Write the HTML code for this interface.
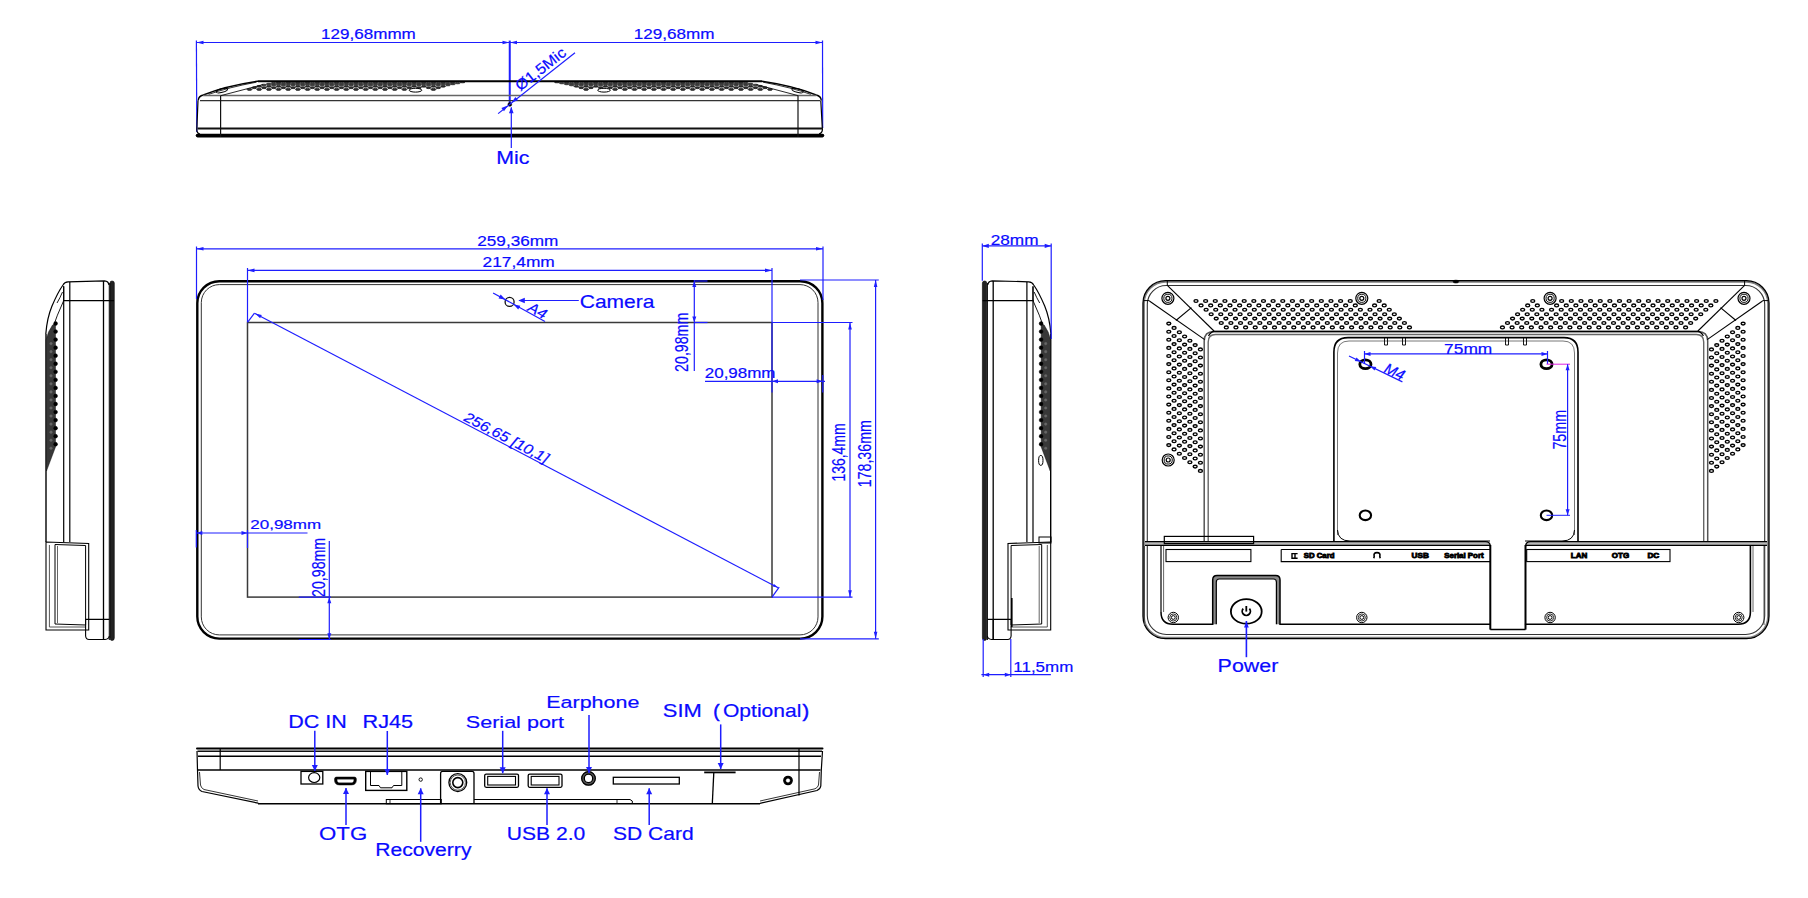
<!DOCTYPE html>
<html><head><meta charset="utf-8"><style>
html,body{margin:0;padding:0;background:#fff;}
body{width:1808px;height:898px;overflow:hidden;}
svg{display:block;font-family:"Liberation Sans",sans-serif;}
</style></head><body>
<svg width="1808" height="898" viewBox="0 0 1808 898">
<rect width="1808" height="898" fill="#fff"/>
<line x1="196.00" y1="42.50" x2="823.00" y2="42.50" stroke="#1e1eff" stroke-width="1.2" />
<line x1="196.40" y1="40.50" x2="196.80" y2="132.00" stroke="#1e1eff" stroke-width="1.2" />
<line x1="822.50" y1="40.50" x2="822.70" y2="128.00" stroke="#1e1eff" stroke-width="1.2" />
<line x1="509.75" y1="40.60" x2="509.75" y2="104.40" stroke="#1e1eff" stroke-width="2" />
<path d="M196.50,42.50 L203.50,40.70 L203.50,44.30 Z" fill="#1e1eff"/>
<path d="M822.50,42.50 L815.50,44.30 L815.50,40.70 Z" fill="#1e1eff"/>
<path d="M509.50,42.50 L502.50,44.30 L502.50,40.70 Z" fill="#1e1eff"/>
<path d="M510.00,42.50 L517.00,40.70 L517.00,44.30 Z" fill="#1e1eff"/>
<text x="321.10" y="38.87" font-size="14.565" fill="#0a0aff" textLength="94.72" lengthAdjust="spacingAndGlyphs" stroke="#0a0aff" stroke-width="0.2">129,68mmm</text>
<text x="633.80" y="38.87" font-size="14.565" fill="#0a0aff" textLength="80.73" lengthAdjust="spacingAndGlyphs" stroke="#0a0aff" stroke-width="0.2">129,68mm</text>
<ellipse cx="249.50" cy="89.40" rx="2.50" ry="1.00" stroke="#111" stroke-width="0.7" fill="#333" transform="rotate(0 249.50 89.40)"/>
<ellipse cx="770.00" cy="89.40" rx="2.50" ry="1.00" stroke="#111" stroke-width="0.7" fill="#333" transform="rotate(0 770.00 89.40)"/>
<ellipse cx="259.18" cy="89.40" rx="2.50" ry="1.00" stroke="#111" stroke-width="0.7" fill="#333" transform="rotate(0 259.18 89.40)"/>
<ellipse cx="760.32" cy="89.40" rx="2.50" ry="1.00" stroke="#111" stroke-width="0.7" fill="#333" transform="rotate(0 760.32 89.40)"/>
<ellipse cx="268.86" cy="89.40" rx="2.50" ry="1.00" stroke="#111" stroke-width="0.7" fill="#333" transform="rotate(0 268.86 89.40)"/>
<ellipse cx="750.64" cy="89.40" rx="2.50" ry="1.00" stroke="#111" stroke-width="0.7" fill="#333" transform="rotate(0 750.64 89.40)"/>
<ellipse cx="278.54" cy="89.40" rx="2.50" ry="1.00" stroke="#111" stroke-width="0.7" fill="#333" transform="rotate(0 278.54 89.40)"/>
<ellipse cx="740.96" cy="89.40" rx="2.50" ry="1.00" stroke="#111" stroke-width="0.7" fill="#333" transform="rotate(0 740.96 89.40)"/>
<ellipse cx="288.22" cy="89.40" rx="2.50" ry="1.00" stroke="#111" stroke-width="0.7" fill="#333" transform="rotate(0 288.22 89.40)"/>
<ellipse cx="731.28" cy="89.40" rx="2.50" ry="1.00" stroke="#111" stroke-width="0.7" fill="#333" transform="rotate(0 731.28 89.40)"/>
<ellipse cx="297.90" cy="89.40" rx="2.50" ry="1.00" stroke="#111" stroke-width="0.7" fill="#333" transform="rotate(0 297.90 89.40)"/>
<ellipse cx="721.60" cy="89.40" rx="2.50" ry="1.00" stroke="#111" stroke-width="0.7" fill="#333" transform="rotate(0 721.60 89.40)"/>
<ellipse cx="307.58" cy="89.40" rx="2.50" ry="1.00" stroke="#111" stroke-width="0.7" fill="#333" transform="rotate(0 307.58 89.40)"/>
<ellipse cx="711.92" cy="89.40" rx="2.50" ry="1.00" stroke="#111" stroke-width="0.7" fill="#333" transform="rotate(0 711.92 89.40)"/>
<ellipse cx="317.26" cy="89.40" rx="2.50" ry="1.00" stroke="#111" stroke-width="0.7" fill="#333" transform="rotate(0 317.26 89.40)"/>
<ellipse cx="702.24" cy="89.40" rx="2.50" ry="1.00" stroke="#111" stroke-width="0.7" fill="#333" transform="rotate(0 702.24 89.40)"/>
<ellipse cx="326.94" cy="89.40" rx="2.50" ry="1.00" stroke="#111" stroke-width="0.7" fill="#333" transform="rotate(0 326.94 89.40)"/>
<ellipse cx="692.56" cy="89.40" rx="2.50" ry="1.00" stroke="#111" stroke-width="0.7" fill="#333" transform="rotate(0 692.56 89.40)"/>
<ellipse cx="336.62" cy="89.40" rx="2.50" ry="1.00" stroke="#111" stroke-width="0.7" fill="#333" transform="rotate(0 336.62 89.40)"/>
<ellipse cx="682.88" cy="89.40" rx="2.50" ry="1.00" stroke="#111" stroke-width="0.7" fill="#333" transform="rotate(0 682.88 89.40)"/>
<ellipse cx="346.30" cy="89.40" rx="2.50" ry="1.00" stroke="#111" stroke-width="0.7" fill="#333" transform="rotate(0 346.30 89.40)"/>
<ellipse cx="673.20" cy="89.40" rx="2.50" ry="1.00" stroke="#111" stroke-width="0.7" fill="#333" transform="rotate(0 673.20 89.40)"/>
<ellipse cx="355.98" cy="89.40" rx="2.50" ry="1.00" stroke="#111" stroke-width="0.7" fill="#333" transform="rotate(0 355.98 89.40)"/>
<ellipse cx="663.52" cy="89.40" rx="2.50" ry="1.00" stroke="#111" stroke-width="0.7" fill="#333" transform="rotate(0 663.52 89.40)"/>
<ellipse cx="365.66" cy="89.40" rx="2.50" ry="1.00" stroke="#111" stroke-width="0.7" fill="#333" transform="rotate(0 365.66 89.40)"/>
<ellipse cx="653.84" cy="89.40" rx="2.50" ry="1.00" stroke="#111" stroke-width="0.7" fill="#333" transform="rotate(0 653.84 89.40)"/>
<ellipse cx="375.34" cy="89.40" rx="2.50" ry="1.00" stroke="#111" stroke-width="0.7" fill="#333" transform="rotate(0 375.34 89.40)"/>
<ellipse cx="644.16" cy="89.40" rx="2.50" ry="1.00" stroke="#111" stroke-width="0.7" fill="#333" transform="rotate(0 644.16 89.40)"/>
<ellipse cx="385.02" cy="89.40" rx="2.50" ry="1.00" stroke="#111" stroke-width="0.7" fill="#333" transform="rotate(0 385.02 89.40)"/>
<ellipse cx="634.48" cy="89.40" rx="2.50" ry="1.00" stroke="#111" stroke-width="0.7" fill="#333" transform="rotate(0 634.48 89.40)"/>
<ellipse cx="394.70" cy="89.40" rx="2.50" ry="1.00" stroke="#111" stroke-width="0.7" fill="#333" transform="rotate(0 394.70 89.40)"/>
<ellipse cx="624.80" cy="89.40" rx="2.50" ry="1.00" stroke="#111" stroke-width="0.7" fill="#333" transform="rotate(0 624.80 89.40)"/>
<ellipse cx="404.38" cy="89.40" rx="2.50" ry="1.00" stroke="#111" stroke-width="0.7" fill="#333" transform="rotate(0 404.38 89.40)"/>
<ellipse cx="615.12" cy="89.40" rx="2.50" ry="1.00" stroke="#111" stroke-width="0.7" fill="#333" transform="rotate(0 615.12 89.40)"/>
<ellipse cx="433.42" cy="89.40" rx="2.50" ry="1.00" stroke="#111" stroke-width="0.7" fill="#333" transform="rotate(0 433.42 89.40)"/>
<ellipse cx="586.08" cy="89.40" rx="2.50" ry="1.00" stroke="#111" stroke-width="0.7" fill="#333" transform="rotate(0 586.08 89.40)"/>
<ellipse cx="254.34" cy="87.70" rx="2.50" ry="0.94" stroke="#111" stroke-width="0.7" fill="#333" transform="rotate(0 254.34 87.70)"/>
<ellipse cx="765.16" cy="87.70" rx="2.50" ry="0.94" stroke="#111" stroke-width="0.7" fill="#333" transform="rotate(0 765.16 87.70)"/>
<ellipse cx="264.02" cy="87.70" rx="2.50" ry="0.94" stroke="#111" stroke-width="0.7" fill="#333" transform="rotate(0 264.02 87.70)"/>
<ellipse cx="755.48" cy="87.70" rx="2.50" ry="0.94" stroke="#111" stroke-width="0.7" fill="#333" transform="rotate(0 755.48 87.70)"/>
<ellipse cx="273.70" cy="87.70" rx="2.50" ry="0.94" stroke="#111" stroke-width="0.7" fill="#333" transform="rotate(0 273.70 87.70)"/>
<ellipse cx="745.80" cy="87.70" rx="2.50" ry="0.94" stroke="#111" stroke-width="0.7" fill="#333" transform="rotate(0 745.80 87.70)"/>
<ellipse cx="283.38" cy="87.70" rx="2.50" ry="0.94" stroke="#111" stroke-width="0.7" fill="#333" transform="rotate(0 283.38 87.70)"/>
<ellipse cx="736.12" cy="87.70" rx="2.50" ry="0.94" stroke="#111" stroke-width="0.7" fill="#333" transform="rotate(0 736.12 87.70)"/>
<ellipse cx="293.06" cy="87.70" rx="2.50" ry="0.94" stroke="#111" stroke-width="0.7" fill="#333" transform="rotate(0 293.06 87.70)"/>
<ellipse cx="726.44" cy="87.70" rx="2.50" ry="0.94" stroke="#111" stroke-width="0.7" fill="#333" transform="rotate(0 726.44 87.70)"/>
<ellipse cx="302.74" cy="87.70" rx="2.50" ry="0.94" stroke="#111" stroke-width="0.7" fill="#333" transform="rotate(0 302.74 87.70)"/>
<ellipse cx="716.76" cy="87.70" rx="2.50" ry="0.94" stroke="#111" stroke-width="0.7" fill="#333" transform="rotate(0 716.76 87.70)"/>
<ellipse cx="312.42" cy="87.70" rx="2.50" ry="0.94" stroke="#111" stroke-width="0.7" fill="#333" transform="rotate(0 312.42 87.70)"/>
<ellipse cx="707.08" cy="87.70" rx="2.50" ry="0.94" stroke="#111" stroke-width="0.7" fill="#333" transform="rotate(0 707.08 87.70)"/>
<ellipse cx="322.10" cy="87.70" rx="2.50" ry="0.94" stroke="#111" stroke-width="0.7" fill="#333" transform="rotate(0 322.10 87.70)"/>
<ellipse cx="697.40" cy="87.70" rx="2.50" ry="0.94" stroke="#111" stroke-width="0.7" fill="#333" transform="rotate(0 697.40 87.70)"/>
<ellipse cx="331.78" cy="87.70" rx="2.50" ry="0.94" stroke="#111" stroke-width="0.7" fill="#333" transform="rotate(0 331.78 87.70)"/>
<ellipse cx="687.72" cy="87.70" rx="2.50" ry="0.94" stroke="#111" stroke-width="0.7" fill="#333" transform="rotate(0 687.72 87.70)"/>
<ellipse cx="341.46" cy="87.70" rx="2.50" ry="0.94" stroke="#111" stroke-width="0.7" fill="#333" transform="rotate(0 341.46 87.70)"/>
<ellipse cx="678.04" cy="87.70" rx="2.50" ry="0.94" stroke="#111" stroke-width="0.7" fill="#333" transform="rotate(0 678.04 87.70)"/>
<ellipse cx="351.14" cy="87.70" rx="2.50" ry="0.94" stroke="#111" stroke-width="0.7" fill="#333" transform="rotate(0 351.14 87.70)"/>
<ellipse cx="668.36" cy="87.70" rx="2.50" ry="0.94" stroke="#111" stroke-width="0.7" fill="#333" transform="rotate(0 668.36 87.70)"/>
<ellipse cx="360.82" cy="87.70" rx="2.50" ry="0.94" stroke="#111" stroke-width="0.7" fill="#333" transform="rotate(0 360.82 87.70)"/>
<ellipse cx="658.68" cy="87.70" rx="2.50" ry="0.94" stroke="#111" stroke-width="0.7" fill="#333" transform="rotate(0 658.68 87.70)"/>
<ellipse cx="370.50" cy="87.70" rx="2.50" ry="0.94" stroke="#111" stroke-width="0.7" fill="#333" transform="rotate(0 370.50 87.70)"/>
<ellipse cx="649.00" cy="87.70" rx="2.50" ry="0.94" stroke="#111" stroke-width="0.7" fill="#333" transform="rotate(0 649.00 87.70)"/>
<ellipse cx="380.18" cy="87.70" rx="2.50" ry="0.94" stroke="#111" stroke-width="0.7" fill="#333" transform="rotate(0 380.18 87.70)"/>
<ellipse cx="639.32" cy="87.70" rx="2.50" ry="0.94" stroke="#111" stroke-width="0.7" fill="#333" transform="rotate(0 639.32 87.70)"/>
<ellipse cx="389.86" cy="87.70" rx="2.50" ry="0.94" stroke="#111" stroke-width="0.7" fill="#333" transform="rotate(0 389.86 87.70)"/>
<ellipse cx="629.64" cy="87.70" rx="2.50" ry="0.94" stroke="#111" stroke-width="0.7" fill="#333" transform="rotate(0 629.64 87.70)"/>
<ellipse cx="399.54" cy="87.70" rx="2.50" ry="0.94" stroke="#111" stroke-width="0.7" fill="#333" transform="rotate(0 399.54 87.70)"/>
<ellipse cx="619.96" cy="87.70" rx="2.50" ry="0.94" stroke="#111" stroke-width="0.7" fill="#333" transform="rotate(0 619.96 87.70)"/>
<ellipse cx="409.22" cy="87.70" rx="2.50" ry="0.94" stroke="#111" stroke-width="0.7" fill="#333" transform="rotate(0 409.22 87.70)"/>
<ellipse cx="610.28" cy="87.70" rx="2.50" ry="0.94" stroke="#111" stroke-width="0.7" fill="#333" transform="rotate(0 610.28 87.70)"/>
<ellipse cx="418.90" cy="87.70" rx="2.50" ry="0.94" stroke="#111" stroke-width="0.7" fill="#333" transform="rotate(0 418.90 87.70)"/>
<ellipse cx="600.60" cy="87.70" rx="2.50" ry="0.94" stroke="#111" stroke-width="0.7" fill="#333" transform="rotate(0 600.60 87.70)"/>
<ellipse cx="428.58" cy="87.70" rx="2.50" ry="0.94" stroke="#111" stroke-width="0.7" fill="#333" transform="rotate(0 428.58 87.70)"/>
<ellipse cx="590.92" cy="87.70" rx="2.50" ry="0.94" stroke="#111" stroke-width="0.7" fill="#333" transform="rotate(0 590.92 87.70)"/>
<ellipse cx="438.26" cy="87.70" rx="2.50" ry="0.94" stroke="#111" stroke-width="0.7" fill="#333" transform="rotate(0 438.26 87.70)"/>
<ellipse cx="581.24" cy="87.70" rx="2.50" ry="0.94" stroke="#111" stroke-width="0.7" fill="#333" transform="rotate(0 581.24 87.70)"/>
<ellipse cx="259.18" cy="86.30" rx="2.50" ry="0.88" stroke="#111" stroke-width="0.7" fill="#333" transform="rotate(0 259.18 86.30)"/>
<ellipse cx="760.32" cy="86.30" rx="2.50" ry="0.88" stroke="#111" stroke-width="0.7" fill="#333" transform="rotate(0 760.32 86.30)"/>
<ellipse cx="268.86" cy="86.30" rx="2.50" ry="0.88" stroke="#111" stroke-width="0.7" fill="#333" transform="rotate(0 268.86 86.30)"/>
<ellipse cx="750.64" cy="86.30" rx="2.50" ry="0.88" stroke="#111" stroke-width="0.7" fill="#333" transform="rotate(0 750.64 86.30)"/>
<ellipse cx="278.54" cy="86.30" rx="2.50" ry="0.88" stroke="#111" stroke-width="0.7" fill="#333" transform="rotate(0 278.54 86.30)"/>
<ellipse cx="740.96" cy="86.30" rx="2.50" ry="0.88" stroke="#111" stroke-width="0.7" fill="#333" transform="rotate(0 740.96 86.30)"/>
<ellipse cx="288.22" cy="86.30" rx="2.50" ry="0.88" stroke="#111" stroke-width="0.7" fill="#333" transform="rotate(0 288.22 86.30)"/>
<ellipse cx="731.28" cy="86.30" rx="2.50" ry="0.88" stroke="#111" stroke-width="0.7" fill="#333" transform="rotate(0 731.28 86.30)"/>
<ellipse cx="297.90" cy="86.30" rx="2.50" ry="0.88" stroke="#111" stroke-width="0.7" fill="#333" transform="rotate(0 297.90 86.30)"/>
<ellipse cx="721.60" cy="86.30" rx="2.50" ry="0.88" stroke="#111" stroke-width="0.7" fill="#333" transform="rotate(0 721.60 86.30)"/>
<ellipse cx="307.58" cy="86.30" rx="2.50" ry="0.88" stroke="#111" stroke-width="0.7" fill="#333" transform="rotate(0 307.58 86.30)"/>
<ellipse cx="711.92" cy="86.30" rx="2.50" ry="0.88" stroke="#111" stroke-width="0.7" fill="#333" transform="rotate(0 711.92 86.30)"/>
<ellipse cx="317.26" cy="86.30" rx="2.50" ry="0.88" stroke="#111" stroke-width="0.7" fill="#333" transform="rotate(0 317.26 86.30)"/>
<ellipse cx="702.24" cy="86.30" rx="2.50" ry="0.88" stroke="#111" stroke-width="0.7" fill="#333" transform="rotate(0 702.24 86.30)"/>
<ellipse cx="326.94" cy="86.30" rx="2.50" ry="0.88" stroke="#111" stroke-width="0.7" fill="#333" transform="rotate(0 326.94 86.30)"/>
<ellipse cx="692.56" cy="86.30" rx="2.50" ry="0.88" stroke="#111" stroke-width="0.7" fill="#333" transform="rotate(0 692.56 86.30)"/>
<ellipse cx="336.62" cy="86.30" rx="2.50" ry="0.88" stroke="#111" stroke-width="0.7" fill="#333" transform="rotate(0 336.62 86.30)"/>
<ellipse cx="682.88" cy="86.30" rx="2.50" ry="0.88" stroke="#111" stroke-width="0.7" fill="#333" transform="rotate(0 682.88 86.30)"/>
<ellipse cx="346.30" cy="86.30" rx="2.50" ry="0.88" stroke="#111" stroke-width="0.7" fill="#333" transform="rotate(0 346.30 86.30)"/>
<ellipse cx="673.20" cy="86.30" rx="2.50" ry="0.88" stroke="#111" stroke-width="0.7" fill="#333" transform="rotate(0 673.20 86.30)"/>
<ellipse cx="355.98" cy="86.30" rx="2.50" ry="0.88" stroke="#111" stroke-width="0.7" fill="#333" transform="rotate(0 355.98 86.30)"/>
<ellipse cx="663.52" cy="86.30" rx="2.50" ry="0.88" stroke="#111" stroke-width="0.7" fill="#333" transform="rotate(0 663.52 86.30)"/>
<ellipse cx="365.66" cy="86.30" rx="2.50" ry="0.88" stroke="#111" stroke-width="0.7" fill="#333" transform="rotate(0 365.66 86.30)"/>
<ellipse cx="653.84" cy="86.30" rx="2.50" ry="0.88" stroke="#111" stroke-width="0.7" fill="#333" transform="rotate(0 653.84 86.30)"/>
<ellipse cx="375.34" cy="86.30" rx="2.50" ry="0.88" stroke="#111" stroke-width="0.7" fill="#333" transform="rotate(0 375.34 86.30)"/>
<ellipse cx="644.16" cy="86.30" rx="2.50" ry="0.88" stroke="#111" stroke-width="0.7" fill="#333" transform="rotate(0 644.16 86.30)"/>
<ellipse cx="385.02" cy="86.30" rx="2.50" ry="0.88" stroke="#111" stroke-width="0.7" fill="#333" transform="rotate(0 385.02 86.30)"/>
<ellipse cx="634.48" cy="86.30" rx="2.50" ry="0.88" stroke="#111" stroke-width="0.7" fill="#333" transform="rotate(0 634.48 86.30)"/>
<ellipse cx="394.70" cy="86.30" rx="2.50" ry="0.88" stroke="#111" stroke-width="0.7" fill="#333" transform="rotate(0 394.70 86.30)"/>
<ellipse cx="624.80" cy="86.30" rx="2.50" ry="0.88" stroke="#111" stroke-width="0.7" fill="#333" transform="rotate(0 624.80 86.30)"/>
<ellipse cx="404.38" cy="86.30" rx="2.50" ry="0.88" stroke="#111" stroke-width="0.7" fill="#333" transform="rotate(0 404.38 86.30)"/>
<ellipse cx="615.12" cy="86.30" rx="2.50" ry="0.88" stroke="#111" stroke-width="0.7" fill="#333" transform="rotate(0 615.12 86.30)"/>
<ellipse cx="414.06" cy="86.30" rx="2.50" ry="0.88" stroke="#111" stroke-width="0.7" fill="#333" transform="rotate(0 414.06 86.30)"/>
<ellipse cx="605.44" cy="86.30" rx="2.50" ry="0.88" stroke="#111" stroke-width="0.7" fill="#333" transform="rotate(0 605.44 86.30)"/>
<ellipse cx="423.74" cy="86.30" rx="2.50" ry="0.88" stroke="#111" stroke-width="0.7" fill="#333" transform="rotate(0 423.74 86.30)"/>
<ellipse cx="595.76" cy="86.30" rx="2.50" ry="0.88" stroke="#111" stroke-width="0.7" fill="#333" transform="rotate(0 595.76 86.30)"/>
<ellipse cx="433.42" cy="86.30" rx="2.50" ry="0.88" stroke="#111" stroke-width="0.7" fill="#333" transform="rotate(0 433.42 86.30)"/>
<ellipse cx="586.08" cy="86.30" rx="2.50" ry="0.88" stroke="#111" stroke-width="0.7" fill="#333" transform="rotate(0 586.08 86.30)"/>
<ellipse cx="443.10" cy="86.30" rx="2.50" ry="0.88" stroke="#111" stroke-width="0.7" fill="#333" transform="rotate(0 443.10 86.30)"/>
<ellipse cx="576.40" cy="86.30" rx="2.50" ry="0.88" stroke="#111" stroke-width="0.7" fill="#333" transform="rotate(0 576.40 86.30)"/>
<ellipse cx="264.02" cy="85.00" rx="2.50" ry="0.82" stroke="#111" stroke-width="0.7" fill="#333" transform="rotate(0 264.02 85.00)"/>
<ellipse cx="755.48" cy="85.00" rx="2.50" ry="0.82" stroke="#111" stroke-width="0.7" fill="#333" transform="rotate(0 755.48 85.00)"/>
<ellipse cx="273.70" cy="85.00" rx="2.50" ry="0.82" stroke="#111" stroke-width="0.7" fill="#333" transform="rotate(0 273.70 85.00)"/>
<ellipse cx="745.80" cy="85.00" rx="2.50" ry="0.82" stroke="#111" stroke-width="0.7" fill="#333" transform="rotate(0 745.80 85.00)"/>
<ellipse cx="283.38" cy="85.00" rx="2.50" ry="0.82" stroke="#111" stroke-width="0.7" fill="#333" transform="rotate(0 283.38 85.00)"/>
<ellipse cx="736.12" cy="85.00" rx="2.50" ry="0.82" stroke="#111" stroke-width="0.7" fill="#333" transform="rotate(0 736.12 85.00)"/>
<ellipse cx="293.06" cy="85.00" rx="2.50" ry="0.82" stroke="#111" stroke-width="0.7" fill="#333" transform="rotate(0 293.06 85.00)"/>
<ellipse cx="726.44" cy="85.00" rx="2.50" ry="0.82" stroke="#111" stroke-width="0.7" fill="#333" transform="rotate(0 726.44 85.00)"/>
<ellipse cx="302.74" cy="85.00" rx="2.50" ry="0.82" stroke="#111" stroke-width="0.7" fill="#333" transform="rotate(0 302.74 85.00)"/>
<ellipse cx="716.76" cy="85.00" rx="2.50" ry="0.82" stroke="#111" stroke-width="0.7" fill="#333" transform="rotate(0 716.76 85.00)"/>
<ellipse cx="312.42" cy="85.00" rx="2.50" ry="0.82" stroke="#111" stroke-width="0.7" fill="#333" transform="rotate(0 312.42 85.00)"/>
<ellipse cx="707.08" cy="85.00" rx="2.50" ry="0.82" stroke="#111" stroke-width="0.7" fill="#333" transform="rotate(0 707.08 85.00)"/>
<ellipse cx="322.10" cy="85.00" rx="2.50" ry="0.82" stroke="#111" stroke-width="0.7" fill="#333" transform="rotate(0 322.10 85.00)"/>
<ellipse cx="697.40" cy="85.00" rx="2.50" ry="0.82" stroke="#111" stroke-width="0.7" fill="#333" transform="rotate(0 697.40 85.00)"/>
<ellipse cx="331.78" cy="85.00" rx="2.50" ry="0.82" stroke="#111" stroke-width="0.7" fill="#333" transform="rotate(0 331.78 85.00)"/>
<ellipse cx="687.72" cy="85.00" rx="2.50" ry="0.82" stroke="#111" stroke-width="0.7" fill="#333" transform="rotate(0 687.72 85.00)"/>
<ellipse cx="341.46" cy="85.00" rx="2.50" ry="0.82" stroke="#111" stroke-width="0.7" fill="#333" transform="rotate(0 341.46 85.00)"/>
<ellipse cx="678.04" cy="85.00" rx="2.50" ry="0.82" stroke="#111" stroke-width="0.7" fill="#333" transform="rotate(0 678.04 85.00)"/>
<ellipse cx="351.14" cy="85.00" rx="2.50" ry="0.82" stroke="#111" stroke-width="0.7" fill="#333" transform="rotate(0 351.14 85.00)"/>
<ellipse cx="668.36" cy="85.00" rx="2.50" ry="0.82" stroke="#111" stroke-width="0.7" fill="#333" transform="rotate(0 668.36 85.00)"/>
<ellipse cx="360.82" cy="85.00" rx="2.50" ry="0.82" stroke="#111" stroke-width="0.7" fill="#333" transform="rotate(0 360.82 85.00)"/>
<ellipse cx="658.68" cy="85.00" rx="2.50" ry="0.82" stroke="#111" stroke-width="0.7" fill="#333" transform="rotate(0 658.68 85.00)"/>
<ellipse cx="370.50" cy="85.00" rx="2.50" ry="0.82" stroke="#111" stroke-width="0.7" fill="#333" transform="rotate(0 370.50 85.00)"/>
<ellipse cx="649.00" cy="85.00" rx="2.50" ry="0.82" stroke="#111" stroke-width="0.7" fill="#333" transform="rotate(0 649.00 85.00)"/>
<ellipse cx="380.18" cy="85.00" rx="2.50" ry="0.82" stroke="#111" stroke-width="0.7" fill="#333" transform="rotate(0 380.18 85.00)"/>
<ellipse cx="639.32" cy="85.00" rx="2.50" ry="0.82" stroke="#111" stroke-width="0.7" fill="#333" transform="rotate(0 639.32 85.00)"/>
<ellipse cx="389.86" cy="85.00" rx="2.50" ry="0.82" stroke="#111" stroke-width="0.7" fill="#333" transform="rotate(0 389.86 85.00)"/>
<ellipse cx="629.64" cy="85.00" rx="2.50" ry="0.82" stroke="#111" stroke-width="0.7" fill="#333" transform="rotate(0 629.64 85.00)"/>
<ellipse cx="399.54" cy="85.00" rx="2.50" ry="0.82" stroke="#111" stroke-width="0.7" fill="#333" transform="rotate(0 399.54 85.00)"/>
<ellipse cx="619.96" cy="85.00" rx="2.50" ry="0.82" stroke="#111" stroke-width="0.7" fill="#333" transform="rotate(0 619.96 85.00)"/>
<ellipse cx="409.22" cy="85.00" rx="2.50" ry="0.82" stroke="#111" stroke-width="0.7" fill="#333" transform="rotate(0 409.22 85.00)"/>
<ellipse cx="610.28" cy="85.00" rx="2.50" ry="0.82" stroke="#111" stroke-width="0.7" fill="#333" transform="rotate(0 610.28 85.00)"/>
<ellipse cx="418.90" cy="85.00" rx="2.50" ry="0.82" stroke="#111" stroke-width="0.7" fill="#333" transform="rotate(0 418.90 85.00)"/>
<ellipse cx="600.60" cy="85.00" rx="2.50" ry="0.82" stroke="#111" stroke-width="0.7" fill="#333" transform="rotate(0 600.60 85.00)"/>
<ellipse cx="428.58" cy="85.00" rx="2.50" ry="0.82" stroke="#111" stroke-width="0.7" fill="#333" transform="rotate(0 428.58 85.00)"/>
<ellipse cx="590.92" cy="85.00" rx="2.50" ry="0.82" stroke="#111" stroke-width="0.7" fill="#333" transform="rotate(0 590.92 85.00)"/>
<ellipse cx="438.26" cy="85.00" rx="2.50" ry="0.82" stroke="#111" stroke-width="0.7" fill="#333" transform="rotate(0 438.26 85.00)"/>
<ellipse cx="581.24" cy="85.00" rx="2.50" ry="0.82" stroke="#111" stroke-width="0.7" fill="#333" transform="rotate(0 581.24 85.00)"/>
<ellipse cx="447.94" cy="85.00" rx="2.50" ry="0.82" stroke="#111" stroke-width="0.7" fill="#333" transform="rotate(0 447.94 85.00)"/>
<ellipse cx="571.56" cy="85.00" rx="2.50" ry="0.82" stroke="#111" stroke-width="0.7" fill="#333" transform="rotate(0 571.56 85.00)"/>
<ellipse cx="268.86" cy="84.00" rx="2.50" ry="0.76" stroke="#111" stroke-width="0.7" fill="#333" transform="rotate(0 268.86 84.00)"/>
<ellipse cx="750.64" cy="84.00" rx="2.50" ry="0.76" stroke="#111" stroke-width="0.7" fill="#333" transform="rotate(0 750.64 84.00)"/>
<ellipse cx="278.54" cy="84.00" rx="2.50" ry="0.76" stroke="#111" stroke-width="0.7" fill="#333" transform="rotate(0 278.54 84.00)"/>
<ellipse cx="740.96" cy="84.00" rx="2.50" ry="0.76" stroke="#111" stroke-width="0.7" fill="#333" transform="rotate(0 740.96 84.00)"/>
<ellipse cx="288.22" cy="84.00" rx="2.50" ry="0.76" stroke="#111" stroke-width="0.7" fill="#333" transform="rotate(0 288.22 84.00)"/>
<ellipse cx="731.28" cy="84.00" rx="2.50" ry="0.76" stroke="#111" stroke-width="0.7" fill="#333" transform="rotate(0 731.28 84.00)"/>
<ellipse cx="297.90" cy="84.00" rx="2.50" ry="0.76" stroke="#111" stroke-width="0.7" fill="#333" transform="rotate(0 297.90 84.00)"/>
<ellipse cx="721.60" cy="84.00" rx="2.50" ry="0.76" stroke="#111" stroke-width="0.7" fill="#333" transform="rotate(0 721.60 84.00)"/>
<ellipse cx="307.58" cy="84.00" rx="2.50" ry="0.76" stroke="#111" stroke-width="0.7" fill="#333" transform="rotate(0 307.58 84.00)"/>
<ellipse cx="711.92" cy="84.00" rx="2.50" ry="0.76" stroke="#111" stroke-width="0.7" fill="#333" transform="rotate(0 711.92 84.00)"/>
<ellipse cx="317.26" cy="84.00" rx="2.50" ry="0.76" stroke="#111" stroke-width="0.7" fill="#333" transform="rotate(0 317.26 84.00)"/>
<ellipse cx="702.24" cy="84.00" rx="2.50" ry="0.76" stroke="#111" stroke-width="0.7" fill="#333" transform="rotate(0 702.24 84.00)"/>
<ellipse cx="326.94" cy="84.00" rx="2.50" ry="0.76" stroke="#111" stroke-width="0.7" fill="#333" transform="rotate(0 326.94 84.00)"/>
<ellipse cx="692.56" cy="84.00" rx="2.50" ry="0.76" stroke="#111" stroke-width="0.7" fill="#333" transform="rotate(0 692.56 84.00)"/>
<ellipse cx="336.62" cy="84.00" rx="2.50" ry="0.76" stroke="#111" stroke-width="0.7" fill="#333" transform="rotate(0 336.62 84.00)"/>
<ellipse cx="682.88" cy="84.00" rx="2.50" ry="0.76" stroke="#111" stroke-width="0.7" fill="#333" transform="rotate(0 682.88 84.00)"/>
<ellipse cx="346.30" cy="84.00" rx="2.50" ry="0.76" stroke="#111" stroke-width="0.7" fill="#333" transform="rotate(0 346.30 84.00)"/>
<ellipse cx="673.20" cy="84.00" rx="2.50" ry="0.76" stroke="#111" stroke-width="0.7" fill="#333" transform="rotate(0 673.20 84.00)"/>
<ellipse cx="355.98" cy="84.00" rx="2.50" ry="0.76" stroke="#111" stroke-width="0.7" fill="#333" transform="rotate(0 355.98 84.00)"/>
<ellipse cx="663.52" cy="84.00" rx="2.50" ry="0.76" stroke="#111" stroke-width="0.7" fill="#333" transform="rotate(0 663.52 84.00)"/>
<ellipse cx="365.66" cy="84.00" rx="2.50" ry="0.76" stroke="#111" stroke-width="0.7" fill="#333" transform="rotate(0 365.66 84.00)"/>
<ellipse cx="653.84" cy="84.00" rx="2.50" ry="0.76" stroke="#111" stroke-width="0.7" fill="#333" transform="rotate(0 653.84 84.00)"/>
<ellipse cx="375.34" cy="84.00" rx="2.50" ry="0.76" stroke="#111" stroke-width="0.7" fill="#333" transform="rotate(0 375.34 84.00)"/>
<ellipse cx="644.16" cy="84.00" rx="2.50" ry="0.76" stroke="#111" stroke-width="0.7" fill="#333" transform="rotate(0 644.16 84.00)"/>
<ellipse cx="385.02" cy="84.00" rx="2.50" ry="0.76" stroke="#111" stroke-width="0.7" fill="#333" transform="rotate(0 385.02 84.00)"/>
<ellipse cx="634.48" cy="84.00" rx="2.50" ry="0.76" stroke="#111" stroke-width="0.7" fill="#333" transform="rotate(0 634.48 84.00)"/>
<ellipse cx="394.70" cy="84.00" rx="2.50" ry="0.76" stroke="#111" stroke-width="0.7" fill="#333" transform="rotate(0 394.70 84.00)"/>
<ellipse cx="624.80" cy="84.00" rx="2.50" ry="0.76" stroke="#111" stroke-width="0.7" fill="#333" transform="rotate(0 624.80 84.00)"/>
<ellipse cx="404.38" cy="84.00" rx="2.50" ry="0.76" stroke="#111" stroke-width="0.7" fill="#333" transform="rotate(0 404.38 84.00)"/>
<ellipse cx="615.12" cy="84.00" rx="2.50" ry="0.76" stroke="#111" stroke-width="0.7" fill="#333" transform="rotate(0 615.12 84.00)"/>
<ellipse cx="414.06" cy="84.00" rx="2.50" ry="0.76" stroke="#111" stroke-width="0.7" fill="#333" transform="rotate(0 414.06 84.00)"/>
<ellipse cx="605.44" cy="84.00" rx="2.50" ry="0.76" stroke="#111" stroke-width="0.7" fill="#333" transform="rotate(0 605.44 84.00)"/>
<ellipse cx="423.74" cy="84.00" rx="2.50" ry="0.76" stroke="#111" stroke-width="0.7" fill="#333" transform="rotate(0 423.74 84.00)"/>
<ellipse cx="595.76" cy="84.00" rx="2.50" ry="0.76" stroke="#111" stroke-width="0.7" fill="#333" transform="rotate(0 595.76 84.00)"/>
<ellipse cx="433.42" cy="84.00" rx="2.50" ry="0.76" stroke="#111" stroke-width="0.7" fill="#333" transform="rotate(0 433.42 84.00)"/>
<ellipse cx="586.08" cy="84.00" rx="2.50" ry="0.76" stroke="#111" stroke-width="0.7" fill="#333" transform="rotate(0 586.08 84.00)"/>
<ellipse cx="443.10" cy="84.00" rx="2.50" ry="0.76" stroke="#111" stroke-width="0.7" fill="#333" transform="rotate(0 443.10 84.00)"/>
<ellipse cx="576.40" cy="84.00" rx="2.50" ry="0.76" stroke="#111" stroke-width="0.7" fill="#333" transform="rotate(0 576.40 84.00)"/>
<ellipse cx="452.78" cy="84.00" rx="2.50" ry="0.76" stroke="#111" stroke-width="0.7" fill="#333" transform="rotate(0 452.78 84.00)"/>
<ellipse cx="566.72" cy="84.00" rx="2.50" ry="0.76" stroke="#111" stroke-width="0.7" fill="#333" transform="rotate(0 566.72 84.00)"/>
<ellipse cx="273.70" cy="83.10" rx="2.50" ry="0.70" stroke="#111" stroke-width="0.7" fill="#333" transform="rotate(0 273.70 83.10)"/>
<ellipse cx="745.80" cy="83.10" rx="2.50" ry="0.70" stroke="#111" stroke-width="0.7" fill="#333" transform="rotate(0 745.80 83.10)"/>
<ellipse cx="283.38" cy="83.10" rx="2.50" ry="0.70" stroke="#111" stroke-width="0.7" fill="#333" transform="rotate(0 283.38 83.10)"/>
<ellipse cx="736.12" cy="83.10" rx="2.50" ry="0.70" stroke="#111" stroke-width="0.7" fill="#333" transform="rotate(0 736.12 83.10)"/>
<ellipse cx="293.06" cy="83.10" rx="2.50" ry="0.70" stroke="#111" stroke-width="0.7" fill="#333" transform="rotate(0 293.06 83.10)"/>
<ellipse cx="726.44" cy="83.10" rx="2.50" ry="0.70" stroke="#111" stroke-width="0.7" fill="#333" transform="rotate(0 726.44 83.10)"/>
<ellipse cx="302.74" cy="83.10" rx="2.50" ry="0.70" stroke="#111" stroke-width="0.7" fill="#333" transform="rotate(0 302.74 83.10)"/>
<ellipse cx="716.76" cy="83.10" rx="2.50" ry="0.70" stroke="#111" stroke-width="0.7" fill="#333" transform="rotate(0 716.76 83.10)"/>
<ellipse cx="312.42" cy="83.10" rx="2.50" ry="0.70" stroke="#111" stroke-width="0.7" fill="#333" transform="rotate(0 312.42 83.10)"/>
<ellipse cx="707.08" cy="83.10" rx="2.50" ry="0.70" stroke="#111" stroke-width="0.7" fill="#333" transform="rotate(0 707.08 83.10)"/>
<ellipse cx="322.10" cy="83.10" rx="2.50" ry="0.70" stroke="#111" stroke-width="0.7" fill="#333" transform="rotate(0 322.10 83.10)"/>
<ellipse cx="697.40" cy="83.10" rx="2.50" ry="0.70" stroke="#111" stroke-width="0.7" fill="#333" transform="rotate(0 697.40 83.10)"/>
<ellipse cx="331.78" cy="83.10" rx="2.50" ry="0.70" stroke="#111" stroke-width="0.7" fill="#333" transform="rotate(0 331.78 83.10)"/>
<ellipse cx="687.72" cy="83.10" rx="2.50" ry="0.70" stroke="#111" stroke-width="0.7" fill="#333" transform="rotate(0 687.72 83.10)"/>
<ellipse cx="341.46" cy="83.10" rx="2.50" ry="0.70" stroke="#111" stroke-width="0.7" fill="#333" transform="rotate(0 341.46 83.10)"/>
<ellipse cx="678.04" cy="83.10" rx="2.50" ry="0.70" stroke="#111" stroke-width="0.7" fill="#333" transform="rotate(0 678.04 83.10)"/>
<ellipse cx="351.14" cy="83.10" rx="2.50" ry="0.70" stroke="#111" stroke-width="0.7" fill="#333" transform="rotate(0 351.14 83.10)"/>
<ellipse cx="668.36" cy="83.10" rx="2.50" ry="0.70" stroke="#111" stroke-width="0.7" fill="#333" transform="rotate(0 668.36 83.10)"/>
<ellipse cx="360.82" cy="83.10" rx="2.50" ry="0.70" stroke="#111" stroke-width="0.7" fill="#333" transform="rotate(0 360.82 83.10)"/>
<ellipse cx="658.68" cy="83.10" rx="2.50" ry="0.70" stroke="#111" stroke-width="0.7" fill="#333" transform="rotate(0 658.68 83.10)"/>
<ellipse cx="370.50" cy="83.10" rx="2.50" ry="0.70" stroke="#111" stroke-width="0.7" fill="#333" transform="rotate(0 370.50 83.10)"/>
<ellipse cx="649.00" cy="83.10" rx="2.50" ry="0.70" stroke="#111" stroke-width="0.7" fill="#333" transform="rotate(0 649.00 83.10)"/>
<ellipse cx="380.18" cy="83.10" rx="2.50" ry="0.70" stroke="#111" stroke-width="0.7" fill="#333" transform="rotate(0 380.18 83.10)"/>
<ellipse cx="639.32" cy="83.10" rx="2.50" ry="0.70" stroke="#111" stroke-width="0.7" fill="#333" transform="rotate(0 639.32 83.10)"/>
<ellipse cx="389.86" cy="83.10" rx="2.50" ry="0.70" stroke="#111" stroke-width="0.7" fill="#333" transform="rotate(0 389.86 83.10)"/>
<ellipse cx="629.64" cy="83.10" rx="2.50" ry="0.70" stroke="#111" stroke-width="0.7" fill="#333" transform="rotate(0 629.64 83.10)"/>
<ellipse cx="399.54" cy="83.10" rx="2.50" ry="0.70" stroke="#111" stroke-width="0.7" fill="#333" transform="rotate(0 399.54 83.10)"/>
<ellipse cx="619.96" cy="83.10" rx="2.50" ry="0.70" stroke="#111" stroke-width="0.7" fill="#333" transform="rotate(0 619.96 83.10)"/>
<ellipse cx="409.22" cy="83.10" rx="2.50" ry="0.70" stroke="#111" stroke-width="0.7" fill="#333" transform="rotate(0 409.22 83.10)"/>
<ellipse cx="610.28" cy="83.10" rx="2.50" ry="0.70" stroke="#111" stroke-width="0.7" fill="#333" transform="rotate(0 610.28 83.10)"/>
<ellipse cx="418.90" cy="83.10" rx="2.50" ry="0.70" stroke="#111" stroke-width="0.7" fill="#333" transform="rotate(0 418.90 83.10)"/>
<ellipse cx="600.60" cy="83.10" rx="2.50" ry="0.70" stroke="#111" stroke-width="0.7" fill="#333" transform="rotate(0 600.60 83.10)"/>
<ellipse cx="428.58" cy="83.10" rx="2.50" ry="0.70" stroke="#111" stroke-width="0.7" fill="#333" transform="rotate(0 428.58 83.10)"/>
<ellipse cx="590.92" cy="83.10" rx="2.50" ry="0.70" stroke="#111" stroke-width="0.7" fill="#333" transform="rotate(0 590.92 83.10)"/>
<ellipse cx="438.26" cy="83.10" rx="2.50" ry="0.70" stroke="#111" stroke-width="0.7" fill="#333" transform="rotate(0 438.26 83.10)"/>
<ellipse cx="581.24" cy="83.10" rx="2.50" ry="0.70" stroke="#111" stroke-width="0.7" fill="#333" transform="rotate(0 581.24 83.10)"/>
<ellipse cx="447.94" cy="83.10" rx="2.50" ry="0.70" stroke="#111" stroke-width="0.7" fill="#333" transform="rotate(0 447.94 83.10)"/>
<ellipse cx="571.56" cy="83.10" rx="2.50" ry="0.70" stroke="#111" stroke-width="0.7" fill="#333" transform="rotate(0 571.56 83.10)"/>
<ellipse cx="457.62" cy="83.10" rx="2.50" ry="0.70" stroke="#111" stroke-width="0.7" fill="#333" transform="rotate(0 457.62 83.10)"/>
<ellipse cx="561.88" cy="83.10" rx="2.50" ry="0.70" stroke="#111" stroke-width="0.7" fill="#333" transform="rotate(0 561.88 83.10)"/>
<ellipse cx="278.54" cy="82.20" rx="2.50" ry="0.64" stroke="#111" stroke-width="0.7" fill="#333" transform="rotate(0 278.54 82.20)"/>
<ellipse cx="740.96" cy="82.20" rx="2.50" ry="0.64" stroke="#111" stroke-width="0.7" fill="#333" transform="rotate(0 740.96 82.20)"/>
<ellipse cx="288.22" cy="82.20" rx="2.50" ry="0.64" stroke="#111" stroke-width="0.7" fill="#333" transform="rotate(0 288.22 82.20)"/>
<ellipse cx="731.28" cy="82.20" rx="2.50" ry="0.64" stroke="#111" stroke-width="0.7" fill="#333" transform="rotate(0 731.28 82.20)"/>
<ellipse cx="297.90" cy="82.20" rx="2.50" ry="0.64" stroke="#111" stroke-width="0.7" fill="#333" transform="rotate(0 297.90 82.20)"/>
<ellipse cx="721.60" cy="82.20" rx="2.50" ry="0.64" stroke="#111" stroke-width="0.7" fill="#333" transform="rotate(0 721.60 82.20)"/>
<ellipse cx="307.58" cy="82.20" rx="2.50" ry="0.64" stroke="#111" stroke-width="0.7" fill="#333" transform="rotate(0 307.58 82.20)"/>
<ellipse cx="711.92" cy="82.20" rx="2.50" ry="0.64" stroke="#111" stroke-width="0.7" fill="#333" transform="rotate(0 711.92 82.20)"/>
<ellipse cx="317.26" cy="82.20" rx="2.50" ry="0.64" stroke="#111" stroke-width="0.7" fill="#333" transform="rotate(0 317.26 82.20)"/>
<ellipse cx="702.24" cy="82.20" rx="2.50" ry="0.64" stroke="#111" stroke-width="0.7" fill="#333" transform="rotate(0 702.24 82.20)"/>
<ellipse cx="326.94" cy="82.20" rx="2.50" ry="0.64" stroke="#111" stroke-width="0.7" fill="#333" transform="rotate(0 326.94 82.20)"/>
<ellipse cx="692.56" cy="82.20" rx="2.50" ry="0.64" stroke="#111" stroke-width="0.7" fill="#333" transform="rotate(0 692.56 82.20)"/>
<ellipse cx="336.62" cy="82.20" rx="2.50" ry="0.64" stroke="#111" stroke-width="0.7" fill="#333" transform="rotate(0 336.62 82.20)"/>
<ellipse cx="682.88" cy="82.20" rx="2.50" ry="0.64" stroke="#111" stroke-width="0.7" fill="#333" transform="rotate(0 682.88 82.20)"/>
<ellipse cx="346.30" cy="82.20" rx="2.50" ry="0.64" stroke="#111" stroke-width="0.7" fill="#333" transform="rotate(0 346.30 82.20)"/>
<ellipse cx="673.20" cy="82.20" rx="2.50" ry="0.64" stroke="#111" stroke-width="0.7" fill="#333" transform="rotate(0 673.20 82.20)"/>
<ellipse cx="355.98" cy="82.20" rx="2.50" ry="0.64" stroke="#111" stroke-width="0.7" fill="#333" transform="rotate(0 355.98 82.20)"/>
<ellipse cx="663.52" cy="82.20" rx="2.50" ry="0.64" stroke="#111" stroke-width="0.7" fill="#333" transform="rotate(0 663.52 82.20)"/>
<ellipse cx="365.66" cy="82.20" rx="2.50" ry="0.64" stroke="#111" stroke-width="0.7" fill="#333" transform="rotate(0 365.66 82.20)"/>
<ellipse cx="653.84" cy="82.20" rx="2.50" ry="0.64" stroke="#111" stroke-width="0.7" fill="#333" transform="rotate(0 653.84 82.20)"/>
<ellipse cx="375.34" cy="82.20" rx="2.50" ry="0.64" stroke="#111" stroke-width="0.7" fill="#333" transform="rotate(0 375.34 82.20)"/>
<ellipse cx="644.16" cy="82.20" rx="2.50" ry="0.64" stroke="#111" stroke-width="0.7" fill="#333" transform="rotate(0 644.16 82.20)"/>
<ellipse cx="385.02" cy="82.20" rx="2.50" ry="0.64" stroke="#111" stroke-width="0.7" fill="#333" transform="rotate(0 385.02 82.20)"/>
<ellipse cx="634.48" cy="82.20" rx="2.50" ry="0.64" stroke="#111" stroke-width="0.7" fill="#333" transform="rotate(0 634.48 82.20)"/>
<ellipse cx="394.70" cy="82.20" rx="2.50" ry="0.64" stroke="#111" stroke-width="0.7" fill="#333" transform="rotate(0 394.70 82.20)"/>
<ellipse cx="624.80" cy="82.20" rx="2.50" ry="0.64" stroke="#111" stroke-width="0.7" fill="#333" transform="rotate(0 624.80 82.20)"/>
<ellipse cx="404.38" cy="82.20" rx="2.50" ry="0.64" stroke="#111" stroke-width="0.7" fill="#333" transform="rotate(0 404.38 82.20)"/>
<ellipse cx="615.12" cy="82.20" rx="2.50" ry="0.64" stroke="#111" stroke-width="0.7" fill="#333" transform="rotate(0 615.12 82.20)"/>
<ellipse cx="414.06" cy="82.20" rx="2.50" ry="0.64" stroke="#111" stroke-width="0.7" fill="#333" transform="rotate(0 414.06 82.20)"/>
<ellipse cx="605.44" cy="82.20" rx="2.50" ry="0.64" stroke="#111" stroke-width="0.7" fill="#333" transform="rotate(0 605.44 82.20)"/>
<ellipse cx="423.74" cy="82.20" rx="2.50" ry="0.64" stroke="#111" stroke-width="0.7" fill="#333" transform="rotate(0 423.74 82.20)"/>
<ellipse cx="595.76" cy="82.20" rx="2.50" ry="0.64" stroke="#111" stroke-width="0.7" fill="#333" transform="rotate(0 595.76 82.20)"/>
<ellipse cx="433.42" cy="82.20" rx="2.50" ry="0.64" stroke="#111" stroke-width="0.7" fill="#333" transform="rotate(0 433.42 82.20)"/>
<ellipse cx="586.08" cy="82.20" rx="2.50" ry="0.64" stroke="#111" stroke-width="0.7" fill="#333" transform="rotate(0 586.08 82.20)"/>
<ellipse cx="443.10" cy="82.20" rx="2.50" ry="0.64" stroke="#111" stroke-width="0.7" fill="#333" transform="rotate(0 443.10 82.20)"/>
<ellipse cx="576.40" cy="82.20" rx="2.50" ry="0.64" stroke="#111" stroke-width="0.7" fill="#333" transform="rotate(0 576.40 82.20)"/>
<ellipse cx="452.78" cy="82.20" rx="2.50" ry="0.64" stroke="#111" stroke-width="0.7" fill="#333" transform="rotate(0 452.78 82.20)"/>
<ellipse cx="566.72" cy="82.20" rx="2.50" ry="0.64" stroke="#111" stroke-width="0.7" fill="#333" transform="rotate(0 566.72 82.20)"/>
<ellipse cx="462.46" cy="82.20" rx="2.50" ry="0.64" stroke="#111" stroke-width="0.7" fill="#333" transform="rotate(0 462.46 82.20)"/>
<ellipse cx="557.04" cy="82.20" rx="2.50" ry="0.64" stroke="#111" stroke-width="0.7" fill="#333" transform="rotate(0 557.04 82.20)"/>
<path d="M198.2,100.5 Q198.6,96 203.3,95 Q225,86 257.5,81.2 L762,81.2 Q794.5,86 816.2,95 Q820.9,96 821.3,100.5" stroke="#000" stroke-width="1.4" fill="none" />
<path d="M208.6,94.4 Q228,87.5 256.4,82.2" stroke="#000" stroke-width="0.8" fill="none" />
<path d="M810.9,94.4 Q791.5,87.5 763.1,82.2" stroke="#000" stroke-width="0.8" fill="none" />
<line x1="258.00" y1="81.40" x2="762.00" y2="81.40" stroke="#000" stroke-width="1.8" />
<line x1="200.00" y1="100.60" x2="820.00" y2="100.60" stroke="#333" stroke-width="1.4" />
<line x1="203.00" y1="95.60" x2="816.50" y2="95.60" stroke="#666" stroke-width="1.5" />
<line x1="221.00" y1="95.60" x2="263.00" y2="84.60" stroke="#111" stroke-width="0.9" />
<line x1="798.00" y1="95.60" x2="756.50" y2="84.60" stroke="#111" stroke-width="0.9" />
<path d="M198,100.5 L196.8,130 Q197,133.5 200,134" stroke="#000" stroke-width="1.2" fill="none" />
<path d="M820.8,100.5 L822.4,130 Q822,133.5 819,134" stroke="#000" stroke-width="1.2" fill="none" />
<line x1="197.50" y1="128.50" x2="822.00" y2="128.50" stroke="#111" stroke-width="1.8" />
<line x1="197.50" y1="135.60" x2="822.50" y2="135.60" stroke="#000" stroke-width="3.6" stroke-linecap="round"/>
<line x1="220.60" y1="95.60" x2="220.60" y2="137.00" stroke="#111" stroke-width="1.2" />
<line x1="798.00" y1="95.60" x2="798.00" y2="137.00" stroke="#111" stroke-width="1.2" />
<ellipse cx="221.90" cy="90.60" rx="5.80" ry="1.80" stroke="#000" stroke-width="1.0" fill="none" transform="rotate(-14 221.90 90.60)"/>
<ellipse cx="797.60" cy="90.60" rx="5.80" ry="1.80" stroke="#000" stroke-width="1.0" fill="none" transform="rotate(14 797.60 90.60)"/>
<ellipse cx="415.50" cy="90.20" rx="6.30" ry="1.90" stroke="#000" stroke-width="1.0" fill="#fff" transform="rotate(0 415.50 90.20)"/>
<ellipse cx="604.00" cy="90.20" rx="6.30" ry="1.90" stroke="#000" stroke-width="1.0" fill="#fff" transform="rotate(0 604.00 90.20)"/>
<circle cx="509.80" cy="104.40" r="1.90" stroke="#000" stroke-width="0.5" fill="#000"/>
<line x1="498.10" y1="113.60" x2="575.00" y2="52.80" stroke="#1e1eff" stroke-width="1.2" />
<path d="M507.80,105.60 L504.00,111.28 L501.40,107.98 Z" fill="#1e1eff"/>
<path d="M511.60,102.60 L515.40,96.92 L518.00,100.22 Z" fill="#1e1eff"/>
<line x1="511.30" y1="107.50" x2="511.30" y2="148.00" stroke="#1e1eff" stroke-width="1.2" />
<path d="M511.30,106.80 L513.60,113.30 L509.00,113.30 Z" fill="#1e1eff"/>
<text x="496.35" y="164.17" font-size="17.623" fill="#0a0aff" textLength="33.11" lengthAdjust="spacingAndGlyphs" stroke="#0a0aff" stroke-width="0.2">Mic</text>
<text x="-0.56" y="0" transform="translate(520.70 91.20) rotate(-38.3)" font-size="14.905" fill="#0a0aff" textLength="59.78" lengthAdjust="spacingAndGlyphs" stroke="#0a0aff" stroke-width="0.2">Ø1,5Mic</text>
<rect x="197.30" y="281.20" width="625.10" height="357.40" rx="22" stroke="#000" stroke-width="2.4" fill="none"/>
<rect x="201.30" y="284.60" width="616.70" height="350.30" rx="18" stroke="#333" stroke-width="1.0" fill="none"/>
<rect x="247.50" y="322.50" width="524.50" height="274.60" rx="0" stroke="#3a3a3a" stroke-width="1.5" fill="none"/>
<circle cx="509.60" cy="301.90" r="4.50" stroke="#111" stroke-width="1.3" fill="none"/>
<line x1="196.50" y1="248.80" x2="823.00" y2="248.80" stroke="#1e1eff" stroke-width="1.2" />
<line x1="196.50" y1="246.50" x2="196.50" y2="299.00" stroke="#1e1eff" stroke-width="1.2" />
<line x1="823.00" y1="246.50" x2="823.00" y2="300.00" stroke="#1e1eff" stroke-width="1.2" />
<path d="M196.50,248.80 L203.50,247.00 L203.50,250.60 Z" fill="#1e1eff"/>
<path d="M823.00,248.80 L816.00,250.60 L816.00,247.00 Z" fill="#1e1eff"/>
<text x="477.24" y="245.97" font-size="15.210" fill="#0a0aff" textLength="81.20" lengthAdjust="spacingAndGlyphs" stroke="#0a0aff" stroke-width="0.2">259,36mm</text>
<line x1="247.50" y1="270.40" x2="772.00" y2="270.40" stroke="#1e1eff" stroke-width="1.2" />
<line x1="247.50" y1="268.00" x2="247.50" y2="322.00" stroke="#1e1eff" stroke-width="1.2" />
<line x1="772.00" y1="268.00" x2="772.00" y2="392.50" stroke="#1e1eff" stroke-width="1.2" />
<path d="M247.50,270.40 L254.50,268.60 L254.50,272.20 Z" fill="#1e1eff"/>
<path d="M772.00,270.40 L765.00,272.20 L765.00,268.60 Z" fill="#1e1eff"/>
<text x="482.53" y="266.77" font-size="14.135" fill="#0a0aff" textLength="72.32" lengthAdjust="spacingAndGlyphs" stroke="#0a0aff" stroke-width="0.2">217,4mm</text>
<line x1="578.80" y1="300.50" x2="519.00" y2="300.50" stroke="#1e1eff" stroke-width="1.2" />
<path d="M518.30,300.50 L524.80,297.70 L524.80,303.30 Z" fill="#1e1eff"/>
<text x="579.73" y="307.67" font-size="18.718" fill="#0a0aff" textLength="74.77" lengthAdjust="spacingAndGlyphs" stroke="#0a0aff" stroke-width="0.2">Camera</text>
<line x1="493.10" y1="293.00" x2="545.00" y2="321.50" stroke="#1e1eff" stroke-width="1.2" />
<path d="M505.30,299.60 L498.54,298.40 L500.66,294.54 Z" fill="#1e1eff"/>
<path d="M513.60,304.50 L520.36,305.70 L518.24,309.56 Z" fill="#1e1eff"/>
<text x="0.77" y="0" transform="translate(526.20 309.90) rotate(28.8)" font-size="14.390" fill="#0a0aff" textLength="19.12" lengthAdjust="spacingAndGlyphs" font-style="italic" stroke="#0a0aff" stroke-width="0.2">A4</text>
<line x1="694.30" y1="280.00" x2="694.30" y2="371.00" stroke="#1e1eff" stroke-width="1.2" />
<line x1="694.30" y1="281.00" x2="707.50" y2="281.00" stroke="#1e1eff" stroke-width="1.2" />
<line x1="694.30" y1="322.50" x2="707.50" y2="322.50" stroke="#1e1eff" stroke-width="1.2" />
<path d="M694.30,281.00 L696.30,287.00 L692.30,287.00 Z" fill="#1e1eff"/>
<path d="M694.30,322.50 L692.30,316.50 L696.30,316.50 Z" fill="#1e1eff"/>
<text x="-0.71" y="0" transform="translate(687.50 371.20) rotate(-90)" font-size="18.761" fill="#0a0aff" textLength="59.15" lengthAdjust="spacingAndGlyphs" stroke="#0a0aff" stroke-width="0.2">20,98mm</text>
<line x1="705.00" y1="381.30" x2="825.00" y2="381.30" stroke="#1e1eff" stroke-width="1.2" />
<line x1="822.80" y1="375.00" x2="822.80" y2="392.50" stroke="#1e1eff" stroke-width="1.2" />
<path d="M772.00,381.30 L778.00,379.30 L778.00,383.30 Z" fill="#1e1eff"/>
<path d="M822.60,381.30 L816.60,383.30 L816.60,379.30 Z" fill="#1e1eff"/>
<text x="704.75" y="377.77" font-size="13.992" fill="#0a0aff" textLength="70.77" lengthAdjust="spacingAndGlyphs" stroke="#0a0aff" stroke-width="0.2">20,98mm</text>
<line x1="772.00" y1="322.50" x2="852.50" y2="322.50" stroke="#1e1eff" stroke-width="1.2" />
<line x1="772.00" y1="597.20" x2="852.50" y2="597.20" stroke="#1e1eff" stroke-width="1.2" />
<line x1="850.00" y1="322.50" x2="850.00" y2="597.20" stroke="#1e1eff" stroke-width="1.2" />
<path d="M850.00,322.50 L851.80,329.50 L848.20,329.50 Z" fill="#1e1eff"/>
<path d="M850.00,597.20 L848.20,590.20 L851.80,590.20 Z" fill="#1e1eff"/>
<text x="-1.06" y="0" transform="translate(845.30 480.50) rotate(-90)" font-size="17.472" fill="#0a0aff" textLength="58.08" lengthAdjust="spacingAndGlyphs" stroke="#0a0aff" stroke-width="0.2">136,4mm</text>
<line x1="800.00" y1="280.00" x2="878.80" y2="280.00" stroke="#1e1eff" stroke-width="1.2" />
<line x1="800.00" y1="638.80" x2="878.80" y2="638.80" stroke="#1e1eff" stroke-width="1.2" />
<line x1="875.60" y1="280.00" x2="875.60" y2="638.80" stroke="#1e1eff" stroke-width="1.2" />
<path d="M875.60,280.00 L877.40,287.00 L873.80,287.00 Z" fill="#1e1eff"/>
<path d="M875.60,638.80 L873.80,631.80 L877.40,631.80 Z" fill="#1e1eff"/>
<text x="-1.08" y="0" transform="translate(871.20 486.20) rotate(-90)" font-size="18.618" fill="#0a0aff" textLength="67.12" lengthAdjust="spacingAndGlyphs" stroke="#0a0aff" stroke-width="0.2">178,36mm</text>
<line x1="254.50" y1="313.20" x2="778.20" y2="587.80" stroke="#1e1eff" stroke-width="1.2" />
<line x1="247.50" y1="322.30" x2="254.50" y2="313.20" stroke="#1e1eff" stroke-width="1.2" />
<line x1="772.00" y1="597.20" x2="779.20" y2="587.20" stroke="#1e1eff" stroke-width="1.2" />
<path d="M255.20,313.60 L261.79,315.03 L260.12,318.22 Z" fill="#1e1eff"/>
<path d="M777.80,587.60 L772.72,586.52 L774.02,584.04 Z" fill="#1e1eff"/>
<text x="0.09" y="0" transform="translate(462.90 420.10) rotate(27.7)" font-size="14.178" fill="#0a0aff" textLength="93.40" lengthAdjust="spacingAndGlyphs" font-style="italic" stroke="#0a0aff" stroke-width="0.2">256,65 [10,1]</text>
<line x1="196.30" y1="533.00" x2="307.50" y2="533.00" stroke="#1e1eff" stroke-width="1.2" />
<line x1="196.30" y1="530.00" x2="196.30" y2="547.50" stroke="#1e1eff" stroke-width="1.2" />
<line x1="247.50" y1="530.00" x2="247.50" y2="548.00" stroke="#1e1eff" stroke-width="1.2" />
<path d="M196.30,533.00 L202.30,531.00 L202.30,535.00 Z" fill="#1e1eff"/>
<path d="M247.50,533.00 L241.50,535.00 L241.50,531.00 Z" fill="#1e1eff"/>
<text x="250.24" y="529.47" font-size="13.419" fill="#0a0aff" textLength="70.98" lengthAdjust="spacingAndGlyphs" stroke="#0a0aff" stroke-width="0.2">20,98mm</text>
<line x1="329.30" y1="541.00" x2="329.30" y2="640.00" stroke="#1e1eff" stroke-width="1.2" />
<line x1="298.80" y1="597.20" x2="331.00" y2="597.20" stroke="#1e1eff" stroke-width="1.2" />
<line x1="298.80" y1="639.50" x2="331.00" y2="639.50" stroke="#1e1eff" stroke-width="1.2" />
<path d="M329.30,597.20 L331.30,603.20 L327.30,603.20 Z" fill="#1e1eff"/>
<path d="M329.30,639.30 L327.30,633.30 L331.30,633.30 Z" fill="#1e1eff"/>
<text x="-0.71" y="0" transform="translate(324.70 596.20) rotate(-90)" font-size="17.902" fill="#0a0aff" textLength="59.05" lengthAdjust="spacingAndGlyphs" stroke="#0a0aff" stroke-width="0.2">20,98mm</text>
<path d="M110,283 Q110,281 112,281 Q114.3,281 114.3,283 L114.3,638 Q114.3,640.5 112,640.5 Q110,640.5 110,638 Z" stroke="#000" stroke-width="0.6" fill="#222" />
<line x1="109.30" y1="283.00" x2="109.30" y2="640.00" stroke="#111" stroke-width="1.1" />
<path d="M45.8,334 Q47,318 52,306 Q58,292 63,285 Q64.5,282 68,281.8 L104.5,280.8 Q108.5,281 109,285" stroke="#000" stroke-width="1.2" fill="none" />
<path d="M63.7,300.6 L63.7,287 " stroke="#000" stroke-width="1" fill="none" />
<line x1="69.80" y1="282.00" x2="69.80" y2="542.00" stroke="#000" stroke-width="1.2" />
<line x1="63.70" y1="286.00" x2="63.70" y2="542.00" stroke="#000" stroke-width="1.2" />
<line x1="103.50" y1="281.00" x2="103.50" y2="640.00" stroke="#000" stroke-width="1.3" />
<line x1="63.00" y1="300.60" x2="114.00" y2="300.60" stroke="#000" stroke-width="1.1" />
<path d="M63.7,300.6 Q57,315 52,330 Q49,340 48,350" stroke="#000" stroke-width="0.9" fill="none" />
<path d="M62.5,292 Q60,298 57,303" stroke="#000" stroke-width="0.9" fill="none" />
<line x1="46.00" y1="334.00" x2="46.00" y2="542.00" stroke="#000" stroke-width="1.4" />
<path d="M46,340 L48.5,332 L52.5,325 L55.5,324 L55.5,447 L46.5,471 Z" stroke="#000" stroke-width="0.4" fill="#383838" />
<circle cx="55.60" cy="323.50" r="1.90" stroke="#000" stroke-width="0.5" fill="#000"/>
<circle cx="55.60" cy="331.55" r="1.90" stroke="#000" stroke-width="0.5" fill="#000"/>
<circle cx="55.60" cy="339.60" r="1.90" stroke="#000" stroke-width="0.5" fill="#000"/>
<circle cx="51.00" cy="343.60" r="1.30" stroke="#666" stroke-width="0.4" fill="#666"/>
<circle cx="55.60" cy="347.65" r="1.90" stroke="#000" stroke-width="0.5" fill="#000"/>
<circle cx="51.00" cy="351.65" r="1.30" stroke="#666" stroke-width="0.4" fill="#666"/>
<circle cx="55.60" cy="355.70" r="1.90" stroke="#000" stroke-width="0.5" fill="#000"/>
<circle cx="51.00" cy="359.70" r="1.30" stroke="#666" stroke-width="0.4" fill="#666"/>
<circle cx="55.60" cy="363.75" r="1.90" stroke="#000" stroke-width="0.5" fill="#000"/>
<circle cx="51.00" cy="367.75" r="1.30" stroke="#666" stroke-width="0.4" fill="#666"/>
<circle cx="55.60" cy="371.80" r="1.90" stroke="#000" stroke-width="0.5" fill="#000"/>
<circle cx="51.00" cy="375.80" r="1.30" stroke="#666" stroke-width="0.4" fill="#666"/>
<circle cx="55.60" cy="379.85" r="1.90" stroke="#000" stroke-width="0.5" fill="#000"/>
<circle cx="51.00" cy="383.85" r="1.30" stroke="#666" stroke-width="0.4" fill="#666"/>
<circle cx="55.60" cy="387.90" r="1.90" stroke="#000" stroke-width="0.5" fill="#000"/>
<circle cx="51.00" cy="391.90" r="1.30" stroke="#666" stroke-width="0.4" fill="#666"/>
<circle cx="55.60" cy="395.95" r="1.90" stroke="#000" stroke-width="0.5" fill="#000"/>
<circle cx="51.00" cy="399.95" r="1.30" stroke="#666" stroke-width="0.4" fill="#666"/>
<circle cx="55.60" cy="404.00" r="1.90" stroke="#000" stroke-width="0.5" fill="#000"/>
<circle cx="51.00" cy="408.00" r="1.30" stroke="#666" stroke-width="0.4" fill="#666"/>
<circle cx="55.60" cy="412.05" r="1.90" stroke="#000" stroke-width="0.5" fill="#000"/>
<circle cx="51.00" cy="416.05" r="1.30" stroke="#666" stroke-width="0.4" fill="#666"/>
<circle cx="55.60" cy="420.10" r="1.90" stroke="#000" stroke-width="0.5" fill="#000"/>
<circle cx="51.00" cy="424.10" r="1.30" stroke="#666" stroke-width="0.4" fill="#666"/>
<circle cx="55.60" cy="428.15" r="1.90" stroke="#000" stroke-width="0.5" fill="#000"/>
<circle cx="51.00" cy="432.15" r="1.30" stroke="#666" stroke-width="0.4" fill="#666"/>
<circle cx="55.60" cy="436.20" r="1.90" stroke="#000" stroke-width="0.5" fill="#000"/>
<circle cx="51.00" cy="440.20" r="1.30" stroke="#666" stroke-width="0.4" fill="#666"/>
<circle cx="55.60" cy="444.25" r="1.90" stroke="#000" stroke-width="0.5" fill="#000"/>
<circle cx="51.00" cy="448.25" r="1.30" stroke="#666" stroke-width="0.4" fill="#666"/>
<path d="M46,542 L88.7,543.5 L88.7,630 L46,630 Z" stroke="#000" stroke-width="1.1" fill="none" />
<line x1="49.40" y1="545.00" x2="49.40" y2="627.00" stroke="#555" stroke-width="1.0" />
<line x1="49.40" y1="627.00" x2="86.00" y2="627.00" stroke="#555" stroke-width="1.0" />
<path d="M55,544.5 L85.6,545.5 L85.6,625 L55,624 Z" stroke="#000" stroke-width="1.0" fill="none" />
<line x1="57.50" y1="546.00" x2="57.50" y2="623.00" stroke="#666" stroke-width="1.0" />
<path d="M85.6,619.4 L109.3,619.4 M85.6,619.4 L85.6,636 Q86,639.5 89,639.5 L105,639.5 Q109,639 109.3,636" stroke="#000" stroke-width="1.1" fill="none" />
<line x1="103.50" y1="619.40" x2="103.50" y2="640.00" stroke="#000" stroke-width="1.1" />
<g transform="matrix(-1,0,0,1,1096.7,0)">
<path d="M110,283 Q110,281 112,281 Q114.3,281 114.3,283 L114.3,638 Q114.3,640.5 112,640.5 Q110,640.5 110,638 Z" stroke="#000" stroke-width="0.6" fill="#222" />
<line x1="109.30" y1="283.00" x2="109.30" y2="640.00" stroke="#111" stroke-width="1.1" />
<path d="M45.8,334 Q47,318 52,306 Q58,292 63,285 Q64.5,282 68,281.8 L104.5,280.8 Q108.5,281 109,285" stroke="#000" stroke-width="1.2" fill="none" />
<path d="M63.7,300.6 L63.7,287 " stroke="#000" stroke-width="1" fill="none" />
<line x1="69.80" y1="282.00" x2="69.80" y2="542.00" stroke="#000" stroke-width="1.2" />
<line x1="63.70" y1="286.00" x2="63.70" y2="542.00" stroke="#000" stroke-width="1.2" />
<line x1="103.50" y1="281.00" x2="103.50" y2="640.00" stroke="#000" stroke-width="1.3" />
<line x1="63.00" y1="300.60" x2="114.00" y2="300.60" stroke="#000" stroke-width="1.1" />
<path d="M63.7,300.6 Q57,315 52,330 Q49,340 48,350" stroke="#000" stroke-width="0.9" fill="none" />
<path d="M62.5,292 Q60,298 57,303" stroke="#000" stroke-width="0.9" fill="none" />
<line x1="46.00" y1="334.00" x2="46.00" y2="542.00" stroke="#000" stroke-width="1.4" />
<path d="M46,340 L48.5,332 L52.5,325 L55.5,324 L55.5,447 L46.5,471 Z" stroke="#000" stroke-width="0.4" fill="#383838" />
<circle cx="55.60" cy="323.50" r="1.90" stroke="#000" stroke-width="0.5" fill="#000"/>
<circle cx="55.60" cy="331.55" r="1.90" stroke="#000" stroke-width="0.5" fill="#000"/>
<circle cx="55.60" cy="339.60" r="1.90" stroke="#000" stroke-width="0.5" fill="#000"/>
<circle cx="51.00" cy="343.60" r="1.30" stroke="#666" stroke-width="0.4" fill="#666"/>
<circle cx="55.60" cy="347.65" r="1.90" stroke="#000" stroke-width="0.5" fill="#000"/>
<circle cx="51.00" cy="351.65" r="1.30" stroke="#666" stroke-width="0.4" fill="#666"/>
<circle cx="55.60" cy="355.70" r="1.90" stroke="#000" stroke-width="0.5" fill="#000"/>
<circle cx="51.00" cy="359.70" r="1.30" stroke="#666" stroke-width="0.4" fill="#666"/>
<circle cx="55.60" cy="363.75" r="1.90" stroke="#000" stroke-width="0.5" fill="#000"/>
<circle cx="51.00" cy="367.75" r="1.30" stroke="#666" stroke-width="0.4" fill="#666"/>
<circle cx="55.60" cy="371.80" r="1.90" stroke="#000" stroke-width="0.5" fill="#000"/>
<circle cx="51.00" cy="375.80" r="1.30" stroke="#666" stroke-width="0.4" fill="#666"/>
<circle cx="55.60" cy="379.85" r="1.90" stroke="#000" stroke-width="0.5" fill="#000"/>
<circle cx="51.00" cy="383.85" r="1.30" stroke="#666" stroke-width="0.4" fill="#666"/>
<circle cx="55.60" cy="387.90" r="1.90" stroke="#000" stroke-width="0.5" fill="#000"/>
<circle cx="51.00" cy="391.90" r="1.30" stroke="#666" stroke-width="0.4" fill="#666"/>
<circle cx="55.60" cy="395.95" r="1.90" stroke="#000" stroke-width="0.5" fill="#000"/>
<circle cx="51.00" cy="399.95" r="1.30" stroke="#666" stroke-width="0.4" fill="#666"/>
<circle cx="55.60" cy="404.00" r="1.90" stroke="#000" stroke-width="0.5" fill="#000"/>
<circle cx="51.00" cy="408.00" r="1.30" stroke="#666" stroke-width="0.4" fill="#666"/>
<circle cx="55.60" cy="412.05" r="1.90" stroke="#000" stroke-width="0.5" fill="#000"/>
<circle cx="51.00" cy="416.05" r="1.30" stroke="#666" stroke-width="0.4" fill="#666"/>
<circle cx="55.60" cy="420.10" r="1.90" stroke="#000" stroke-width="0.5" fill="#000"/>
<circle cx="51.00" cy="424.10" r="1.30" stroke="#666" stroke-width="0.4" fill="#666"/>
<circle cx="55.60" cy="428.15" r="1.90" stroke="#000" stroke-width="0.5" fill="#000"/>
<circle cx="51.00" cy="432.15" r="1.30" stroke="#666" stroke-width="0.4" fill="#666"/>
<circle cx="55.60" cy="436.20" r="1.90" stroke="#000" stroke-width="0.5" fill="#000"/>
<circle cx="51.00" cy="440.20" r="1.30" stroke="#666" stroke-width="0.4" fill="#666"/>
<circle cx="55.60" cy="444.25" r="1.90" stroke="#000" stroke-width="0.5" fill="#000"/>
<circle cx="51.00" cy="448.25" r="1.30" stroke="#666" stroke-width="0.4" fill="#666"/>
<path d="M46,542 L88.7,543.5 L88.7,630 L46,630 Z" stroke="#000" stroke-width="1.1" fill="none" />
<line x1="49.40" y1="545.00" x2="49.40" y2="627.00" stroke="#555" stroke-width="1.0" />
<line x1="49.40" y1="627.00" x2="86.00" y2="627.00" stroke="#555" stroke-width="1.0" />
<path d="M55,544.5 L85.6,545.5 L85.6,625 L55,624 Z" stroke="#000" stroke-width="1.0" fill="none" />
<line x1="57.50" y1="546.00" x2="57.50" y2="623.00" stroke="#666" stroke-width="1.0" />
<path d="M85.6,619.4 L109.3,619.4 M85.6,619.4 L85.6,636 Q86,639.5 89,639.5 L105,639.5 Q109,639 109.3,636" stroke="#000" stroke-width="1.1" fill="none" />
<line x1="103.50" y1="619.40" x2="103.50" y2="640.00" stroke="#000" stroke-width="1.1" />
<ellipse cx="55.90" cy="460.40" rx="2.20" ry="5.00" stroke="#000" stroke-width="1.0" fill="none" transform="rotate(0 55.90 460.40)"/>
<rect x="45.70" y="537.00" width="12.00" height="6.00" rx="0" stroke="#000" stroke-width="1.0" fill="none"/>
</g>
<line x1="982.30" y1="245.90" x2="1051.20" y2="245.90" stroke="#1e1eff" stroke-width="1.2" />
<line x1="982.30" y1="243.50" x2="982.30" y2="280.70" stroke="#1e1eff" stroke-width="1.2" />
<line x1="1051.20" y1="243.50" x2="1051.20" y2="339.00" stroke="#1e1eff" stroke-width="1.2" />
<path d="M982.30,245.90 L988.80,243.70 L988.80,248.10 Z" fill="#1e1eff"/>
<path d="M1051.20,245.90 L1044.70,248.10 L1044.70,243.70 Z" fill="#1e1eff"/>
<text x="990.73" y="244.77" font-size="14.995" fill="#0a0aff" textLength="47.80" lengthAdjust="spacingAndGlyphs" stroke="#0a0aff" stroke-width="0.2">28mm</text>
<line x1="981.40" y1="674.70" x2="1050.90" y2="674.70" stroke="#1e1eff" stroke-width="1.2" />
<line x1="983.20" y1="639.00" x2="983.20" y2="677.00" stroke="#1e1eff" stroke-width="1.2" />
<line x1="1010.80" y1="639.00" x2="1010.80" y2="677.00" stroke="#1e1eff" stroke-width="1.2" />
<path d="M983.20,674.70 L989.20,672.70 L989.20,676.70 Z" fill="#1e1eff"/>
<path d="M1010.80,674.70 L1004.80,676.70 L1004.80,672.70 Z" fill="#1e1eff"/>
<text x="1013.34" y="671.77" font-size="14.928" fill="#0a0aff" textLength="59.96" lengthAdjust="spacingAndGlyphs" stroke="#0a0aff" stroke-width="0.2">11,5mm</text>
<rect x="1143.90" y="281.80" width="624.20" height="356.00" rx="21.6" stroke="#808080" stroke-width="2.0" fill="none"/>
<rect x="1143.00" y="280.60" width="626.00" height="358.10" rx="22.5" stroke="#000" stroke-width="1.3" fill="none"/>
<ellipse cx="1455.90" cy="281.60" rx="2.90" ry="1.50" stroke="#000" stroke-width="0.5" fill="#000" transform="rotate(0 1455.90 281.60)"/>
<rect x="1147.30" y="285.50" width="617.40" height="349.00" rx="19" stroke="#333" stroke-width="1.1" fill="none"/>
<path d="M1204.2,541.6 L1204.2,341 Q1204.2,331.5 1214,331.5 L1697.9,331.5 Q1707.7,331.5 1707.7,341 L1707.7,541.6" stroke="#555" stroke-width="1.5" fill="none" />
<path d="M1208.5,336 Q1211,331.5 1214,331.5 L1697.9,331.5 Q1701,331.5 1703.4,336" stroke="#000" stroke-width="1.3" fill="none" />
<path d="M1208.2,541.6 L1208.2,342 Q1208.2,334.5 1215.5,334.5 L1696.4,334.5 Q1703.7,334.5 1703.7,342 L1703.7,541.6" stroke="#666" stroke-width="1.4" fill="none" />
<line x1="1167.30" y1="285.40" x2="1214.00" y2="331.00" stroke="#000" stroke-width="1.1" />
<line x1="1149.40" y1="301.00" x2="1204.70" y2="339.60" stroke="#000" stroke-width="1.1" />
<line x1="1175.90" y1="320.50" x2="1191.40" y2="307.60" stroke="#000" stroke-width="1.1" />
<line x1="1167.30" y1="281.00" x2="1167.30" y2="285.50" stroke="#000" stroke-width="1.0" />
<line x1="1143.50" y1="300.60" x2="1149.50" y2="300.60" stroke="#000" stroke-width="1.0" />
<line x1="1744.60" y1="285.40" x2="1697.90" y2="331.00" stroke="#000" stroke-width="1.1" />
<line x1="1762.50" y1="301.00" x2="1707.20" y2="339.60" stroke="#000" stroke-width="1.1" />
<line x1="1736.00" y1="320.50" x2="1720.50" y2="307.60" stroke="#000" stroke-width="1.1" />
<line x1="1744.60" y1="281.00" x2="1744.60" y2="285.50" stroke="#000" stroke-width="1.0" />
<line x1="1768.40" y1="300.60" x2="1762.40" y2="300.60" stroke="#000" stroke-width="1.0" />
<ellipse cx="1196.00" cy="301.00" rx="2.00" ry="1.40" stroke="#000" stroke-width="1.35" fill="none" transform="rotate(0 1196.00 301.00)"/>
<ellipse cx="1715.90" cy="301.00" rx="2.00" ry="1.40" stroke="#000" stroke-width="1.35" fill="none" transform="rotate(0 1715.90 301.00)"/>
<ellipse cx="1205.64" cy="301.00" rx="2.00" ry="1.40" stroke="#000" stroke-width="1.35" fill="none" transform="rotate(0 1205.64 301.00)"/>
<ellipse cx="1706.26" cy="301.00" rx="2.00" ry="1.40" stroke="#000" stroke-width="1.35" fill="none" transform="rotate(0 1706.26 301.00)"/>
<ellipse cx="1215.28" cy="301.00" rx="2.00" ry="1.40" stroke="#000" stroke-width="1.35" fill="none" transform="rotate(0 1215.28 301.00)"/>
<ellipse cx="1696.62" cy="301.00" rx="2.00" ry="1.40" stroke="#000" stroke-width="1.35" fill="none" transform="rotate(0 1696.62 301.00)"/>
<ellipse cx="1224.92" cy="301.00" rx="2.00" ry="1.40" stroke="#000" stroke-width="1.35" fill="none" transform="rotate(0 1224.92 301.00)"/>
<ellipse cx="1686.98" cy="301.00" rx="2.00" ry="1.40" stroke="#000" stroke-width="1.35" fill="none" transform="rotate(0 1686.98 301.00)"/>
<ellipse cx="1234.56" cy="301.00" rx="2.00" ry="1.40" stroke="#000" stroke-width="1.35" fill="none" transform="rotate(0 1234.56 301.00)"/>
<ellipse cx="1677.34" cy="301.00" rx="2.00" ry="1.40" stroke="#000" stroke-width="1.35" fill="none" transform="rotate(0 1677.34 301.00)"/>
<ellipse cx="1244.20" cy="301.00" rx="2.00" ry="1.40" stroke="#000" stroke-width="1.35" fill="none" transform="rotate(0 1244.20 301.00)"/>
<ellipse cx="1667.70" cy="301.00" rx="2.00" ry="1.40" stroke="#000" stroke-width="1.35" fill="none" transform="rotate(0 1667.70 301.00)"/>
<ellipse cx="1253.84" cy="301.00" rx="2.00" ry="1.40" stroke="#000" stroke-width="1.35" fill="none" transform="rotate(0 1253.84 301.00)"/>
<ellipse cx="1658.06" cy="301.00" rx="2.00" ry="1.40" stroke="#000" stroke-width="1.35" fill="none" transform="rotate(0 1658.06 301.00)"/>
<ellipse cx="1263.48" cy="301.00" rx="2.00" ry="1.40" stroke="#000" stroke-width="1.35" fill="none" transform="rotate(0 1263.48 301.00)"/>
<ellipse cx="1648.42" cy="301.00" rx="2.00" ry="1.40" stroke="#000" stroke-width="1.35" fill="none" transform="rotate(0 1648.42 301.00)"/>
<ellipse cx="1273.12" cy="301.00" rx="2.00" ry="1.40" stroke="#000" stroke-width="1.35" fill="none" transform="rotate(0 1273.12 301.00)"/>
<ellipse cx="1638.78" cy="301.00" rx="2.00" ry="1.40" stroke="#000" stroke-width="1.35" fill="none" transform="rotate(0 1638.78 301.00)"/>
<ellipse cx="1282.76" cy="301.00" rx="2.00" ry="1.40" stroke="#000" stroke-width="1.35" fill="none" transform="rotate(0 1282.76 301.00)"/>
<ellipse cx="1629.14" cy="301.00" rx="2.00" ry="1.40" stroke="#000" stroke-width="1.35" fill="none" transform="rotate(0 1629.14 301.00)"/>
<ellipse cx="1292.40" cy="301.00" rx="2.00" ry="1.40" stroke="#000" stroke-width="1.35" fill="none" transform="rotate(0 1292.40 301.00)"/>
<ellipse cx="1619.50" cy="301.00" rx="2.00" ry="1.40" stroke="#000" stroke-width="1.35" fill="none" transform="rotate(0 1619.50 301.00)"/>
<ellipse cx="1302.04" cy="301.00" rx="2.00" ry="1.40" stroke="#000" stroke-width="1.35" fill="none" transform="rotate(0 1302.04 301.00)"/>
<ellipse cx="1609.86" cy="301.00" rx="2.00" ry="1.40" stroke="#000" stroke-width="1.35" fill="none" transform="rotate(0 1609.86 301.00)"/>
<ellipse cx="1311.68" cy="301.00" rx="2.00" ry="1.40" stroke="#000" stroke-width="1.35" fill="none" transform="rotate(0 1311.68 301.00)"/>
<ellipse cx="1600.22" cy="301.00" rx="2.00" ry="1.40" stroke="#000" stroke-width="1.35" fill="none" transform="rotate(0 1600.22 301.00)"/>
<ellipse cx="1321.32" cy="301.00" rx="2.00" ry="1.40" stroke="#000" stroke-width="1.35" fill="none" transform="rotate(0 1321.32 301.00)"/>
<ellipse cx="1590.58" cy="301.00" rx="2.00" ry="1.40" stroke="#000" stroke-width="1.35" fill="none" transform="rotate(0 1590.58 301.00)"/>
<ellipse cx="1330.96" cy="301.00" rx="2.00" ry="1.40" stroke="#000" stroke-width="1.35" fill="none" transform="rotate(0 1330.96 301.00)"/>
<ellipse cx="1580.94" cy="301.00" rx="2.00" ry="1.40" stroke="#000" stroke-width="1.35" fill="none" transform="rotate(0 1580.94 301.00)"/>
<ellipse cx="1340.60" cy="301.00" rx="2.00" ry="1.40" stroke="#000" stroke-width="1.35" fill="none" transform="rotate(0 1340.60 301.00)"/>
<ellipse cx="1571.30" cy="301.00" rx="2.00" ry="1.40" stroke="#000" stroke-width="1.35" fill="none" transform="rotate(0 1571.30 301.00)"/>
<ellipse cx="1350.24" cy="301.00" rx="2.00" ry="1.40" stroke="#000" stroke-width="1.35" fill="none" transform="rotate(0 1350.24 301.00)"/>
<ellipse cx="1561.66" cy="301.00" rx="2.00" ry="1.40" stroke="#000" stroke-width="1.35" fill="none" transform="rotate(0 1561.66 301.00)"/>
<ellipse cx="1379.16" cy="301.00" rx="2.00" ry="1.40" stroke="#000" stroke-width="1.35" fill="none" transform="rotate(0 1379.16 301.00)"/>
<ellipse cx="1532.74" cy="301.00" rx="2.00" ry="1.40" stroke="#000" stroke-width="1.35" fill="none" transform="rotate(0 1532.74 301.00)"/>
<ellipse cx="1201.05" cy="305.40" rx="2.00" ry="1.40" stroke="#000" stroke-width="1.35" fill="none" transform="rotate(0 1201.05 305.40)"/>
<ellipse cx="1710.85" cy="305.40" rx="2.00" ry="1.40" stroke="#000" stroke-width="1.35" fill="none" transform="rotate(0 1710.85 305.40)"/>
<ellipse cx="1210.69" cy="305.40" rx="2.00" ry="1.40" stroke="#000" stroke-width="1.35" fill="none" transform="rotate(0 1210.69 305.40)"/>
<ellipse cx="1701.21" cy="305.40" rx="2.00" ry="1.40" stroke="#000" stroke-width="1.35" fill="none" transform="rotate(0 1701.21 305.40)"/>
<ellipse cx="1220.33" cy="305.40" rx="2.00" ry="1.40" stroke="#000" stroke-width="1.35" fill="none" transform="rotate(0 1220.33 305.40)"/>
<ellipse cx="1691.57" cy="305.40" rx="2.00" ry="1.40" stroke="#000" stroke-width="1.35" fill="none" transform="rotate(0 1691.57 305.40)"/>
<ellipse cx="1229.97" cy="305.40" rx="2.00" ry="1.40" stroke="#000" stroke-width="1.35" fill="none" transform="rotate(0 1229.97 305.40)"/>
<ellipse cx="1681.93" cy="305.40" rx="2.00" ry="1.40" stroke="#000" stroke-width="1.35" fill="none" transform="rotate(0 1681.93 305.40)"/>
<ellipse cx="1239.61" cy="305.40" rx="2.00" ry="1.40" stroke="#000" stroke-width="1.35" fill="none" transform="rotate(0 1239.61 305.40)"/>
<ellipse cx="1672.29" cy="305.40" rx="2.00" ry="1.40" stroke="#000" stroke-width="1.35" fill="none" transform="rotate(0 1672.29 305.40)"/>
<ellipse cx="1249.25" cy="305.40" rx="2.00" ry="1.40" stroke="#000" stroke-width="1.35" fill="none" transform="rotate(0 1249.25 305.40)"/>
<ellipse cx="1662.65" cy="305.40" rx="2.00" ry="1.40" stroke="#000" stroke-width="1.35" fill="none" transform="rotate(0 1662.65 305.40)"/>
<ellipse cx="1258.89" cy="305.40" rx="2.00" ry="1.40" stroke="#000" stroke-width="1.35" fill="none" transform="rotate(0 1258.89 305.40)"/>
<ellipse cx="1653.01" cy="305.40" rx="2.00" ry="1.40" stroke="#000" stroke-width="1.35" fill="none" transform="rotate(0 1653.01 305.40)"/>
<ellipse cx="1268.53" cy="305.40" rx="2.00" ry="1.40" stroke="#000" stroke-width="1.35" fill="none" transform="rotate(0 1268.53 305.40)"/>
<ellipse cx="1643.37" cy="305.40" rx="2.00" ry="1.40" stroke="#000" stroke-width="1.35" fill="none" transform="rotate(0 1643.37 305.40)"/>
<ellipse cx="1278.17" cy="305.40" rx="2.00" ry="1.40" stroke="#000" stroke-width="1.35" fill="none" transform="rotate(0 1278.17 305.40)"/>
<ellipse cx="1633.73" cy="305.40" rx="2.00" ry="1.40" stroke="#000" stroke-width="1.35" fill="none" transform="rotate(0 1633.73 305.40)"/>
<ellipse cx="1287.81" cy="305.40" rx="2.00" ry="1.40" stroke="#000" stroke-width="1.35" fill="none" transform="rotate(0 1287.81 305.40)"/>
<ellipse cx="1624.09" cy="305.40" rx="2.00" ry="1.40" stroke="#000" stroke-width="1.35" fill="none" transform="rotate(0 1624.09 305.40)"/>
<ellipse cx="1297.45" cy="305.40" rx="2.00" ry="1.40" stroke="#000" stroke-width="1.35" fill="none" transform="rotate(0 1297.45 305.40)"/>
<ellipse cx="1614.45" cy="305.40" rx="2.00" ry="1.40" stroke="#000" stroke-width="1.35" fill="none" transform="rotate(0 1614.45 305.40)"/>
<ellipse cx="1307.09" cy="305.40" rx="2.00" ry="1.40" stroke="#000" stroke-width="1.35" fill="none" transform="rotate(0 1307.09 305.40)"/>
<ellipse cx="1604.81" cy="305.40" rx="2.00" ry="1.40" stroke="#000" stroke-width="1.35" fill="none" transform="rotate(0 1604.81 305.40)"/>
<ellipse cx="1316.73" cy="305.40" rx="2.00" ry="1.40" stroke="#000" stroke-width="1.35" fill="none" transform="rotate(0 1316.73 305.40)"/>
<ellipse cx="1595.17" cy="305.40" rx="2.00" ry="1.40" stroke="#000" stroke-width="1.35" fill="none" transform="rotate(0 1595.17 305.40)"/>
<ellipse cx="1326.37" cy="305.40" rx="2.00" ry="1.40" stroke="#000" stroke-width="1.35" fill="none" transform="rotate(0 1326.37 305.40)"/>
<ellipse cx="1585.53" cy="305.40" rx="2.00" ry="1.40" stroke="#000" stroke-width="1.35" fill="none" transform="rotate(0 1585.53 305.40)"/>
<ellipse cx="1336.01" cy="305.40" rx="2.00" ry="1.40" stroke="#000" stroke-width="1.35" fill="none" transform="rotate(0 1336.01 305.40)"/>
<ellipse cx="1575.89" cy="305.40" rx="2.00" ry="1.40" stroke="#000" stroke-width="1.35" fill="none" transform="rotate(0 1575.89 305.40)"/>
<ellipse cx="1345.65" cy="305.40" rx="2.00" ry="1.40" stroke="#000" stroke-width="1.35" fill="none" transform="rotate(0 1345.65 305.40)"/>
<ellipse cx="1566.25" cy="305.40" rx="2.00" ry="1.40" stroke="#000" stroke-width="1.35" fill="none" transform="rotate(0 1566.25 305.40)"/>
<ellipse cx="1355.29" cy="305.40" rx="2.00" ry="1.40" stroke="#000" stroke-width="1.35" fill="none" transform="rotate(0 1355.29 305.40)"/>
<ellipse cx="1556.61" cy="305.40" rx="2.00" ry="1.40" stroke="#000" stroke-width="1.35" fill="none" transform="rotate(0 1556.61 305.40)"/>
<ellipse cx="1374.57" cy="305.40" rx="2.00" ry="1.40" stroke="#000" stroke-width="1.35" fill="none" transform="rotate(0 1374.57 305.40)"/>
<ellipse cx="1537.33" cy="305.40" rx="2.00" ry="1.40" stroke="#000" stroke-width="1.35" fill="none" transform="rotate(0 1537.33 305.40)"/>
<ellipse cx="1384.21" cy="305.40" rx="2.00" ry="1.40" stroke="#000" stroke-width="1.35" fill="none" transform="rotate(0 1384.21 305.40)"/>
<ellipse cx="1527.69" cy="305.40" rx="2.00" ry="1.40" stroke="#000" stroke-width="1.35" fill="none" transform="rotate(0 1527.69 305.40)"/>
<ellipse cx="1206.10" cy="309.80" rx="2.00" ry="1.40" stroke="#000" stroke-width="1.35" fill="none" transform="rotate(0 1206.10 309.80)"/>
<ellipse cx="1705.80" cy="309.80" rx="2.00" ry="1.40" stroke="#000" stroke-width="1.35" fill="none" transform="rotate(0 1705.80 309.80)"/>
<ellipse cx="1215.74" cy="309.80" rx="2.00" ry="1.40" stroke="#000" stroke-width="1.35" fill="none" transform="rotate(0 1215.74 309.80)"/>
<ellipse cx="1696.16" cy="309.80" rx="2.00" ry="1.40" stroke="#000" stroke-width="1.35" fill="none" transform="rotate(0 1696.16 309.80)"/>
<ellipse cx="1225.38" cy="309.80" rx="2.00" ry="1.40" stroke="#000" stroke-width="1.35" fill="none" transform="rotate(0 1225.38 309.80)"/>
<ellipse cx="1686.52" cy="309.80" rx="2.00" ry="1.40" stroke="#000" stroke-width="1.35" fill="none" transform="rotate(0 1686.52 309.80)"/>
<ellipse cx="1235.02" cy="309.80" rx="2.00" ry="1.40" stroke="#000" stroke-width="1.35" fill="none" transform="rotate(0 1235.02 309.80)"/>
<ellipse cx="1676.88" cy="309.80" rx="2.00" ry="1.40" stroke="#000" stroke-width="1.35" fill="none" transform="rotate(0 1676.88 309.80)"/>
<ellipse cx="1244.66" cy="309.80" rx="2.00" ry="1.40" stroke="#000" stroke-width="1.35" fill="none" transform="rotate(0 1244.66 309.80)"/>
<ellipse cx="1667.24" cy="309.80" rx="2.00" ry="1.40" stroke="#000" stroke-width="1.35" fill="none" transform="rotate(0 1667.24 309.80)"/>
<ellipse cx="1254.30" cy="309.80" rx="2.00" ry="1.40" stroke="#000" stroke-width="1.35" fill="none" transform="rotate(0 1254.30 309.80)"/>
<ellipse cx="1657.60" cy="309.80" rx="2.00" ry="1.40" stroke="#000" stroke-width="1.35" fill="none" transform="rotate(0 1657.60 309.80)"/>
<ellipse cx="1263.94" cy="309.80" rx="2.00" ry="1.40" stroke="#000" stroke-width="1.35" fill="none" transform="rotate(0 1263.94 309.80)"/>
<ellipse cx="1647.96" cy="309.80" rx="2.00" ry="1.40" stroke="#000" stroke-width="1.35" fill="none" transform="rotate(0 1647.96 309.80)"/>
<ellipse cx="1273.58" cy="309.80" rx="2.00" ry="1.40" stroke="#000" stroke-width="1.35" fill="none" transform="rotate(0 1273.58 309.80)"/>
<ellipse cx="1638.32" cy="309.80" rx="2.00" ry="1.40" stroke="#000" stroke-width="1.35" fill="none" transform="rotate(0 1638.32 309.80)"/>
<ellipse cx="1283.22" cy="309.80" rx="2.00" ry="1.40" stroke="#000" stroke-width="1.35" fill="none" transform="rotate(0 1283.22 309.80)"/>
<ellipse cx="1628.68" cy="309.80" rx="2.00" ry="1.40" stroke="#000" stroke-width="1.35" fill="none" transform="rotate(0 1628.68 309.80)"/>
<ellipse cx="1292.86" cy="309.80" rx="2.00" ry="1.40" stroke="#000" stroke-width="1.35" fill="none" transform="rotate(0 1292.86 309.80)"/>
<ellipse cx="1619.04" cy="309.80" rx="2.00" ry="1.40" stroke="#000" stroke-width="1.35" fill="none" transform="rotate(0 1619.04 309.80)"/>
<ellipse cx="1302.50" cy="309.80" rx="2.00" ry="1.40" stroke="#000" stroke-width="1.35" fill="none" transform="rotate(0 1302.50 309.80)"/>
<ellipse cx="1609.40" cy="309.80" rx="2.00" ry="1.40" stroke="#000" stroke-width="1.35" fill="none" transform="rotate(0 1609.40 309.80)"/>
<ellipse cx="1312.14" cy="309.80" rx="2.00" ry="1.40" stroke="#000" stroke-width="1.35" fill="none" transform="rotate(0 1312.14 309.80)"/>
<ellipse cx="1599.76" cy="309.80" rx="2.00" ry="1.40" stroke="#000" stroke-width="1.35" fill="none" transform="rotate(0 1599.76 309.80)"/>
<ellipse cx="1321.78" cy="309.80" rx="2.00" ry="1.40" stroke="#000" stroke-width="1.35" fill="none" transform="rotate(0 1321.78 309.80)"/>
<ellipse cx="1590.12" cy="309.80" rx="2.00" ry="1.40" stroke="#000" stroke-width="1.35" fill="none" transform="rotate(0 1590.12 309.80)"/>
<ellipse cx="1331.42" cy="309.80" rx="2.00" ry="1.40" stroke="#000" stroke-width="1.35" fill="none" transform="rotate(0 1331.42 309.80)"/>
<ellipse cx="1580.48" cy="309.80" rx="2.00" ry="1.40" stroke="#000" stroke-width="1.35" fill="none" transform="rotate(0 1580.48 309.80)"/>
<ellipse cx="1341.06" cy="309.80" rx="2.00" ry="1.40" stroke="#000" stroke-width="1.35" fill="none" transform="rotate(0 1341.06 309.80)"/>
<ellipse cx="1570.84" cy="309.80" rx="2.00" ry="1.40" stroke="#000" stroke-width="1.35" fill="none" transform="rotate(0 1570.84 309.80)"/>
<ellipse cx="1350.70" cy="309.80" rx="2.00" ry="1.40" stroke="#000" stroke-width="1.35" fill="none" transform="rotate(0 1350.70 309.80)"/>
<ellipse cx="1561.20" cy="309.80" rx="2.00" ry="1.40" stroke="#000" stroke-width="1.35" fill="none" transform="rotate(0 1561.20 309.80)"/>
<ellipse cx="1360.34" cy="309.80" rx="2.00" ry="1.40" stroke="#000" stroke-width="1.35" fill="none" transform="rotate(0 1360.34 309.80)"/>
<ellipse cx="1551.56" cy="309.80" rx="2.00" ry="1.40" stroke="#000" stroke-width="1.35" fill="none" transform="rotate(0 1551.56 309.80)"/>
<ellipse cx="1369.98" cy="309.80" rx="2.00" ry="1.40" stroke="#000" stroke-width="1.35" fill="none" transform="rotate(0 1369.98 309.80)"/>
<ellipse cx="1541.92" cy="309.80" rx="2.00" ry="1.40" stroke="#000" stroke-width="1.35" fill="none" transform="rotate(0 1541.92 309.80)"/>
<ellipse cx="1379.62" cy="309.80" rx="2.00" ry="1.40" stroke="#000" stroke-width="1.35" fill="none" transform="rotate(0 1379.62 309.80)"/>
<ellipse cx="1532.28" cy="309.80" rx="2.00" ry="1.40" stroke="#000" stroke-width="1.35" fill="none" transform="rotate(0 1532.28 309.80)"/>
<ellipse cx="1389.26" cy="309.80" rx="2.00" ry="1.40" stroke="#000" stroke-width="1.35" fill="none" transform="rotate(0 1389.26 309.80)"/>
<ellipse cx="1522.64" cy="309.80" rx="2.00" ry="1.40" stroke="#000" stroke-width="1.35" fill="none" transform="rotate(0 1522.64 309.80)"/>
<ellipse cx="1211.15" cy="314.20" rx="2.00" ry="1.40" stroke="#000" stroke-width="1.35" fill="none" transform="rotate(0 1211.15 314.20)"/>
<ellipse cx="1700.75" cy="314.20" rx="2.00" ry="1.40" stroke="#000" stroke-width="1.35" fill="none" transform="rotate(0 1700.75 314.20)"/>
<ellipse cx="1220.79" cy="314.20" rx="2.00" ry="1.40" stroke="#000" stroke-width="1.35" fill="none" transform="rotate(0 1220.79 314.20)"/>
<ellipse cx="1691.11" cy="314.20" rx="2.00" ry="1.40" stroke="#000" stroke-width="1.35" fill="none" transform="rotate(0 1691.11 314.20)"/>
<ellipse cx="1230.43" cy="314.20" rx="2.00" ry="1.40" stroke="#000" stroke-width="1.35" fill="none" transform="rotate(0 1230.43 314.20)"/>
<ellipse cx="1681.47" cy="314.20" rx="2.00" ry="1.40" stroke="#000" stroke-width="1.35" fill="none" transform="rotate(0 1681.47 314.20)"/>
<ellipse cx="1240.07" cy="314.20" rx="2.00" ry="1.40" stroke="#000" stroke-width="1.35" fill="none" transform="rotate(0 1240.07 314.20)"/>
<ellipse cx="1671.83" cy="314.20" rx="2.00" ry="1.40" stroke="#000" stroke-width="1.35" fill="none" transform="rotate(0 1671.83 314.20)"/>
<ellipse cx="1249.71" cy="314.20" rx="2.00" ry="1.40" stroke="#000" stroke-width="1.35" fill="none" transform="rotate(0 1249.71 314.20)"/>
<ellipse cx="1662.19" cy="314.20" rx="2.00" ry="1.40" stroke="#000" stroke-width="1.35" fill="none" transform="rotate(0 1662.19 314.20)"/>
<ellipse cx="1259.35" cy="314.20" rx="2.00" ry="1.40" stroke="#000" stroke-width="1.35" fill="none" transform="rotate(0 1259.35 314.20)"/>
<ellipse cx="1652.55" cy="314.20" rx="2.00" ry="1.40" stroke="#000" stroke-width="1.35" fill="none" transform="rotate(0 1652.55 314.20)"/>
<ellipse cx="1268.99" cy="314.20" rx="2.00" ry="1.40" stroke="#000" stroke-width="1.35" fill="none" transform="rotate(0 1268.99 314.20)"/>
<ellipse cx="1642.91" cy="314.20" rx="2.00" ry="1.40" stroke="#000" stroke-width="1.35" fill="none" transform="rotate(0 1642.91 314.20)"/>
<ellipse cx="1278.63" cy="314.20" rx="2.00" ry="1.40" stroke="#000" stroke-width="1.35" fill="none" transform="rotate(0 1278.63 314.20)"/>
<ellipse cx="1633.27" cy="314.20" rx="2.00" ry="1.40" stroke="#000" stroke-width="1.35" fill="none" transform="rotate(0 1633.27 314.20)"/>
<ellipse cx="1288.27" cy="314.20" rx="2.00" ry="1.40" stroke="#000" stroke-width="1.35" fill="none" transform="rotate(0 1288.27 314.20)"/>
<ellipse cx="1623.63" cy="314.20" rx="2.00" ry="1.40" stroke="#000" stroke-width="1.35" fill="none" transform="rotate(0 1623.63 314.20)"/>
<ellipse cx="1297.91" cy="314.20" rx="2.00" ry="1.40" stroke="#000" stroke-width="1.35" fill="none" transform="rotate(0 1297.91 314.20)"/>
<ellipse cx="1613.99" cy="314.20" rx="2.00" ry="1.40" stroke="#000" stroke-width="1.35" fill="none" transform="rotate(0 1613.99 314.20)"/>
<ellipse cx="1307.55" cy="314.20" rx="2.00" ry="1.40" stroke="#000" stroke-width="1.35" fill="none" transform="rotate(0 1307.55 314.20)"/>
<ellipse cx="1604.35" cy="314.20" rx="2.00" ry="1.40" stroke="#000" stroke-width="1.35" fill="none" transform="rotate(0 1604.35 314.20)"/>
<ellipse cx="1317.19" cy="314.20" rx="2.00" ry="1.40" stroke="#000" stroke-width="1.35" fill="none" transform="rotate(0 1317.19 314.20)"/>
<ellipse cx="1594.71" cy="314.20" rx="2.00" ry="1.40" stroke="#000" stroke-width="1.35" fill="none" transform="rotate(0 1594.71 314.20)"/>
<ellipse cx="1326.83" cy="314.20" rx="2.00" ry="1.40" stroke="#000" stroke-width="1.35" fill="none" transform="rotate(0 1326.83 314.20)"/>
<ellipse cx="1585.07" cy="314.20" rx="2.00" ry="1.40" stroke="#000" stroke-width="1.35" fill="none" transform="rotate(0 1585.07 314.20)"/>
<ellipse cx="1336.47" cy="314.20" rx="2.00" ry="1.40" stroke="#000" stroke-width="1.35" fill="none" transform="rotate(0 1336.47 314.20)"/>
<ellipse cx="1575.43" cy="314.20" rx="2.00" ry="1.40" stroke="#000" stroke-width="1.35" fill="none" transform="rotate(0 1575.43 314.20)"/>
<ellipse cx="1346.11" cy="314.20" rx="2.00" ry="1.40" stroke="#000" stroke-width="1.35" fill="none" transform="rotate(0 1346.11 314.20)"/>
<ellipse cx="1565.79" cy="314.20" rx="2.00" ry="1.40" stroke="#000" stroke-width="1.35" fill="none" transform="rotate(0 1565.79 314.20)"/>
<ellipse cx="1355.75" cy="314.20" rx="2.00" ry="1.40" stroke="#000" stroke-width="1.35" fill="none" transform="rotate(0 1355.75 314.20)"/>
<ellipse cx="1556.15" cy="314.20" rx="2.00" ry="1.40" stroke="#000" stroke-width="1.35" fill="none" transform="rotate(0 1556.15 314.20)"/>
<ellipse cx="1365.39" cy="314.20" rx="2.00" ry="1.40" stroke="#000" stroke-width="1.35" fill="none" transform="rotate(0 1365.39 314.20)"/>
<ellipse cx="1546.51" cy="314.20" rx="2.00" ry="1.40" stroke="#000" stroke-width="1.35" fill="none" transform="rotate(0 1546.51 314.20)"/>
<ellipse cx="1375.03" cy="314.20" rx="2.00" ry="1.40" stroke="#000" stroke-width="1.35" fill="none" transform="rotate(0 1375.03 314.20)"/>
<ellipse cx="1536.87" cy="314.20" rx="2.00" ry="1.40" stroke="#000" stroke-width="1.35" fill="none" transform="rotate(0 1536.87 314.20)"/>
<ellipse cx="1384.67" cy="314.20" rx="2.00" ry="1.40" stroke="#000" stroke-width="1.35" fill="none" transform="rotate(0 1384.67 314.20)"/>
<ellipse cx="1527.23" cy="314.20" rx="2.00" ry="1.40" stroke="#000" stroke-width="1.35" fill="none" transform="rotate(0 1527.23 314.20)"/>
<ellipse cx="1394.31" cy="314.20" rx="2.00" ry="1.40" stroke="#000" stroke-width="1.35" fill="none" transform="rotate(0 1394.31 314.20)"/>
<ellipse cx="1517.59" cy="314.20" rx="2.00" ry="1.40" stroke="#000" stroke-width="1.35" fill="none" transform="rotate(0 1517.59 314.20)"/>
<ellipse cx="1216.20" cy="318.60" rx="2.00" ry="1.40" stroke="#000" stroke-width="1.35" fill="none" transform="rotate(0 1216.20 318.60)"/>
<ellipse cx="1695.70" cy="318.60" rx="2.00" ry="1.40" stroke="#000" stroke-width="1.35" fill="none" transform="rotate(0 1695.70 318.60)"/>
<ellipse cx="1225.84" cy="318.60" rx="2.00" ry="1.40" stroke="#000" stroke-width="1.35" fill="none" transform="rotate(0 1225.84 318.60)"/>
<ellipse cx="1686.06" cy="318.60" rx="2.00" ry="1.40" stroke="#000" stroke-width="1.35" fill="none" transform="rotate(0 1686.06 318.60)"/>
<ellipse cx="1235.48" cy="318.60" rx="2.00" ry="1.40" stroke="#000" stroke-width="1.35" fill="none" transform="rotate(0 1235.48 318.60)"/>
<ellipse cx="1676.42" cy="318.60" rx="2.00" ry="1.40" stroke="#000" stroke-width="1.35" fill="none" transform="rotate(0 1676.42 318.60)"/>
<ellipse cx="1245.12" cy="318.60" rx="2.00" ry="1.40" stroke="#000" stroke-width="1.35" fill="none" transform="rotate(0 1245.12 318.60)"/>
<ellipse cx="1666.78" cy="318.60" rx="2.00" ry="1.40" stroke="#000" stroke-width="1.35" fill="none" transform="rotate(0 1666.78 318.60)"/>
<ellipse cx="1254.76" cy="318.60" rx="2.00" ry="1.40" stroke="#000" stroke-width="1.35" fill="none" transform="rotate(0 1254.76 318.60)"/>
<ellipse cx="1657.14" cy="318.60" rx="2.00" ry="1.40" stroke="#000" stroke-width="1.35" fill="none" transform="rotate(0 1657.14 318.60)"/>
<ellipse cx="1264.40" cy="318.60" rx="2.00" ry="1.40" stroke="#000" stroke-width="1.35" fill="none" transform="rotate(0 1264.40 318.60)"/>
<ellipse cx="1647.50" cy="318.60" rx="2.00" ry="1.40" stroke="#000" stroke-width="1.35" fill="none" transform="rotate(0 1647.50 318.60)"/>
<ellipse cx="1274.04" cy="318.60" rx="2.00" ry="1.40" stroke="#000" stroke-width="1.35" fill="none" transform="rotate(0 1274.04 318.60)"/>
<ellipse cx="1637.86" cy="318.60" rx="2.00" ry="1.40" stroke="#000" stroke-width="1.35" fill="none" transform="rotate(0 1637.86 318.60)"/>
<ellipse cx="1283.68" cy="318.60" rx="2.00" ry="1.40" stroke="#000" stroke-width="1.35" fill="none" transform="rotate(0 1283.68 318.60)"/>
<ellipse cx="1628.22" cy="318.60" rx="2.00" ry="1.40" stroke="#000" stroke-width="1.35" fill="none" transform="rotate(0 1628.22 318.60)"/>
<ellipse cx="1293.32" cy="318.60" rx="2.00" ry="1.40" stroke="#000" stroke-width="1.35" fill="none" transform="rotate(0 1293.32 318.60)"/>
<ellipse cx="1618.58" cy="318.60" rx="2.00" ry="1.40" stroke="#000" stroke-width="1.35" fill="none" transform="rotate(0 1618.58 318.60)"/>
<ellipse cx="1302.96" cy="318.60" rx="2.00" ry="1.40" stroke="#000" stroke-width="1.35" fill="none" transform="rotate(0 1302.96 318.60)"/>
<ellipse cx="1608.94" cy="318.60" rx="2.00" ry="1.40" stroke="#000" stroke-width="1.35" fill="none" transform="rotate(0 1608.94 318.60)"/>
<ellipse cx="1312.60" cy="318.60" rx="2.00" ry="1.40" stroke="#000" stroke-width="1.35" fill="none" transform="rotate(0 1312.60 318.60)"/>
<ellipse cx="1599.30" cy="318.60" rx="2.00" ry="1.40" stroke="#000" stroke-width="1.35" fill="none" transform="rotate(0 1599.30 318.60)"/>
<ellipse cx="1322.24" cy="318.60" rx="2.00" ry="1.40" stroke="#000" stroke-width="1.35" fill="none" transform="rotate(0 1322.24 318.60)"/>
<ellipse cx="1589.66" cy="318.60" rx="2.00" ry="1.40" stroke="#000" stroke-width="1.35" fill="none" transform="rotate(0 1589.66 318.60)"/>
<ellipse cx="1331.88" cy="318.60" rx="2.00" ry="1.40" stroke="#000" stroke-width="1.35" fill="none" transform="rotate(0 1331.88 318.60)"/>
<ellipse cx="1580.02" cy="318.60" rx="2.00" ry="1.40" stroke="#000" stroke-width="1.35" fill="none" transform="rotate(0 1580.02 318.60)"/>
<ellipse cx="1341.52" cy="318.60" rx="2.00" ry="1.40" stroke="#000" stroke-width="1.35" fill="none" transform="rotate(0 1341.52 318.60)"/>
<ellipse cx="1570.38" cy="318.60" rx="2.00" ry="1.40" stroke="#000" stroke-width="1.35" fill="none" transform="rotate(0 1570.38 318.60)"/>
<ellipse cx="1351.16" cy="318.60" rx="2.00" ry="1.40" stroke="#000" stroke-width="1.35" fill="none" transform="rotate(0 1351.16 318.60)"/>
<ellipse cx="1560.74" cy="318.60" rx="2.00" ry="1.40" stroke="#000" stroke-width="1.35" fill="none" transform="rotate(0 1560.74 318.60)"/>
<ellipse cx="1360.80" cy="318.60" rx="2.00" ry="1.40" stroke="#000" stroke-width="1.35" fill="none" transform="rotate(0 1360.80 318.60)"/>
<ellipse cx="1551.10" cy="318.60" rx="2.00" ry="1.40" stroke="#000" stroke-width="1.35" fill="none" transform="rotate(0 1551.10 318.60)"/>
<ellipse cx="1370.44" cy="318.60" rx="2.00" ry="1.40" stroke="#000" stroke-width="1.35" fill="none" transform="rotate(0 1370.44 318.60)"/>
<ellipse cx="1541.46" cy="318.60" rx="2.00" ry="1.40" stroke="#000" stroke-width="1.35" fill="none" transform="rotate(0 1541.46 318.60)"/>
<ellipse cx="1380.08" cy="318.60" rx="2.00" ry="1.40" stroke="#000" stroke-width="1.35" fill="none" transform="rotate(0 1380.08 318.60)"/>
<ellipse cx="1531.82" cy="318.60" rx="2.00" ry="1.40" stroke="#000" stroke-width="1.35" fill="none" transform="rotate(0 1531.82 318.60)"/>
<ellipse cx="1389.72" cy="318.60" rx="2.00" ry="1.40" stroke="#000" stroke-width="1.35" fill="none" transform="rotate(0 1389.72 318.60)"/>
<ellipse cx="1522.18" cy="318.60" rx="2.00" ry="1.40" stroke="#000" stroke-width="1.35" fill="none" transform="rotate(0 1522.18 318.60)"/>
<ellipse cx="1399.36" cy="318.60" rx="2.00" ry="1.40" stroke="#000" stroke-width="1.35" fill="none" transform="rotate(0 1399.36 318.60)"/>
<ellipse cx="1512.54" cy="318.60" rx="2.00" ry="1.40" stroke="#000" stroke-width="1.35" fill="none" transform="rotate(0 1512.54 318.60)"/>
<ellipse cx="1221.25" cy="323.00" rx="2.00" ry="1.40" stroke="#000" stroke-width="1.35" fill="none" transform="rotate(0 1221.25 323.00)"/>
<ellipse cx="1690.65" cy="323.00" rx="2.00" ry="1.40" stroke="#000" stroke-width="1.35" fill="none" transform="rotate(0 1690.65 323.00)"/>
<ellipse cx="1230.89" cy="323.00" rx="2.00" ry="1.40" stroke="#000" stroke-width="1.35" fill="none" transform="rotate(0 1230.89 323.00)"/>
<ellipse cx="1681.01" cy="323.00" rx="2.00" ry="1.40" stroke="#000" stroke-width="1.35" fill="none" transform="rotate(0 1681.01 323.00)"/>
<ellipse cx="1240.53" cy="323.00" rx="2.00" ry="1.40" stroke="#000" stroke-width="1.35" fill="none" transform="rotate(0 1240.53 323.00)"/>
<ellipse cx="1671.37" cy="323.00" rx="2.00" ry="1.40" stroke="#000" stroke-width="1.35" fill="none" transform="rotate(0 1671.37 323.00)"/>
<ellipse cx="1250.17" cy="323.00" rx="2.00" ry="1.40" stroke="#000" stroke-width="1.35" fill="none" transform="rotate(0 1250.17 323.00)"/>
<ellipse cx="1661.73" cy="323.00" rx="2.00" ry="1.40" stroke="#000" stroke-width="1.35" fill="none" transform="rotate(0 1661.73 323.00)"/>
<ellipse cx="1259.81" cy="323.00" rx="2.00" ry="1.40" stroke="#000" stroke-width="1.35" fill="none" transform="rotate(0 1259.81 323.00)"/>
<ellipse cx="1652.09" cy="323.00" rx="2.00" ry="1.40" stroke="#000" stroke-width="1.35" fill="none" transform="rotate(0 1652.09 323.00)"/>
<ellipse cx="1269.45" cy="323.00" rx="2.00" ry="1.40" stroke="#000" stroke-width="1.35" fill="none" transform="rotate(0 1269.45 323.00)"/>
<ellipse cx="1642.45" cy="323.00" rx="2.00" ry="1.40" stroke="#000" stroke-width="1.35" fill="none" transform="rotate(0 1642.45 323.00)"/>
<ellipse cx="1279.09" cy="323.00" rx="2.00" ry="1.40" stroke="#000" stroke-width="1.35" fill="none" transform="rotate(0 1279.09 323.00)"/>
<ellipse cx="1632.81" cy="323.00" rx="2.00" ry="1.40" stroke="#000" stroke-width="1.35" fill="none" transform="rotate(0 1632.81 323.00)"/>
<ellipse cx="1288.73" cy="323.00" rx="2.00" ry="1.40" stroke="#000" stroke-width="1.35" fill="none" transform="rotate(0 1288.73 323.00)"/>
<ellipse cx="1623.17" cy="323.00" rx="2.00" ry="1.40" stroke="#000" stroke-width="1.35" fill="none" transform="rotate(0 1623.17 323.00)"/>
<ellipse cx="1298.37" cy="323.00" rx="2.00" ry="1.40" stroke="#000" stroke-width="1.35" fill="none" transform="rotate(0 1298.37 323.00)"/>
<ellipse cx="1613.53" cy="323.00" rx="2.00" ry="1.40" stroke="#000" stroke-width="1.35" fill="none" transform="rotate(0 1613.53 323.00)"/>
<ellipse cx="1308.01" cy="323.00" rx="2.00" ry="1.40" stroke="#000" stroke-width="1.35" fill="none" transform="rotate(0 1308.01 323.00)"/>
<ellipse cx="1603.89" cy="323.00" rx="2.00" ry="1.40" stroke="#000" stroke-width="1.35" fill="none" transform="rotate(0 1603.89 323.00)"/>
<ellipse cx="1317.65" cy="323.00" rx="2.00" ry="1.40" stroke="#000" stroke-width="1.35" fill="none" transform="rotate(0 1317.65 323.00)"/>
<ellipse cx="1594.25" cy="323.00" rx="2.00" ry="1.40" stroke="#000" stroke-width="1.35" fill="none" transform="rotate(0 1594.25 323.00)"/>
<ellipse cx="1327.29" cy="323.00" rx="2.00" ry="1.40" stroke="#000" stroke-width="1.35" fill="none" transform="rotate(0 1327.29 323.00)"/>
<ellipse cx="1584.61" cy="323.00" rx="2.00" ry="1.40" stroke="#000" stroke-width="1.35" fill="none" transform="rotate(0 1584.61 323.00)"/>
<ellipse cx="1336.93" cy="323.00" rx="2.00" ry="1.40" stroke="#000" stroke-width="1.35" fill="none" transform="rotate(0 1336.93 323.00)"/>
<ellipse cx="1574.97" cy="323.00" rx="2.00" ry="1.40" stroke="#000" stroke-width="1.35" fill="none" transform="rotate(0 1574.97 323.00)"/>
<ellipse cx="1346.57" cy="323.00" rx="2.00" ry="1.40" stroke="#000" stroke-width="1.35" fill="none" transform="rotate(0 1346.57 323.00)"/>
<ellipse cx="1565.33" cy="323.00" rx="2.00" ry="1.40" stroke="#000" stroke-width="1.35" fill="none" transform="rotate(0 1565.33 323.00)"/>
<ellipse cx="1356.21" cy="323.00" rx="2.00" ry="1.40" stroke="#000" stroke-width="1.35" fill="none" transform="rotate(0 1356.21 323.00)"/>
<ellipse cx="1555.69" cy="323.00" rx="2.00" ry="1.40" stroke="#000" stroke-width="1.35" fill="none" transform="rotate(0 1555.69 323.00)"/>
<ellipse cx="1365.85" cy="323.00" rx="2.00" ry="1.40" stroke="#000" stroke-width="1.35" fill="none" transform="rotate(0 1365.85 323.00)"/>
<ellipse cx="1546.05" cy="323.00" rx="2.00" ry="1.40" stroke="#000" stroke-width="1.35" fill="none" transform="rotate(0 1546.05 323.00)"/>
<ellipse cx="1375.49" cy="323.00" rx="2.00" ry="1.40" stroke="#000" stroke-width="1.35" fill="none" transform="rotate(0 1375.49 323.00)"/>
<ellipse cx="1536.41" cy="323.00" rx="2.00" ry="1.40" stroke="#000" stroke-width="1.35" fill="none" transform="rotate(0 1536.41 323.00)"/>
<ellipse cx="1385.13" cy="323.00" rx="2.00" ry="1.40" stroke="#000" stroke-width="1.35" fill="none" transform="rotate(0 1385.13 323.00)"/>
<ellipse cx="1526.77" cy="323.00" rx="2.00" ry="1.40" stroke="#000" stroke-width="1.35" fill="none" transform="rotate(0 1526.77 323.00)"/>
<ellipse cx="1394.77" cy="323.00" rx="2.00" ry="1.40" stroke="#000" stroke-width="1.35" fill="none" transform="rotate(0 1394.77 323.00)"/>
<ellipse cx="1517.13" cy="323.00" rx="2.00" ry="1.40" stroke="#000" stroke-width="1.35" fill="none" transform="rotate(0 1517.13 323.00)"/>
<ellipse cx="1404.41" cy="323.00" rx="2.00" ry="1.40" stroke="#000" stroke-width="1.35" fill="none" transform="rotate(0 1404.41 323.00)"/>
<ellipse cx="1507.49" cy="323.00" rx="2.00" ry="1.40" stroke="#000" stroke-width="1.35" fill="none" transform="rotate(0 1507.49 323.00)"/>
<ellipse cx="1226.30" cy="327.40" rx="2.00" ry="1.40" stroke="#000" stroke-width="1.35" fill="none" transform="rotate(0 1226.30 327.40)"/>
<ellipse cx="1685.60" cy="327.40" rx="2.00" ry="1.40" stroke="#000" stroke-width="1.35" fill="none" transform="rotate(0 1685.60 327.40)"/>
<ellipse cx="1235.94" cy="327.40" rx="2.00" ry="1.40" stroke="#000" stroke-width="1.35" fill="none" transform="rotate(0 1235.94 327.40)"/>
<ellipse cx="1675.96" cy="327.40" rx="2.00" ry="1.40" stroke="#000" stroke-width="1.35" fill="none" transform="rotate(0 1675.96 327.40)"/>
<ellipse cx="1245.58" cy="327.40" rx="2.00" ry="1.40" stroke="#000" stroke-width="1.35" fill="none" transform="rotate(0 1245.58 327.40)"/>
<ellipse cx="1666.32" cy="327.40" rx="2.00" ry="1.40" stroke="#000" stroke-width="1.35" fill="none" transform="rotate(0 1666.32 327.40)"/>
<ellipse cx="1255.22" cy="327.40" rx="2.00" ry="1.40" stroke="#000" stroke-width="1.35" fill="none" transform="rotate(0 1255.22 327.40)"/>
<ellipse cx="1656.68" cy="327.40" rx="2.00" ry="1.40" stroke="#000" stroke-width="1.35" fill="none" transform="rotate(0 1656.68 327.40)"/>
<ellipse cx="1264.86" cy="327.40" rx="2.00" ry="1.40" stroke="#000" stroke-width="1.35" fill="none" transform="rotate(0 1264.86 327.40)"/>
<ellipse cx="1647.04" cy="327.40" rx="2.00" ry="1.40" stroke="#000" stroke-width="1.35" fill="none" transform="rotate(0 1647.04 327.40)"/>
<ellipse cx="1274.50" cy="327.40" rx="2.00" ry="1.40" stroke="#000" stroke-width="1.35" fill="none" transform="rotate(0 1274.50 327.40)"/>
<ellipse cx="1637.40" cy="327.40" rx="2.00" ry="1.40" stroke="#000" stroke-width="1.35" fill="none" transform="rotate(0 1637.40 327.40)"/>
<ellipse cx="1284.14" cy="327.40" rx="2.00" ry="1.40" stroke="#000" stroke-width="1.35" fill="none" transform="rotate(0 1284.14 327.40)"/>
<ellipse cx="1627.76" cy="327.40" rx="2.00" ry="1.40" stroke="#000" stroke-width="1.35" fill="none" transform="rotate(0 1627.76 327.40)"/>
<ellipse cx="1293.78" cy="327.40" rx="2.00" ry="1.40" stroke="#000" stroke-width="1.35" fill="none" transform="rotate(0 1293.78 327.40)"/>
<ellipse cx="1618.12" cy="327.40" rx="2.00" ry="1.40" stroke="#000" stroke-width="1.35" fill="none" transform="rotate(0 1618.12 327.40)"/>
<ellipse cx="1303.42" cy="327.40" rx="2.00" ry="1.40" stroke="#000" stroke-width="1.35" fill="none" transform="rotate(0 1303.42 327.40)"/>
<ellipse cx="1608.48" cy="327.40" rx="2.00" ry="1.40" stroke="#000" stroke-width="1.35" fill="none" transform="rotate(0 1608.48 327.40)"/>
<ellipse cx="1313.06" cy="327.40" rx="2.00" ry="1.40" stroke="#000" stroke-width="1.35" fill="none" transform="rotate(0 1313.06 327.40)"/>
<ellipse cx="1598.84" cy="327.40" rx="2.00" ry="1.40" stroke="#000" stroke-width="1.35" fill="none" transform="rotate(0 1598.84 327.40)"/>
<ellipse cx="1322.70" cy="327.40" rx="2.00" ry="1.40" stroke="#000" stroke-width="1.35" fill="none" transform="rotate(0 1322.70 327.40)"/>
<ellipse cx="1589.20" cy="327.40" rx="2.00" ry="1.40" stroke="#000" stroke-width="1.35" fill="none" transform="rotate(0 1589.20 327.40)"/>
<ellipse cx="1332.34" cy="327.40" rx="2.00" ry="1.40" stroke="#000" stroke-width="1.35" fill="none" transform="rotate(0 1332.34 327.40)"/>
<ellipse cx="1579.56" cy="327.40" rx="2.00" ry="1.40" stroke="#000" stroke-width="1.35" fill="none" transform="rotate(0 1579.56 327.40)"/>
<ellipse cx="1341.98" cy="327.40" rx="2.00" ry="1.40" stroke="#000" stroke-width="1.35" fill="none" transform="rotate(0 1341.98 327.40)"/>
<ellipse cx="1569.92" cy="327.40" rx="2.00" ry="1.40" stroke="#000" stroke-width="1.35" fill="none" transform="rotate(0 1569.92 327.40)"/>
<ellipse cx="1351.62" cy="327.40" rx="2.00" ry="1.40" stroke="#000" stroke-width="1.35" fill="none" transform="rotate(0 1351.62 327.40)"/>
<ellipse cx="1560.28" cy="327.40" rx="2.00" ry="1.40" stroke="#000" stroke-width="1.35" fill="none" transform="rotate(0 1560.28 327.40)"/>
<ellipse cx="1361.26" cy="327.40" rx="2.00" ry="1.40" stroke="#000" stroke-width="1.35" fill="none" transform="rotate(0 1361.26 327.40)"/>
<ellipse cx="1550.64" cy="327.40" rx="2.00" ry="1.40" stroke="#000" stroke-width="1.35" fill="none" transform="rotate(0 1550.64 327.40)"/>
<ellipse cx="1370.90" cy="327.40" rx="2.00" ry="1.40" stroke="#000" stroke-width="1.35" fill="none" transform="rotate(0 1370.90 327.40)"/>
<ellipse cx="1541.00" cy="327.40" rx="2.00" ry="1.40" stroke="#000" stroke-width="1.35" fill="none" transform="rotate(0 1541.00 327.40)"/>
<ellipse cx="1380.54" cy="327.40" rx="2.00" ry="1.40" stroke="#000" stroke-width="1.35" fill="none" transform="rotate(0 1380.54 327.40)"/>
<ellipse cx="1531.36" cy="327.40" rx="2.00" ry="1.40" stroke="#000" stroke-width="1.35" fill="none" transform="rotate(0 1531.36 327.40)"/>
<ellipse cx="1390.18" cy="327.40" rx="2.00" ry="1.40" stroke="#000" stroke-width="1.35" fill="none" transform="rotate(0 1390.18 327.40)"/>
<ellipse cx="1521.72" cy="327.40" rx="2.00" ry="1.40" stroke="#000" stroke-width="1.35" fill="none" transform="rotate(0 1521.72 327.40)"/>
<ellipse cx="1399.82" cy="327.40" rx="2.00" ry="1.40" stroke="#000" stroke-width="1.35" fill="none" transform="rotate(0 1399.82 327.40)"/>
<ellipse cx="1512.08" cy="327.40" rx="2.00" ry="1.40" stroke="#000" stroke-width="1.35" fill="none" transform="rotate(0 1512.08 327.40)"/>
<ellipse cx="1409.46" cy="327.40" rx="2.00" ry="1.40" stroke="#000" stroke-width="1.35" fill="none" transform="rotate(0 1409.46 327.40)"/>
<ellipse cx="1502.44" cy="327.40" rx="2.00" ry="1.40" stroke="#000" stroke-width="1.35" fill="none" transform="rotate(0 1502.44 327.40)"/>
<ellipse cx="1168.80" cy="323.60" rx="2.00" ry="1.40" stroke="#000" stroke-width="1.35" fill="none" transform="rotate(0 1168.80 323.60)"/>
<ellipse cx="1743.10" cy="323.60" rx="2.00" ry="1.40" stroke="#000" stroke-width="1.35" fill="none" transform="rotate(0 1743.10 323.60)"/>
<ellipse cx="1168.80" cy="331.70" rx="2.00" ry="1.40" stroke="#000" stroke-width="1.35" fill="none" transform="rotate(0 1168.80 331.70)"/>
<ellipse cx="1743.10" cy="331.70" rx="2.00" ry="1.40" stroke="#000" stroke-width="1.35" fill="none" transform="rotate(0 1743.10 331.70)"/>
<ellipse cx="1168.80" cy="339.80" rx="2.00" ry="1.40" stroke="#000" stroke-width="1.35" fill="none" transform="rotate(0 1168.80 339.80)"/>
<ellipse cx="1743.10" cy="339.80" rx="2.00" ry="1.40" stroke="#000" stroke-width="1.35" fill="none" transform="rotate(0 1743.10 339.80)"/>
<ellipse cx="1168.80" cy="347.90" rx="2.00" ry="1.40" stroke="#000" stroke-width="1.35" fill="none" transform="rotate(0 1168.80 347.90)"/>
<ellipse cx="1743.10" cy="347.90" rx="2.00" ry="1.40" stroke="#000" stroke-width="1.35" fill="none" transform="rotate(0 1743.10 347.90)"/>
<ellipse cx="1168.80" cy="356.00" rx="2.00" ry="1.40" stroke="#000" stroke-width="1.35" fill="none" transform="rotate(0 1168.80 356.00)"/>
<ellipse cx="1743.10" cy="356.00" rx="2.00" ry="1.40" stroke="#000" stroke-width="1.35" fill="none" transform="rotate(0 1743.10 356.00)"/>
<ellipse cx="1168.80" cy="364.10" rx="2.00" ry="1.40" stroke="#000" stroke-width="1.35" fill="none" transform="rotate(0 1168.80 364.10)"/>
<ellipse cx="1743.10" cy="364.10" rx="2.00" ry="1.40" stroke="#000" stroke-width="1.35" fill="none" transform="rotate(0 1743.10 364.10)"/>
<ellipse cx="1168.80" cy="372.20" rx="2.00" ry="1.40" stroke="#000" stroke-width="1.35" fill="none" transform="rotate(0 1168.80 372.20)"/>
<ellipse cx="1743.10" cy="372.20" rx="2.00" ry="1.40" stroke="#000" stroke-width="1.35" fill="none" transform="rotate(0 1743.10 372.20)"/>
<ellipse cx="1168.80" cy="380.30" rx="2.00" ry="1.40" stroke="#000" stroke-width="1.35" fill="none" transform="rotate(0 1168.80 380.30)"/>
<ellipse cx="1743.10" cy="380.30" rx="2.00" ry="1.40" stroke="#000" stroke-width="1.35" fill="none" transform="rotate(0 1743.10 380.30)"/>
<ellipse cx="1168.80" cy="388.40" rx="2.00" ry="1.40" stroke="#000" stroke-width="1.35" fill="none" transform="rotate(0 1168.80 388.40)"/>
<ellipse cx="1743.10" cy="388.40" rx="2.00" ry="1.40" stroke="#000" stroke-width="1.35" fill="none" transform="rotate(0 1743.10 388.40)"/>
<ellipse cx="1168.80" cy="396.50" rx="2.00" ry="1.40" stroke="#000" stroke-width="1.35" fill="none" transform="rotate(0 1168.80 396.50)"/>
<ellipse cx="1743.10" cy="396.50" rx="2.00" ry="1.40" stroke="#000" stroke-width="1.35" fill="none" transform="rotate(0 1743.10 396.50)"/>
<ellipse cx="1168.80" cy="404.60" rx="2.00" ry="1.40" stroke="#000" stroke-width="1.35" fill="none" transform="rotate(0 1168.80 404.60)"/>
<ellipse cx="1743.10" cy="404.60" rx="2.00" ry="1.40" stroke="#000" stroke-width="1.35" fill="none" transform="rotate(0 1743.10 404.60)"/>
<ellipse cx="1168.80" cy="412.70" rx="2.00" ry="1.40" stroke="#000" stroke-width="1.35" fill="none" transform="rotate(0 1168.80 412.70)"/>
<ellipse cx="1743.10" cy="412.70" rx="2.00" ry="1.40" stroke="#000" stroke-width="1.35" fill="none" transform="rotate(0 1743.10 412.70)"/>
<ellipse cx="1168.80" cy="420.80" rx="2.00" ry="1.40" stroke="#000" stroke-width="1.35" fill="none" transform="rotate(0 1168.80 420.80)"/>
<ellipse cx="1743.10" cy="420.80" rx="2.00" ry="1.40" stroke="#000" stroke-width="1.35" fill="none" transform="rotate(0 1743.10 420.80)"/>
<ellipse cx="1168.80" cy="428.90" rx="2.00" ry="1.40" stroke="#000" stroke-width="1.35" fill="none" transform="rotate(0 1168.80 428.90)"/>
<ellipse cx="1743.10" cy="428.90" rx="2.00" ry="1.40" stroke="#000" stroke-width="1.35" fill="none" transform="rotate(0 1743.10 428.90)"/>
<ellipse cx="1168.80" cy="437.00" rx="2.00" ry="1.40" stroke="#000" stroke-width="1.35" fill="none" transform="rotate(0 1168.80 437.00)"/>
<ellipse cx="1743.10" cy="437.00" rx="2.00" ry="1.40" stroke="#000" stroke-width="1.35" fill="none" transform="rotate(0 1743.10 437.00)"/>
<ellipse cx="1168.80" cy="445.10" rx="2.00" ry="1.40" stroke="#000" stroke-width="1.35" fill="none" transform="rotate(0 1168.80 445.10)"/>
<ellipse cx="1743.10" cy="445.10" rx="2.00" ry="1.40" stroke="#000" stroke-width="1.35" fill="none" transform="rotate(0 1743.10 445.10)"/>
<ellipse cx="1174.07" cy="327.90" rx="2.00" ry="1.40" stroke="#000" stroke-width="1.35" fill="none" transform="rotate(0 1174.07 327.90)"/>
<ellipse cx="1737.83" cy="327.90" rx="2.00" ry="1.40" stroke="#000" stroke-width="1.35" fill="none" transform="rotate(0 1737.83 327.90)"/>
<ellipse cx="1174.07" cy="336.00" rx="2.00" ry="1.40" stroke="#000" stroke-width="1.35" fill="none" transform="rotate(0 1174.07 336.00)"/>
<ellipse cx="1737.83" cy="336.00" rx="2.00" ry="1.40" stroke="#000" stroke-width="1.35" fill="none" transform="rotate(0 1737.83 336.00)"/>
<ellipse cx="1174.07" cy="344.10" rx="2.00" ry="1.40" stroke="#000" stroke-width="1.35" fill="none" transform="rotate(0 1174.07 344.10)"/>
<ellipse cx="1737.83" cy="344.10" rx="2.00" ry="1.40" stroke="#000" stroke-width="1.35" fill="none" transform="rotate(0 1737.83 344.10)"/>
<ellipse cx="1174.07" cy="352.20" rx="2.00" ry="1.40" stroke="#000" stroke-width="1.35" fill="none" transform="rotate(0 1174.07 352.20)"/>
<ellipse cx="1737.83" cy="352.20" rx="2.00" ry="1.40" stroke="#000" stroke-width="1.35" fill="none" transform="rotate(0 1737.83 352.20)"/>
<ellipse cx="1174.07" cy="360.30" rx="2.00" ry="1.40" stroke="#000" stroke-width="1.35" fill="none" transform="rotate(0 1174.07 360.30)"/>
<ellipse cx="1737.83" cy="360.30" rx="2.00" ry="1.40" stroke="#000" stroke-width="1.35" fill="none" transform="rotate(0 1737.83 360.30)"/>
<ellipse cx="1174.07" cy="368.40" rx="2.00" ry="1.40" stroke="#000" stroke-width="1.35" fill="none" transform="rotate(0 1174.07 368.40)"/>
<ellipse cx="1737.83" cy="368.40" rx="2.00" ry="1.40" stroke="#000" stroke-width="1.35" fill="none" transform="rotate(0 1737.83 368.40)"/>
<ellipse cx="1174.07" cy="376.50" rx="2.00" ry="1.40" stroke="#000" stroke-width="1.35" fill="none" transform="rotate(0 1174.07 376.50)"/>
<ellipse cx="1737.83" cy="376.50" rx="2.00" ry="1.40" stroke="#000" stroke-width="1.35" fill="none" transform="rotate(0 1737.83 376.50)"/>
<ellipse cx="1174.07" cy="384.60" rx="2.00" ry="1.40" stroke="#000" stroke-width="1.35" fill="none" transform="rotate(0 1174.07 384.60)"/>
<ellipse cx="1737.83" cy="384.60" rx="2.00" ry="1.40" stroke="#000" stroke-width="1.35" fill="none" transform="rotate(0 1737.83 384.60)"/>
<ellipse cx="1174.07" cy="392.70" rx="2.00" ry="1.40" stroke="#000" stroke-width="1.35" fill="none" transform="rotate(0 1174.07 392.70)"/>
<ellipse cx="1737.83" cy="392.70" rx="2.00" ry="1.40" stroke="#000" stroke-width="1.35" fill="none" transform="rotate(0 1737.83 392.70)"/>
<ellipse cx="1174.07" cy="400.80" rx="2.00" ry="1.40" stroke="#000" stroke-width="1.35" fill="none" transform="rotate(0 1174.07 400.80)"/>
<ellipse cx="1737.83" cy="400.80" rx="2.00" ry="1.40" stroke="#000" stroke-width="1.35" fill="none" transform="rotate(0 1737.83 400.80)"/>
<ellipse cx="1174.07" cy="408.90" rx="2.00" ry="1.40" stroke="#000" stroke-width="1.35" fill="none" transform="rotate(0 1174.07 408.90)"/>
<ellipse cx="1737.83" cy="408.90" rx="2.00" ry="1.40" stroke="#000" stroke-width="1.35" fill="none" transform="rotate(0 1737.83 408.90)"/>
<ellipse cx="1174.07" cy="417.00" rx="2.00" ry="1.40" stroke="#000" stroke-width="1.35" fill="none" transform="rotate(0 1174.07 417.00)"/>
<ellipse cx="1737.83" cy="417.00" rx="2.00" ry="1.40" stroke="#000" stroke-width="1.35" fill="none" transform="rotate(0 1737.83 417.00)"/>
<ellipse cx="1174.07" cy="425.10" rx="2.00" ry="1.40" stroke="#000" stroke-width="1.35" fill="none" transform="rotate(0 1174.07 425.10)"/>
<ellipse cx="1737.83" cy="425.10" rx="2.00" ry="1.40" stroke="#000" stroke-width="1.35" fill="none" transform="rotate(0 1737.83 425.10)"/>
<ellipse cx="1174.07" cy="433.20" rx="2.00" ry="1.40" stroke="#000" stroke-width="1.35" fill="none" transform="rotate(0 1174.07 433.20)"/>
<ellipse cx="1737.83" cy="433.20" rx="2.00" ry="1.40" stroke="#000" stroke-width="1.35" fill="none" transform="rotate(0 1737.83 433.20)"/>
<ellipse cx="1174.07" cy="441.30" rx="2.00" ry="1.40" stroke="#000" stroke-width="1.35" fill="none" transform="rotate(0 1174.07 441.30)"/>
<ellipse cx="1737.83" cy="441.30" rx="2.00" ry="1.40" stroke="#000" stroke-width="1.35" fill="none" transform="rotate(0 1737.83 441.30)"/>
<ellipse cx="1174.07" cy="449.40" rx="2.00" ry="1.40" stroke="#000" stroke-width="1.35" fill="none" transform="rotate(0 1174.07 449.40)"/>
<ellipse cx="1737.83" cy="449.40" rx="2.00" ry="1.40" stroke="#000" stroke-width="1.35" fill="none" transform="rotate(0 1737.83 449.40)"/>
<ellipse cx="1179.34" cy="332.20" rx="2.00" ry="1.40" stroke="#000" stroke-width="1.35" fill="none" transform="rotate(0 1179.34 332.20)"/>
<ellipse cx="1732.56" cy="332.20" rx="2.00" ry="1.40" stroke="#000" stroke-width="1.35" fill="none" transform="rotate(0 1732.56 332.20)"/>
<ellipse cx="1179.34" cy="340.30" rx="2.00" ry="1.40" stroke="#000" stroke-width="1.35" fill="none" transform="rotate(0 1179.34 340.30)"/>
<ellipse cx="1732.56" cy="340.30" rx="2.00" ry="1.40" stroke="#000" stroke-width="1.35" fill="none" transform="rotate(0 1732.56 340.30)"/>
<ellipse cx="1179.34" cy="348.40" rx="2.00" ry="1.40" stroke="#000" stroke-width="1.35" fill="none" transform="rotate(0 1179.34 348.40)"/>
<ellipse cx="1732.56" cy="348.40" rx="2.00" ry="1.40" stroke="#000" stroke-width="1.35" fill="none" transform="rotate(0 1732.56 348.40)"/>
<ellipse cx="1179.34" cy="356.50" rx="2.00" ry="1.40" stroke="#000" stroke-width="1.35" fill="none" transform="rotate(0 1179.34 356.50)"/>
<ellipse cx="1732.56" cy="356.50" rx="2.00" ry="1.40" stroke="#000" stroke-width="1.35" fill="none" transform="rotate(0 1732.56 356.50)"/>
<ellipse cx="1179.34" cy="364.60" rx="2.00" ry="1.40" stroke="#000" stroke-width="1.35" fill="none" transform="rotate(0 1179.34 364.60)"/>
<ellipse cx="1732.56" cy="364.60" rx="2.00" ry="1.40" stroke="#000" stroke-width="1.35" fill="none" transform="rotate(0 1732.56 364.60)"/>
<ellipse cx="1179.34" cy="372.70" rx="2.00" ry="1.40" stroke="#000" stroke-width="1.35" fill="none" transform="rotate(0 1179.34 372.70)"/>
<ellipse cx="1732.56" cy="372.70" rx="2.00" ry="1.40" stroke="#000" stroke-width="1.35" fill="none" transform="rotate(0 1732.56 372.70)"/>
<ellipse cx="1179.34" cy="380.80" rx="2.00" ry="1.40" stroke="#000" stroke-width="1.35" fill="none" transform="rotate(0 1179.34 380.80)"/>
<ellipse cx="1732.56" cy="380.80" rx="2.00" ry="1.40" stroke="#000" stroke-width="1.35" fill="none" transform="rotate(0 1732.56 380.80)"/>
<ellipse cx="1179.34" cy="388.90" rx="2.00" ry="1.40" stroke="#000" stroke-width="1.35" fill="none" transform="rotate(0 1179.34 388.90)"/>
<ellipse cx="1732.56" cy="388.90" rx="2.00" ry="1.40" stroke="#000" stroke-width="1.35" fill="none" transform="rotate(0 1732.56 388.90)"/>
<ellipse cx="1179.34" cy="397.00" rx="2.00" ry="1.40" stroke="#000" stroke-width="1.35" fill="none" transform="rotate(0 1179.34 397.00)"/>
<ellipse cx="1732.56" cy="397.00" rx="2.00" ry="1.40" stroke="#000" stroke-width="1.35" fill="none" transform="rotate(0 1732.56 397.00)"/>
<ellipse cx="1179.34" cy="405.10" rx="2.00" ry="1.40" stroke="#000" stroke-width="1.35" fill="none" transform="rotate(0 1179.34 405.10)"/>
<ellipse cx="1732.56" cy="405.10" rx="2.00" ry="1.40" stroke="#000" stroke-width="1.35" fill="none" transform="rotate(0 1732.56 405.10)"/>
<ellipse cx="1179.34" cy="413.20" rx="2.00" ry="1.40" stroke="#000" stroke-width="1.35" fill="none" transform="rotate(0 1179.34 413.20)"/>
<ellipse cx="1732.56" cy="413.20" rx="2.00" ry="1.40" stroke="#000" stroke-width="1.35" fill="none" transform="rotate(0 1732.56 413.20)"/>
<ellipse cx="1179.34" cy="421.30" rx="2.00" ry="1.40" stroke="#000" stroke-width="1.35" fill="none" transform="rotate(0 1179.34 421.30)"/>
<ellipse cx="1732.56" cy="421.30" rx="2.00" ry="1.40" stroke="#000" stroke-width="1.35" fill="none" transform="rotate(0 1732.56 421.30)"/>
<ellipse cx="1179.34" cy="429.40" rx="2.00" ry="1.40" stroke="#000" stroke-width="1.35" fill="none" transform="rotate(0 1179.34 429.40)"/>
<ellipse cx="1732.56" cy="429.40" rx="2.00" ry="1.40" stroke="#000" stroke-width="1.35" fill="none" transform="rotate(0 1732.56 429.40)"/>
<ellipse cx="1179.34" cy="437.50" rx="2.00" ry="1.40" stroke="#000" stroke-width="1.35" fill="none" transform="rotate(0 1179.34 437.50)"/>
<ellipse cx="1732.56" cy="437.50" rx="2.00" ry="1.40" stroke="#000" stroke-width="1.35" fill="none" transform="rotate(0 1732.56 437.50)"/>
<ellipse cx="1179.34" cy="445.60" rx="2.00" ry="1.40" stroke="#000" stroke-width="1.35" fill="none" transform="rotate(0 1179.34 445.60)"/>
<ellipse cx="1732.56" cy="445.60" rx="2.00" ry="1.40" stroke="#000" stroke-width="1.35" fill="none" transform="rotate(0 1732.56 445.60)"/>
<ellipse cx="1179.34" cy="453.70" rx="2.00" ry="1.40" stroke="#000" stroke-width="1.35" fill="none" transform="rotate(0 1179.34 453.70)"/>
<ellipse cx="1732.56" cy="453.70" rx="2.00" ry="1.40" stroke="#000" stroke-width="1.35" fill="none" transform="rotate(0 1732.56 453.70)"/>
<ellipse cx="1184.61" cy="336.50" rx="2.00" ry="1.40" stroke="#000" stroke-width="1.35" fill="none" transform="rotate(0 1184.61 336.50)"/>
<ellipse cx="1727.29" cy="336.50" rx="2.00" ry="1.40" stroke="#000" stroke-width="1.35" fill="none" transform="rotate(0 1727.29 336.50)"/>
<ellipse cx="1184.61" cy="344.60" rx="2.00" ry="1.40" stroke="#000" stroke-width="1.35" fill="none" transform="rotate(0 1184.61 344.60)"/>
<ellipse cx="1727.29" cy="344.60" rx="2.00" ry="1.40" stroke="#000" stroke-width="1.35" fill="none" transform="rotate(0 1727.29 344.60)"/>
<ellipse cx="1184.61" cy="352.70" rx="2.00" ry="1.40" stroke="#000" stroke-width="1.35" fill="none" transform="rotate(0 1184.61 352.70)"/>
<ellipse cx="1727.29" cy="352.70" rx="2.00" ry="1.40" stroke="#000" stroke-width="1.35" fill="none" transform="rotate(0 1727.29 352.70)"/>
<ellipse cx="1184.61" cy="360.80" rx="2.00" ry="1.40" stroke="#000" stroke-width="1.35" fill="none" transform="rotate(0 1184.61 360.80)"/>
<ellipse cx="1727.29" cy="360.80" rx="2.00" ry="1.40" stroke="#000" stroke-width="1.35" fill="none" transform="rotate(0 1727.29 360.80)"/>
<ellipse cx="1184.61" cy="368.90" rx="2.00" ry="1.40" stroke="#000" stroke-width="1.35" fill="none" transform="rotate(0 1184.61 368.90)"/>
<ellipse cx="1727.29" cy="368.90" rx="2.00" ry="1.40" stroke="#000" stroke-width="1.35" fill="none" transform="rotate(0 1727.29 368.90)"/>
<ellipse cx="1184.61" cy="377.00" rx="2.00" ry="1.40" stroke="#000" stroke-width="1.35" fill="none" transform="rotate(0 1184.61 377.00)"/>
<ellipse cx="1727.29" cy="377.00" rx="2.00" ry="1.40" stroke="#000" stroke-width="1.35" fill="none" transform="rotate(0 1727.29 377.00)"/>
<ellipse cx="1184.61" cy="385.10" rx="2.00" ry="1.40" stroke="#000" stroke-width="1.35" fill="none" transform="rotate(0 1184.61 385.10)"/>
<ellipse cx="1727.29" cy="385.10" rx="2.00" ry="1.40" stroke="#000" stroke-width="1.35" fill="none" transform="rotate(0 1727.29 385.10)"/>
<ellipse cx="1184.61" cy="393.20" rx="2.00" ry="1.40" stroke="#000" stroke-width="1.35" fill="none" transform="rotate(0 1184.61 393.20)"/>
<ellipse cx="1727.29" cy="393.20" rx="2.00" ry="1.40" stroke="#000" stroke-width="1.35" fill="none" transform="rotate(0 1727.29 393.20)"/>
<ellipse cx="1184.61" cy="401.30" rx="2.00" ry="1.40" stroke="#000" stroke-width="1.35" fill="none" transform="rotate(0 1184.61 401.30)"/>
<ellipse cx="1727.29" cy="401.30" rx="2.00" ry="1.40" stroke="#000" stroke-width="1.35" fill="none" transform="rotate(0 1727.29 401.30)"/>
<ellipse cx="1184.61" cy="409.40" rx="2.00" ry="1.40" stroke="#000" stroke-width="1.35" fill="none" transform="rotate(0 1184.61 409.40)"/>
<ellipse cx="1727.29" cy="409.40" rx="2.00" ry="1.40" stroke="#000" stroke-width="1.35" fill="none" transform="rotate(0 1727.29 409.40)"/>
<ellipse cx="1184.61" cy="417.50" rx="2.00" ry="1.40" stroke="#000" stroke-width="1.35" fill="none" transform="rotate(0 1184.61 417.50)"/>
<ellipse cx="1727.29" cy="417.50" rx="2.00" ry="1.40" stroke="#000" stroke-width="1.35" fill="none" transform="rotate(0 1727.29 417.50)"/>
<ellipse cx="1184.61" cy="425.60" rx="2.00" ry="1.40" stroke="#000" stroke-width="1.35" fill="none" transform="rotate(0 1184.61 425.60)"/>
<ellipse cx="1727.29" cy="425.60" rx="2.00" ry="1.40" stroke="#000" stroke-width="1.35" fill="none" transform="rotate(0 1727.29 425.60)"/>
<ellipse cx="1184.61" cy="433.70" rx="2.00" ry="1.40" stroke="#000" stroke-width="1.35" fill="none" transform="rotate(0 1184.61 433.70)"/>
<ellipse cx="1727.29" cy="433.70" rx="2.00" ry="1.40" stroke="#000" stroke-width="1.35" fill="none" transform="rotate(0 1727.29 433.70)"/>
<ellipse cx="1184.61" cy="441.80" rx="2.00" ry="1.40" stroke="#000" stroke-width="1.35" fill="none" transform="rotate(0 1184.61 441.80)"/>
<ellipse cx="1727.29" cy="441.80" rx="2.00" ry="1.40" stroke="#000" stroke-width="1.35" fill="none" transform="rotate(0 1727.29 441.80)"/>
<ellipse cx="1184.61" cy="449.90" rx="2.00" ry="1.40" stroke="#000" stroke-width="1.35" fill="none" transform="rotate(0 1184.61 449.90)"/>
<ellipse cx="1727.29" cy="449.90" rx="2.00" ry="1.40" stroke="#000" stroke-width="1.35" fill="none" transform="rotate(0 1727.29 449.90)"/>
<ellipse cx="1184.61" cy="458.00" rx="2.00" ry="1.40" stroke="#000" stroke-width="1.35" fill="none" transform="rotate(0 1184.61 458.00)"/>
<ellipse cx="1727.29" cy="458.00" rx="2.00" ry="1.40" stroke="#000" stroke-width="1.35" fill="none" transform="rotate(0 1727.29 458.00)"/>
<ellipse cx="1189.88" cy="340.80" rx="2.00" ry="1.40" stroke="#000" stroke-width="1.35" fill="none" transform="rotate(0 1189.88 340.80)"/>
<ellipse cx="1722.02" cy="340.80" rx="2.00" ry="1.40" stroke="#000" stroke-width="1.35" fill="none" transform="rotate(0 1722.02 340.80)"/>
<ellipse cx="1189.88" cy="348.90" rx="2.00" ry="1.40" stroke="#000" stroke-width="1.35" fill="none" transform="rotate(0 1189.88 348.90)"/>
<ellipse cx="1722.02" cy="348.90" rx="2.00" ry="1.40" stroke="#000" stroke-width="1.35" fill="none" transform="rotate(0 1722.02 348.90)"/>
<ellipse cx="1189.88" cy="357.00" rx="2.00" ry="1.40" stroke="#000" stroke-width="1.35" fill="none" transform="rotate(0 1189.88 357.00)"/>
<ellipse cx="1722.02" cy="357.00" rx="2.00" ry="1.40" stroke="#000" stroke-width="1.35" fill="none" transform="rotate(0 1722.02 357.00)"/>
<ellipse cx="1189.88" cy="365.10" rx="2.00" ry="1.40" stroke="#000" stroke-width="1.35" fill="none" transform="rotate(0 1189.88 365.10)"/>
<ellipse cx="1722.02" cy="365.10" rx="2.00" ry="1.40" stroke="#000" stroke-width="1.35" fill="none" transform="rotate(0 1722.02 365.10)"/>
<ellipse cx="1189.88" cy="373.20" rx="2.00" ry="1.40" stroke="#000" stroke-width="1.35" fill="none" transform="rotate(0 1189.88 373.20)"/>
<ellipse cx="1722.02" cy="373.20" rx="2.00" ry="1.40" stroke="#000" stroke-width="1.35" fill="none" transform="rotate(0 1722.02 373.20)"/>
<ellipse cx="1189.88" cy="381.30" rx="2.00" ry="1.40" stroke="#000" stroke-width="1.35" fill="none" transform="rotate(0 1189.88 381.30)"/>
<ellipse cx="1722.02" cy="381.30" rx="2.00" ry="1.40" stroke="#000" stroke-width="1.35" fill="none" transform="rotate(0 1722.02 381.30)"/>
<ellipse cx="1189.88" cy="389.40" rx="2.00" ry="1.40" stroke="#000" stroke-width="1.35" fill="none" transform="rotate(0 1189.88 389.40)"/>
<ellipse cx="1722.02" cy="389.40" rx="2.00" ry="1.40" stroke="#000" stroke-width="1.35" fill="none" transform="rotate(0 1722.02 389.40)"/>
<ellipse cx="1189.88" cy="397.50" rx="2.00" ry="1.40" stroke="#000" stroke-width="1.35" fill="none" transform="rotate(0 1189.88 397.50)"/>
<ellipse cx="1722.02" cy="397.50" rx="2.00" ry="1.40" stroke="#000" stroke-width="1.35" fill="none" transform="rotate(0 1722.02 397.50)"/>
<ellipse cx="1189.88" cy="405.60" rx="2.00" ry="1.40" stroke="#000" stroke-width="1.35" fill="none" transform="rotate(0 1189.88 405.60)"/>
<ellipse cx="1722.02" cy="405.60" rx="2.00" ry="1.40" stroke="#000" stroke-width="1.35" fill="none" transform="rotate(0 1722.02 405.60)"/>
<ellipse cx="1189.88" cy="413.70" rx="2.00" ry="1.40" stroke="#000" stroke-width="1.35" fill="none" transform="rotate(0 1189.88 413.70)"/>
<ellipse cx="1722.02" cy="413.70" rx="2.00" ry="1.40" stroke="#000" stroke-width="1.35" fill="none" transform="rotate(0 1722.02 413.70)"/>
<ellipse cx="1189.88" cy="421.80" rx="2.00" ry="1.40" stroke="#000" stroke-width="1.35" fill="none" transform="rotate(0 1189.88 421.80)"/>
<ellipse cx="1722.02" cy="421.80" rx="2.00" ry="1.40" stroke="#000" stroke-width="1.35" fill="none" transform="rotate(0 1722.02 421.80)"/>
<ellipse cx="1189.88" cy="429.90" rx="2.00" ry="1.40" stroke="#000" stroke-width="1.35" fill="none" transform="rotate(0 1189.88 429.90)"/>
<ellipse cx="1722.02" cy="429.90" rx="2.00" ry="1.40" stroke="#000" stroke-width="1.35" fill="none" transform="rotate(0 1722.02 429.90)"/>
<ellipse cx="1189.88" cy="438.00" rx="2.00" ry="1.40" stroke="#000" stroke-width="1.35" fill="none" transform="rotate(0 1189.88 438.00)"/>
<ellipse cx="1722.02" cy="438.00" rx="2.00" ry="1.40" stroke="#000" stroke-width="1.35" fill="none" transform="rotate(0 1722.02 438.00)"/>
<ellipse cx="1189.88" cy="446.10" rx="2.00" ry="1.40" stroke="#000" stroke-width="1.35" fill="none" transform="rotate(0 1189.88 446.10)"/>
<ellipse cx="1722.02" cy="446.10" rx="2.00" ry="1.40" stroke="#000" stroke-width="1.35" fill="none" transform="rotate(0 1722.02 446.10)"/>
<ellipse cx="1189.88" cy="454.20" rx="2.00" ry="1.40" stroke="#000" stroke-width="1.35" fill="none" transform="rotate(0 1189.88 454.20)"/>
<ellipse cx="1722.02" cy="454.20" rx="2.00" ry="1.40" stroke="#000" stroke-width="1.35" fill="none" transform="rotate(0 1722.02 454.20)"/>
<ellipse cx="1189.88" cy="462.30" rx="2.00" ry="1.40" stroke="#000" stroke-width="1.35" fill="none" transform="rotate(0 1189.88 462.30)"/>
<ellipse cx="1722.02" cy="462.30" rx="2.00" ry="1.40" stroke="#000" stroke-width="1.35" fill="none" transform="rotate(0 1722.02 462.30)"/>
<ellipse cx="1195.15" cy="345.10" rx="2.00" ry="1.40" stroke="#000" stroke-width="1.35" fill="none" transform="rotate(0 1195.15 345.10)"/>
<ellipse cx="1716.75" cy="345.10" rx="2.00" ry="1.40" stroke="#000" stroke-width="1.35" fill="none" transform="rotate(0 1716.75 345.10)"/>
<ellipse cx="1195.15" cy="353.20" rx="2.00" ry="1.40" stroke="#000" stroke-width="1.35" fill="none" transform="rotate(0 1195.15 353.20)"/>
<ellipse cx="1716.75" cy="353.20" rx="2.00" ry="1.40" stroke="#000" stroke-width="1.35" fill="none" transform="rotate(0 1716.75 353.20)"/>
<ellipse cx="1195.15" cy="361.30" rx="2.00" ry="1.40" stroke="#000" stroke-width="1.35" fill="none" transform="rotate(0 1195.15 361.30)"/>
<ellipse cx="1716.75" cy="361.30" rx="2.00" ry="1.40" stroke="#000" stroke-width="1.35" fill="none" transform="rotate(0 1716.75 361.30)"/>
<ellipse cx="1195.15" cy="369.40" rx="2.00" ry="1.40" stroke="#000" stroke-width="1.35" fill="none" transform="rotate(0 1195.15 369.40)"/>
<ellipse cx="1716.75" cy="369.40" rx="2.00" ry="1.40" stroke="#000" stroke-width="1.35" fill="none" transform="rotate(0 1716.75 369.40)"/>
<ellipse cx="1195.15" cy="377.50" rx="2.00" ry="1.40" stroke="#000" stroke-width="1.35" fill="none" transform="rotate(0 1195.15 377.50)"/>
<ellipse cx="1716.75" cy="377.50" rx="2.00" ry="1.40" stroke="#000" stroke-width="1.35" fill="none" transform="rotate(0 1716.75 377.50)"/>
<ellipse cx="1195.15" cy="385.60" rx="2.00" ry="1.40" stroke="#000" stroke-width="1.35" fill="none" transform="rotate(0 1195.15 385.60)"/>
<ellipse cx="1716.75" cy="385.60" rx="2.00" ry="1.40" stroke="#000" stroke-width="1.35" fill="none" transform="rotate(0 1716.75 385.60)"/>
<ellipse cx="1195.15" cy="393.70" rx="2.00" ry="1.40" stroke="#000" stroke-width="1.35" fill="none" transform="rotate(0 1195.15 393.70)"/>
<ellipse cx="1716.75" cy="393.70" rx="2.00" ry="1.40" stroke="#000" stroke-width="1.35" fill="none" transform="rotate(0 1716.75 393.70)"/>
<ellipse cx="1195.15" cy="401.80" rx="2.00" ry="1.40" stroke="#000" stroke-width="1.35" fill="none" transform="rotate(0 1195.15 401.80)"/>
<ellipse cx="1716.75" cy="401.80" rx="2.00" ry="1.40" stroke="#000" stroke-width="1.35" fill="none" transform="rotate(0 1716.75 401.80)"/>
<ellipse cx="1195.15" cy="409.90" rx="2.00" ry="1.40" stroke="#000" stroke-width="1.35" fill="none" transform="rotate(0 1195.15 409.90)"/>
<ellipse cx="1716.75" cy="409.90" rx="2.00" ry="1.40" stroke="#000" stroke-width="1.35" fill="none" transform="rotate(0 1716.75 409.90)"/>
<ellipse cx="1195.15" cy="418.00" rx="2.00" ry="1.40" stroke="#000" stroke-width="1.35" fill="none" transform="rotate(0 1195.15 418.00)"/>
<ellipse cx="1716.75" cy="418.00" rx="2.00" ry="1.40" stroke="#000" stroke-width="1.35" fill="none" transform="rotate(0 1716.75 418.00)"/>
<ellipse cx="1195.15" cy="426.10" rx="2.00" ry="1.40" stroke="#000" stroke-width="1.35" fill="none" transform="rotate(0 1195.15 426.10)"/>
<ellipse cx="1716.75" cy="426.10" rx="2.00" ry="1.40" stroke="#000" stroke-width="1.35" fill="none" transform="rotate(0 1716.75 426.10)"/>
<ellipse cx="1195.15" cy="434.20" rx="2.00" ry="1.40" stroke="#000" stroke-width="1.35" fill="none" transform="rotate(0 1195.15 434.20)"/>
<ellipse cx="1716.75" cy="434.20" rx="2.00" ry="1.40" stroke="#000" stroke-width="1.35" fill="none" transform="rotate(0 1716.75 434.20)"/>
<ellipse cx="1195.15" cy="442.30" rx="2.00" ry="1.40" stroke="#000" stroke-width="1.35" fill="none" transform="rotate(0 1195.15 442.30)"/>
<ellipse cx="1716.75" cy="442.30" rx="2.00" ry="1.40" stroke="#000" stroke-width="1.35" fill="none" transform="rotate(0 1716.75 442.30)"/>
<ellipse cx="1195.15" cy="450.40" rx="2.00" ry="1.40" stroke="#000" stroke-width="1.35" fill="none" transform="rotate(0 1195.15 450.40)"/>
<ellipse cx="1716.75" cy="450.40" rx="2.00" ry="1.40" stroke="#000" stroke-width="1.35" fill="none" transform="rotate(0 1716.75 450.40)"/>
<ellipse cx="1195.15" cy="458.50" rx="2.00" ry="1.40" stroke="#000" stroke-width="1.35" fill="none" transform="rotate(0 1195.15 458.50)"/>
<ellipse cx="1716.75" cy="458.50" rx="2.00" ry="1.40" stroke="#000" stroke-width="1.35" fill="none" transform="rotate(0 1716.75 458.50)"/>
<ellipse cx="1195.15" cy="466.60" rx="2.00" ry="1.40" stroke="#000" stroke-width="1.35" fill="none" transform="rotate(0 1195.15 466.60)"/>
<ellipse cx="1716.75" cy="466.60" rx="2.00" ry="1.40" stroke="#000" stroke-width="1.35" fill="none" transform="rotate(0 1716.75 466.60)"/>
<ellipse cx="1200.42" cy="349.40" rx="2.00" ry="1.40" stroke="#000" stroke-width="1.35" fill="none" transform="rotate(0 1200.42 349.40)"/>
<ellipse cx="1711.48" cy="349.40" rx="2.00" ry="1.40" stroke="#000" stroke-width="1.35" fill="none" transform="rotate(0 1711.48 349.40)"/>
<ellipse cx="1200.42" cy="357.50" rx="2.00" ry="1.40" stroke="#000" stroke-width="1.35" fill="none" transform="rotate(0 1200.42 357.50)"/>
<ellipse cx="1711.48" cy="357.50" rx="2.00" ry="1.40" stroke="#000" stroke-width="1.35" fill="none" transform="rotate(0 1711.48 357.50)"/>
<ellipse cx="1200.42" cy="365.60" rx="2.00" ry="1.40" stroke="#000" stroke-width="1.35" fill="none" transform="rotate(0 1200.42 365.60)"/>
<ellipse cx="1711.48" cy="365.60" rx="2.00" ry="1.40" stroke="#000" stroke-width="1.35" fill="none" transform="rotate(0 1711.48 365.60)"/>
<ellipse cx="1200.42" cy="373.70" rx="2.00" ry="1.40" stroke="#000" stroke-width="1.35" fill="none" transform="rotate(0 1200.42 373.70)"/>
<ellipse cx="1711.48" cy="373.70" rx="2.00" ry="1.40" stroke="#000" stroke-width="1.35" fill="none" transform="rotate(0 1711.48 373.70)"/>
<ellipse cx="1200.42" cy="381.80" rx="2.00" ry="1.40" stroke="#000" stroke-width="1.35" fill="none" transform="rotate(0 1200.42 381.80)"/>
<ellipse cx="1711.48" cy="381.80" rx="2.00" ry="1.40" stroke="#000" stroke-width="1.35" fill="none" transform="rotate(0 1711.48 381.80)"/>
<ellipse cx="1200.42" cy="389.90" rx="2.00" ry="1.40" stroke="#000" stroke-width="1.35" fill="none" transform="rotate(0 1200.42 389.90)"/>
<ellipse cx="1711.48" cy="389.90" rx="2.00" ry="1.40" stroke="#000" stroke-width="1.35" fill="none" transform="rotate(0 1711.48 389.90)"/>
<ellipse cx="1200.42" cy="398.00" rx="2.00" ry="1.40" stroke="#000" stroke-width="1.35" fill="none" transform="rotate(0 1200.42 398.00)"/>
<ellipse cx="1711.48" cy="398.00" rx="2.00" ry="1.40" stroke="#000" stroke-width="1.35" fill="none" transform="rotate(0 1711.48 398.00)"/>
<ellipse cx="1200.42" cy="406.10" rx="2.00" ry="1.40" stroke="#000" stroke-width="1.35" fill="none" transform="rotate(0 1200.42 406.10)"/>
<ellipse cx="1711.48" cy="406.10" rx="2.00" ry="1.40" stroke="#000" stroke-width="1.35" fill="none" transform="rotate(0 1711.48 406.10)"/>
<ellipse cx="1200.42" cy="414.20" rx="2.00" ry="1.40" stroke="#000" stroke-width="1.35" fill="none" transform="rotate(0 1200.42 414.20)"/>
<ellipse cx="1711.48" cy="414.20" rx="2.00" ry="1.40" stroke="#000" stroke-width="1.35" fill="none" transform="rotate(0 1711.48 414.20)"/>
<ellipse cx="1200.42" cy="422.30" rx="2.00" ry="1.40" stroke="#000" stroke-width="1.35" fill="none" transform="rotate(0 1200.42 422.30)"/>
<ellipse cx="1711.48" cy="422.30" rx="2.00" ry="1.40" stroke="#000" stroke-width="1.35" fill="none" transform="rotate(0 1711.48 422.30)"/>
<ellipse cx="1200.42" cy="430.40" rx="2.00" ry="1.40" stroke="#000" stroke-width="1.35" fill="none" transform="rotate(0 1200.42 430.40)"/>
<ellipse cx="1711.48" cy="430.40" rx="2.00" ry="1.40" stroke="#000" stroke-width="1.35" fill="none" transform="rotate(0 1711.48 430.40)"/>
<ellipse cx="1200.42" cy="438.50" rx="2.00" ry="1.40" stroke="#000" stroke-width="1.35" fill="none" transform="rotate(0 1200.42 438.50)"/>
<ellipse cx="1711.48" cy="438.50" rx="2.00" ry="1.40" stroke="#000" stroke-width="1.35" fill="none" transform="rotate(0 1711.48 438.50)"/>
<ellipse cx="1200.42" cy="446.60" rx="2.00" ry="1.40" stroke="#000" stroke-width="1.35" fill="none" transform="rotate(0 1200.42 446.60)"/>
<ellipse cx="1711.48" cy="446.60" rx="2.00" ry="1.40" stroke="#000" stroke-width="1.35" fill="none" transform="rotate(0 1711.48 446.60)"/>
<ellipse cx="1200.42" cy="454.70" rx="2.00" ry="1.40" stroke="#000" stroke-width="1.35" fill="none" transform="rotate(0 1200.42 454.70)"/>
<ellipse cx="1711.48" cy="454.70" rx="2.00" ry="1.40" stroke="#000" stroke-width="1.35" fill="none" transform="rotate(0 1711.48 454.70)"/>
<ellipse cx="1200.42" cy="462.80" rx="2.00" ry="1.40" stroke="#000" stroke-width="1.35" fill="none" transform="rotate(0 1200.42 462.80)"/>
<ellipse cx="1711.48" cy="462.80" rx="2.00" ry="1.40" stroke="#000" stroke-width="1.35" fill="none" transform="rotate(0 1711.48 462.80)"/>
<ellipse cx="1200.42" cy="470.90" rx="2.00" ry="1.40" stroke="#000" stroke-width="1.35" fill="none" transform="rotate(0 1200.42 470.90)"/>
<ellipse cx="1711.48" cy="470.90" rx="2.00" ry="1.40" stroke="#000" stroke-width="1.35" fill="none" transform="rotate(0 1711.48 470.90)"/>
<circle cx="1167.90" cy="298.30" r="6.00" stroke="#000" stroke-width="1.2" fill="none"/>
<circle cx="1167.90" cy="298.30" r="4.08" stroke="#000" stroke-width="0.96" fill="none"/>
<circle cx="1167.90" cy="298.30" r="2.00" stroke="#000" stroke-width="1.2" fill="none"/>
<circle cx="1361.80" cy="298.30" r="6.00" stroke="#000" stroke-width="1.2" fill="none"/>
<circle cx="1361.80" cy="298.30" r="4.08" stroke="#000" stroke-width="0.96" fill="none"/>
<circle cx="1361.80" cy="298.30" r="2.00" stroke="#000" stroke-width="1.2" fill="none"/>
<circle cx="1550.10" cy="298.30" r="6.00" stroke="#000" stroke-width="1.2" fill="none"/>
<circle cx="1550.10" cy="298.30" r="4.08" stroke="#000" stroke-width="0.96" fill="none"/>
<circle cx="1550.10" cy="298.30" r="2.00" stroke="#000" stroke-width="1.2" fill="none"/>
<circle cx="1744.00" cy="298.30" r="6.00" stroke="#000" stroke-width="1.2" fill="none"/>
<circle cx="1744.00" cy="298.30" r="4.08" stroke="#000" stroke-width="0.96" fill="none"/>
<circle cx="1744.00" cy="298.30" r="2.00" stroke="#000" stroke-width="1.2" fill="none"/>
<circle cx="1168.20" cy="460.00" r="6.00" stroke="#000" stroke-width="1.2" fill="none"/>
<circle cx="1168.20" cy="460.00" r="4.08" stroke="#000" stroke-width="0.96" fill="none"/>
<circle cx="1168.20" cy="460.00" r="2.00" stroke="#000" stroke-width="1.2" fill="none"/>
<path d="M1333.9,541.6 L1333.9,352 Q1333.9,337.6 1348,337.6 L1564,337.6 Q1578,337.6 1578,352 L1578,541.6" stroke="#000" stroke-width="1.6" fill="none" />
<path d="M1337.5,535 L1337.5,353 Q1337.5,341 1349,341 L1563,341 Q1574.5,341 1574.5,353 L1574.5,535" stroke="#555" stroke-width="0.8" fill="none" />
<path d="M1337.5,530 Q1338,541 1350,541 L1490,541" stroke="#000" stroke-width="1.0" fill="none" />
<path d="M1574.5,530 Q1574,541 1562,541 L1525,541" stroke="#000" stroke-width="1.0" fill="none" />
<path d="M1384.5,337.6 L1384.5,345 L1387.5,345 L1387.5,337.6" stroke="#000" stroke-width="0.9" fill="none" />
<path d="M1402.5,337.6 L1402.5,345 L1405.5,345 L1405.5,337.6" stroke="#000" stroke-width="0.9" fill="none" />
<path d="M1505.5,337.6 L1505.5,345 L1508.5,345 L1508.5,337.6" stroke="#000" stroke-width="0.9" fill="none" />
<path d="M1523.5,337.6 L1523.5,345 L1526.5,345 L1526.5,337.6" stroke="#000" stroke-width="0.9" fill="none" />
<ellipse cx="1365.40" cy="364.20" rx="5.60" ry="4.40" stroke="#000" stroke-width="2.8" fill="none" transform="rotate(0 1365.40 364.20)"/>
<ellipse cx="1546.50" cy="364.20" rx="5.60" ry="4.40" stroke="#000" stroke-width="2.8" fill="none" transform="rotate(0 1546.50 364.20)"/>
<ellipse cx="1365.40" cy="515.30" rx="5.70" ry="4.80" stroke="#000" stroke-width="2.1" fill="none" transform="rotate(0 1365.40 515.30)"/>
<ellipse cx="1546.50" cy="515.30" rx="5.70" ry="4.80" stroke="#000" stroke-width="2.1" fill="none" transform="rotate(0 1546.50 515.30)"/>
<line x1="1364.50" y1="353.90" x2="1547.50" y2="353.90" stroke="#1e1eff" stroke-width="1.2" />
<line x1="1364.50" y1="351.00" x2="1364.50" y2="364.00" stroke="#1e1eff" stroke-width="1.2" />
<line x1="1547.50" y1="351.00" x2="1547.50" y2="364.00" stroke="#1e1eff" stroke-width="1.2" />
<path d="M1364.50,353.90 L1370.50,351.90 L1370.50,355.90 Z" fill="#1e1eff"/>
<path d="M1547.50,353.90 L1541.50,355.90 L1541.50,351.90 Z" fill="#1e1eff"/>
<text x="1444.11" y="353.77" font-size="15.218" fill="#0a0aff" textLength="48.23" lengthAdjust="spacingAndGlyphs" stroke="#0a0aff" stroke-width="0.2">75mm</text>
<line x1="1546.50" y1="364.20" x2="1570.00" y2="364.20" stroke="#e020e0" stroke-width="1.0" />
<line x1="1546.50" y1="515.30" x2="1570.00" y2="515.30" stroke="#1e1eff" stroke-width="1.0" />
<line x1="1567.60" y1="364.20" x2="1567.60" y2="515.30" stroke="#1e1eff" stroke-width="1.2" />
<path d="M1567.60,364.20 L1569.60,370.20 L1565.60,370.20 Z" fill="#1e1eff"/>
<path d="M1567.60,515.30 L1565.60,509.30 L1569.60,509.30 Z" fill="#1e1eff"/>
<text x="-0.73" y="0" transform="translate(1566.00 448.90) rotate(-90)" font-size="18.750" fill="#0a0aff" textLength="39.78" lengthAdjust="spacingAndGlyphs" stroke="#0a0aff" stroke-width="0.2">75mm</text>
<line x1="1349.00" y1="356.00" x2="1402.40" y2="381.90" stroke="#1e1eff" stroke-width="1.2" />
<path d="M1361.00,361.80 L1354.73,360.98 L1356.48,357.38 Z" fill="#1e1eff"/>
<path d="M1370.00,366.20 L1376.27,367.02 L1374.52,370.62 Z" fill="#1e1eff"/>
<text x="-0.46" y="0" transform="translate(1383.40 372.20) rotate(25.3)" font-size="15.117" fill="#0a0aff" textLength="20.82" lengthAdjust="spacingAndGlyphs" font-style="italic" stroke="#0a0aff" stroke-width="0.2">M4</text>
<path d="M1145,541.6 L1485.5,541.6 Q1490.3,541.6 1490.3,546.5 L1490.3,545.3 L1145,545.3 Z" stroke="#000" stroke-width="0" fill="#b8b8b8" />
<path d="M1145,541.6 L1485.5,541.6 Q1490.3,541.6 1490.3,546.5" stroke="#000" stroke-width="1.3" fill="none" />
<line x1="1145.00" y1="545.40" x2="1490.00" y2="545.40" stroke="#000" stroke-width="1.2" />
<path d="M1767,541.6 L1530.5,541.6 Q1525.6,541.6 1525.6,546.5 L1525.6,545.3 L1767,545.3 Z" stroke="#000" stroke-width="0" fill="#b8b8b8" />
<path d="M1767,541.6 L1530.5,541.6 Q1525.6,541.6 1525.6,546.5" stroke="#000" stroke-width="1.3" fill="none" />
<line x1="1526.00" y1="545.40" x2="1767.00" y2="545.40" stroke="#000" stroke-width="1.2" />
<rect x="1164.30" y="536.40" width="89.30" height="7.20" rx="0" stroke="#000" stroke-width="1.2" fill="none"/>
<line x1="1161.00" y1="546.00" x2="1161.00" y2="612.00" stroke="#000" stroke-width="1.2" />
<line x1="1163.60" y1="546.00" x2="1163.60" y2="612.00" stroke="#555" stroke-width="0.9" />
<path d="M1214.5,624.2 L1214.5,581 Q1214.5,577.2 1218.3,577.2 L1274.5,577.2 Q1278.2,577.2 1278.2,581 L1278.2,624.2" stroke="#888" stroke-width="3.6" fill="none" />
<path d="M1161,612 Q1161,624.2 1173,624.2 L1212.7,624.2 L1212.7,580 Q1212.7,575.5 1217,575.5 L1275.7,575.5 Q1280,575.5 1280,580 L1280,624.2 L1490,624.2" stroke="#000" stroke-width="1.5" fill="none" />
<path d="M1216.3,624.2 L1216.3,582 Q1216.3,579 1219.3,579 L1273.4,579 Q1276.4,579 1276.4,582 L1276.4,624.2" stroke="#000" stroke-width="1.2" fill="none" />
<line x1="1490.30" y1="545.00" x2="1490.30" y2="629.60" stroke="#000" stroke-width="2.0" />
<line x1="1525.50" y1="545.00" x2="1525.50" y2="629.60" stroke="#000" stroke-width="2.0" />
<line x1="1490.30" y1="629.60" x2="1525.50" y2="629.60" stroke="#000" stroke-width="1.5" />
<path d="M1524.9,624.2 L1738,624.2 Q1750.4,624.2 1750.4,612 L1750.4,546" stroke="#000" stroke-width="1.6" fill="none" />
<line x1="1753.00" y1="546.00" x2="1753.00" y2="612.00" stroke="#555" stroke-width="0.9" />
<line x1="1764.00" y1="546.00" x2="1764.00" y2="625.00" stroke="#444" stroke-width="0.9" />
<line x1="1144.50" y1="546.00" x2="1144.50" y2="625.00" stroke="#444" stroke-width="0.9" />
<rect x="1166.00" y="549.50" width="84.90" height="12.10" rx="0" stroke="#000" stroke-width="1.1" fill="none"/>
<path d="M1281.2,549.5 L1281.2,561.6 L1490,561.6 M1281.2,549.5 L1490,549.5" stroke="#000" stroke-width="1.1" fill="none" />
<rect x="1526.70" y="549.50" width="143.30" height="12.10" rx="0" stroke="#000" stroke-width="1.1" fill="none"/>
<text x="1303.78" y="558.48" font-size="7.011" fill="#000" textLength="30.74" lengthAdjust="spacingAndGlyphs" font-weight="bold" stroke="#000" stroke-width="0.8">SD Card</text>
<text x="1411.51" y="558.48" font-size="7.275" fill="#000" textLength="17.37" lengthAdjust="spacingAndGlyphs" font-weight="bold" stroke="#000" stroke-width="0.8">USB</text>
<text x="1444.27" y="558.48" font-size="7.011" fill="#000" textLength="39.32" lengthAdjust="spacingAndGlyphs" font-weight="bold" stroke="#000" stroke-width="0.8">Serial Port</text>
<text x="1570.86" y="558.48" font-size="7.384" fill="#000" textLength="16.48" lengthAdjust="spacingAndGlyphs" font-weight="bold" stroke="#000" stroke-width="0.8">LAN</text>
<text x="1611.87" y="558.48" font-size="7.275" fill="#000" textLength="17.22" lengthAdjust="spacingAndGlyphs" font-weight="bold" stroke="#000" stroke-width="0.8">OTG</text>
<text x="1647.45" y="558.48" font-size="7.275" fill="#000" textLength="11.87" lengthAdjust="spacingAndGlyphs" font-weight="bold" stroke="#000" stroke-width="0.8">DC</text>
<path d="M1297.6,553.6 L1292,553.6 L1292,558.2 L1297.6,558.2 M1295,553.6 L1295,558.2" stroke="#000" stroke-width="1.4" fill="none" />
<path d="M1373.8,558.2 L1374.2,556.5 Q1373.3,552.6 1377,552.6 Q1380.7,552.6 1379.8,556.5 L1380.2,558.2" stroke="#000" stroke-width="1.6" fill="none" />
<circle cx="1173.30" cy="617.50" r="5.20" stroke="#000" stroke-width="1.0" fill="none"/>
<circle cx="1173.30" cy="617.50" r="3.54" stroke="#000" stroke-width="0.8" fill="none"/>
<circle cx="1173.30" cy="617.50" r="1.90" stroke="#000" stroke-width="1.0" fill="none"/>
<circle cx="1361.80" cy="617.50" r="5.20" stroke="#000" stroke-width="1.0" fill="none"/>
<circle cx="1361.80" cy="617.50" r="3.54" stroke="#000" stroke-width="0.8" fill="none"/>
<circle cx="1361.80" cy="617.50" r="1.90" stroke="#000" stroke-width="1.0" fill="none"/>
<circle cx="1550.10" cy="617.50" r="5.20" stroke="#000" stroke-width="1.0" fill="none"/>
<circle cx="1550.10" cy="617.50" r="3.54" stroke="#000" stroke-width="0.8" fill="none"/>
<circle cx="1550.10" cy="617.50" r="1.90" stroke="#000" stroke-width="1.0" fill="none"/>
<circle cx="1738.70" cy="617.50" r="5.20" stroke="#000" stroke-width="1.0" fill="none"/>
<circle cx="1738.70" cy="617.50" r="3.54" stroke="#000" stroke-width="0.8" fill="none"/>
<circle cx="1738.70" cy="617.50" r="1.90" stroke="#000" stroke-width="1.0" fill="none"/>
<ellipse cx="1246.30" cy="611.40" rx="15.40" ry="12.30" stroke="#000" stroke-width="1.8" fill="none" transform="rotate(0 1246.30 611.40)"/>
<path d="M1243.2,608.6 A4.1,4.1 0 1 0 1249.4,608.6" stroke="#000" stroke-width="1.8" fill="none" />
<line x1="1246.30" y1="606.00" x2="1246.30" y2="611.60" stroke="#000" stroke-width="1.8" />
<line x1="1246.40" y1="621.00" x2="1246.40" y2="657.20" stroke="#1e1eff" stroke-width="1.6" />
<path d="M1246.40,621.50 L1248.80,627.50 L1244.00,627.50 Z" fill="#1e1eff"/>
<text x="1217.64" y="671.67" font-size="18.125" fill="#0a0aff" textLength="60.71" lengthAdjust="spacingAndGlyphs" stroke="#0a0aff" stroke-width="0.2">Power</text>
<line x1="197.00" y1="748.60" x2="822.50" y2="748.60" stroke="#000" stroke-width="2.0" stroke-linecap="round"/>
<line x1="197.50" y1="751.30" x2="822.00" y2="751.30" stroke="#111" stroke-width="1.6" />
<line x1="198.00" y1="756.30" x2="821.00" y2="756.30" stroke="#000" stroke-width="1.5" />
<line x1="198.00" y1="770.00" x2="820.50" y2="770.00" stroke="#000" stroke-width="1.5" />
<line x1="220.20" y1="749.00" x2="220.20" y2="770.00" stroke="#000" stroke-width="1.2" />
<line x1="799.00" y1="749.00" x2="799.00" y2="795.50" stroke="#000" stroke-width="1.2" />
<path d="M197,751 L197.5,770 L198,786 Q198.5,790 202,791.5 L258.3,803.2" stroke="#000" stroke-width="1.2" fill="none" />
<path d="M199.5,772 L200.5,785 Q201,788 204,789.5 L258,801" stroke="#000" stroke-width="0.8" fill="none" />
<path d="M822.5,751 L821.3,770 L820.8,786 Q820.3,789 817,790.5 L760,803.3" stroke="#000" stroke-width="1.2" fill="none" />
<path d="M819.5,772 L818.5,785 Q818,787.5 815,788.8 L760,801" stroke="#000" stroke-width="0.8" fill="none" />
<line x1="258.00" y1="803.80" x2="760.00" y2="803.80" stroke="#000" stroke-width="1.5" />
<rect x="301.00" y="771.40" width="21.80" height="12.60" rx="0" stroke="#000" stroke-width="1.3" fill="none"/>
<ellipse cx="314.20" cy="777.60" rx="5.60" ry="4.90" stroke="#000" stroke-width="1.2" fill="none" transform="rotate(0 314.20 777.60)"/>
<path d="M334.6,778.8 Q334.6,777.1 336.5,777.1 L354.4,777.1 Q356.3,777.1 356.3,778.8 L356.3,780.2 Q356.3,784.9 351.3,784.9 L339.6,784.9 Q334.6,784.9 334.6,780.2 Z" stroke="#000" stroke-width="0.6" fill="#000" />
<path d="M337.4,779.4 L353.5,779.4 L353.5,780.4 Q353.5,782.6 350.5,782.6 L340.4,782.6 Q337.4,782.6 337.4,780.4 Z" stroke="#fff" stroke-width="0.2" fill="#fff" />
<rect x="365.70" y="771.40" width="41.10" height="19.00" rx="0" stroke="#000" stroke-width="1.4" fill="none"/>
<path d="M370.5,771.4 L370.5,785.5 L379,785.5 L380.5,787.8 L392,787.8 L393.5,785.5 L401.8,785.5 L401.8,771.4" stroke="#000" stroke-width="1.0" fill="none" />
<circle cx="420.70" cy="779.60" r="1.70" stroke="#000" stroke-width="0.9" fill="none"/>
<rect x="386.30" y="799.50" width="55.00" height="4.30" rx="0" stroke="#000" stroke-width="1.0" fill="none"/>
<line x1="390.00" y1="800.00" x2="390.00" y2="803.80" stroke="#000" stroke-width="0.8" />
<path d="M440.6,803.8 L440.6,773.5 Q440.6,771.4 442.6,771.4 L472,771.4 Q474,771.4 474,773.5 L474,803.8" stroke="#000" stroke-width="1.3" fill="none" />
<circle cx="457.80" cy="782.60" r="8.90" stroke="#000" stroke-width="1.3" fill="none"/>
<circle cx="457.80" cy="782.60" r="7.60" stroke="#444" stroke-width="0.9" fill="none"/>
<circle cx="457.80" cy="782.60" r="5.00" stroke="#000" stroke-width="1.6" fill="none"/>
<rect x="484.70" y="774.10" width="33.80" height="13.20" rx="1.5" stroke="#000" stroke-width="1.3" fill="none"/>
<rect x="487.70" y="776.40" width="27.80" height="8.60" rx="0" stroke="#000" stroke-width="1.1" fill="none"/>
<rect x="528.20" y="774.10" width="33.80" height="13.20" rx="1.5" stroke="#000" stroke-width="1.3" fill="none"/>
<rect x="531.20" y="776.40" width="27.80" height="8.60" rx="0" stroke="#000" stroke-width="1.1" fill="none"/>
<path d="M474,799.5 L630,799.5 L632.3,801 L632.3,803.8" stroke="#000" stroke-width="1.0" fill="none" />
<line x1="617.00" y1="800.00" x2="617.00" y2="803.80" stroke="#000" stroke-width="0.8" />
<circle cx="588.50" cy="778.40" r="5.60" stroke="#555" stroke-width="3.0" fill="none"/>
<circle cx="588.50" cy="778.40" r="6.80" stroke="#000" stroke-width="1.3" fill="none"/>
<circle cx="588.50" cy="778.40" r="4.20" stroke="#000" stroke-width="1.3" fill="none"/>
<rect x="613.30" y="777.30" width="66.00" height="6.70" rx="0" stroke="#000" stroke-width="1.3" fill="none"/>
<line x1="704.20" y1="772.40" x2="735.60" y2="772.40" stroke="#000" stroke-width="1.8" />
<line x1="713.80" y1="772.40" x2="712.30" y2="803.80" stroke="#000" stroke-width="1.3" />
<circle cx="788.00" cy="780.50" r="4.20" stroke="#000" stroke-width="1.3" fill="#000"/>
<circle cx="788.00" cy="780.50" r="1.80" stroke="#fff" stroke-width="0.5" fill="#fff"/>
<line x1="314.80" y1="730.80" x2="314.80" y2="771.00" stroke="#1e1eff" stroke-width="1.5" />
<path d="M314.80,771.00 L311.80,765.00 L317.80,765.00 Z" fill="#1e1eff"/>
<line x1="387.30" y1="731.00" x2="387.30" y2="775.00" stroke="#1e1eff" stroke-width="1.5" />
<path d="M387.30,775.00 L384.30,769.00 L390.30,769.00 Z" fill="#1e1eff"/>
<line x1="502.70" y1="730.80" x2="502.70" y2="773.20" stroke="#1e1eff" stroke-width="1.5" />
<path d="M502.70,773.20 L499.70,767.20 L505.70,767.20 Z" fill="#1e1eff"/>
<line x1="589.00" y1="714.90" x2="589.00" y2="773.00" stroke="#1e1eff" stroke-width="1.5" />
<path d="M589.00,773.00 L586.00,767.00 L592.00,767.00 Z" fill="#1e1eff"/>
<line x1="720.70" y1="724.40" x2="720.70" y2="769.00" stroke="#1e1eff" stroke-width="1.5" />
<path d="M720.70,769.00 L717.70,763.00 L723.70,763.00 Z" fill="#1e1eff"/>
<line x1="346.00" y1="788.00" x2="346.00" y2="825.00" stroke="#1e1eff" stroke-width="1.5" />
<path d="M346.00,788.00 L349.00,794.00 L343.00,794.00 Z" fill="#1e1eff"/>
<line x1="420.70" y1="788.30" x2="420.70" y2="841.80" stroke="#1e1eff" stroke-width="1.5" />
<path d="M420.70,788.30 L423.70,794.30 L417.70,794.30 Z" fill="#1e1eff"/>
<line x1="547.00" y1="788.30" x2="547.00" y2="825.00" stroke="#1e1eff" stroke-width="1.5" />
<path d="M547.00,788.30 L550.00,794.30 L544.00,794.30 Z" fill="#1e1eff"/>
<line x1="649.20" y1="788.30" x2="649.20" y2="825.00" stroke="#1e1eff" stroke-width="1.5" />
<path d="M649.20,788.30 L652.20,794.30 L646.20,794.30 Z" fill="#1e1eff"/>
<text x="288.24" y="728.27" font-size="18.002" fill="#0a0aff" textLength="58.52" lengthAdjust="spacingAndGlyphs" stroke="#0a0aff" stroke-width="0.2">DC IN</text>
<text x="362.52" y="728.27" font-size="18.271" fill="#0a0aff" textLength="50.59" lengthAdjust="spacingAndGlyphs" stroke="#0a0aff" stroke-width="0.2">RJ45</text>
<text x="465.82" y="727.87" font-size="17.347" fill="#0a0aff" textLength="98.24" lengthAdjust="spacingAndGlyphs" stroke="#0a0aff" stroke-width="0.2">Serial port</text>
<text x="546.24" y="707.87" font-size="16.933" fill="#0a0aff" textLength="93.12" lengthAdjust="spacingAndGlyphs" stroke="#0a0aff" stroke-width="0.2">Earphone</text>
<text x="662.80" y="716.87" font-size="18.718" fill="#0a0aff" textLength="39.10" lengthAdjust="spacingAndGlyphs" stroke="#0a0aff" stroke-width="0.2">SIM</text>
<text x="723.00" y="716.87" font-size="18.037" fill="#0a0aff" textLength="78.41" lengthAdjust="spacingAndGlyphs" stroke="#0a0aff" stroke-width="0.2">Optional</text>
<text x="713.2" y="716.9" font-size="18.6" fill="#0a0aff" stroke="#0a0aff" stroke-width="0.5" textLength="6.3" lengthAdjust="spacingAndGlyphs">(</text>
<text x="802.6" y="716.9" font-size="18.6" fill="#0a0aff" stroke="#0a0aff" stroke-width="0.5" textLength="6.6" lengthAdjust="spacingAndGlyphs">)</text>
<text x="319.05" y="840.07" font-size="18.862" fill="#0a0aff" textLength="48.11" lengthAdjust="spacingAndGlyphs" stroke="#0a0aff" stroke-width="0.2">OTG</text>
<text x="375.37" y="855.97" font-size="17.689" fill="#0a0aff" textLength="96.07" lengthAdjust="spacingAndGlyphs" stroke="#0a0aff" stroke-width="0.2">Recoverry</text>
<text x="506.77" y="840.17" font-size="18.432" fill="#0a0aff" textLength="78.55" lengthAdjust="spacingAndGlyphs" stroke="#0a0aff" stroke-width="0.2">USB 2.0</text>
<text x="613.04" y="840.17" font-size="17.761" fill="#0a0aff" textLength="80.71" lengthAdjust="spacingAndGlyphs" stroke="#0a0aff" stroke-width="0.2">SD Card</text>
<line x1="1011.80" y1="598.00" x2="1011.80" y2="627.00" stroke="#000" stroke-width="1.6" />
</svg></body></html>
